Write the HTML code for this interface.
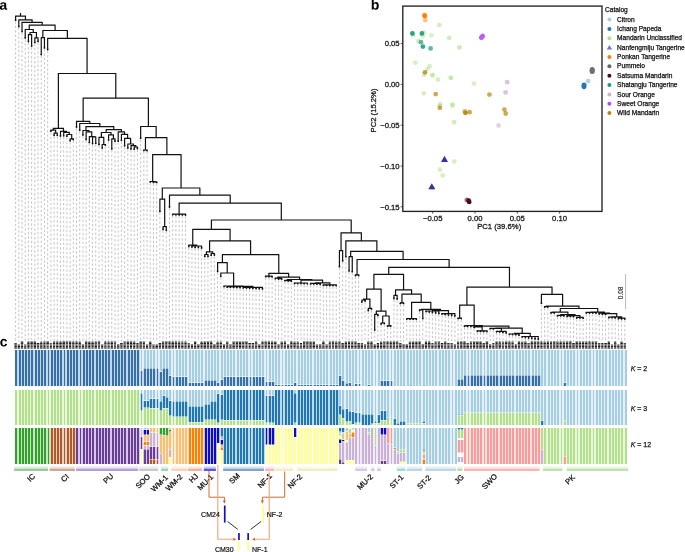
<!DOCTYPE html>
<html><head><meta charset="utf-8"><style>
html,body{margin:0;padding:0;background:#fff;}
body{width:685px;height:552px;overflow:hidden;font-family:"Liberation Sans",sans-serif;}
svg{display:block;font-family:"Liberation Sans",sans-serif;will-change:transform;}
</style></head><body>
<svg width="685" height="552" viewBox="0 0 685 552">
<defs><linearGradient id="g0" x1="0" y1="0" x2="0" y2="1"><stop offset="0" stop-color="#7cb87c" stop-opacity="0.04"/><stop offset="0.5" stop-color="#7cb87c" stop-opacity="0.3"/><stop offset="0.75" stop-color="#7cb87c" stop-opacity="0.75"/><stop offset="1" stop-color="#7cb87c" stop-opacity="1"/></linearGradient><linearGradient id="g1" x1="0" y1="0" x2="0" y2="1"><stop offset="0" stop-color="#c08a6a" stop-opacity="0.04"/><stop offset="0.5" stop-color="#c08a6a" stop-opacity="0.3"/><stop offset="0.75" stop-color="#c08a6a" stop-opacity="0.75"/><stop offset="1" stop-color="#c08a6a" stop-opacity="1"/></linearGradient><linearGradient id="g2" x1="0" y1="0" x2="0" y2="1"><stop offset="0" stop-color="#9b7fc8" stop-opacity="0.04"/><stop offset="0.5" stop-color="#9b7fc8" stop-opacity="0.3"/><stop offset="0.75" stop-color="#9b7fc8" stop-opacity="0.75"/><stop offset="1" stop-color="#9b7fc8" stop-opacity="1"/></linearGradient><linearGradient id="g3" x1="0" y1="0" x2="0" y2="1"><stop offset="0" stop-color="#b8b8b8" stop-opacity="0.04"/><stop offset="0.5" stop-color="#b8b8b8" stop-opacity="0.3"/><stop offset="0.75" stop-color="#b8b8b8" stop-opacity="0.75"/><stop offset="1" stop-color="#b8b8b8" stop-opacity="1"/></linearGradient><linearGradient id="g4" x1="0" y1="0" x2="0" y2="1"><stop offset="0" stop-color="#7cc4a4" stop-opacity="0.04"/><stop offset="0.5" stop-color="#7cc4a4" stop-opacity="0.3"/><stop offset="0.75" stop-color="#7cc4a4" stop-opacity="0.75"/><stop offset="1" stop-color="#7cc4a4" stop-opacity="1"/></linearGradient><linearGradient id="g5" x1="0" y1="0" x2="0" y2="1"><stop offset="0" stop-color="#f2c7a0" stop-opacity="0.04"/><stop offset="0.5" stop-color="#f2c7a0" stop-opacity="0.3"/><stop offset="0.75" stop-color="#f2c7a0" stop-opacity="0.75"/><stop offset="1" stop-color="#f2c7a0" stop-opacity="1"/></linearGradient><linearGradient id="g6" x1="0" y1="0" x2="0" y2="1"><stop offset="0" stop-color="#e69c78" stop-opacity="0.04"/><stop offset="0.5" stop-color="#e69c78" stop-opacity="0.3"/><stop offset="0.75" stop-color="#e69c78" stop-opacity="0.75"/><stop offset="1" stop-color="#e69c78" stop-opacity="1"/></linearGradient><linearGradient id="g7" x1="0" y1="0" x2="0" y2="1"><stop offset="0" stop-color="#2222d8" stop-opacity="0.04"/><stop offset="0.5" stop-color="#2222d8" stop-opacity="0.3"/><stop offset="0.75" stop-color="#2222d8" stop-opacity="0.75"/><stop offset="1" stop-color="#2222d8" stop-opacity="1"/></linearGradient><linearGradient id="g8" x1="0" y1="0" x2="0" y2="1"><stop offset="0" stop-color="#5b86b8" stop-opacity="0.04"/><stop offset="0.5" stop-color="#5b86b8" stop-opacity="0.3"/><stop offset="0.75" stop-color="#5b86b8" stop-opacity="0.75"/><stop offset="1" stop-color="#5b86b8" stop-opacity="1"/></linearGradient><linearGradient id="g9" x1="0" y1="0" x2="0" y2="1"><stop offset="0" stop-color="#f09cb0" stop-opacity="0.04"/><stop offset="0.5" stop-color="#f09cb0" stop-opacity="0.3"/><stop offset="0.75" stop-color="#f09cb0" stop-opacity="0.75"/><stop offset="1" stop-color="#f09cb0" stop-opacity="1"/></linearGradient><linearGradient id="g10" x1="0" y1="0" x2="0" y2="1"><stop offset="0" stop-color="#efe6b0" stop-opacity="0.04"/><stop offset="0.5" stop-color="#efe6b0" stop-opacity="0.3"/><stop offset="0.75" stop-color="#efe6b0" stop-opacity="0.75"/><stop offset="1" stop-color="#efe6b0" stop-opacity="1"/></linearGradient><linearGradient id="g11" x1="0" y1="0" x2="0" y2="1"><stop offset="0" stop-color="#efe6b0" stop-opacity="0.04"/><stop offset="0.5" stop-color="#efe6b0" stop-opacity="0.3"/><stop offset="0.75" stop-color="#efe6b0" stop-opacity="0.75"/><stop offset="1" stop-color="#efe6b0" stop-opacity="1"/></linearGradient><linearGradient id="g12" x1="0" y1="0" x2="0" y2="1"><stop offset="0" stop-color="#c8b4dc" stop-opacity="0.04"/><stop offset="0.5" stop-color="#c8b4dc" stop-opacity="0.3"/><stop offset="0.75" stop-color="#c8b4dc" stop-opacity="0.75"/><stop offset="1" stop-color="#c8b4dc" stop-opacity="1"/></linearGradient><linearGradient id="g13" x1="0" y1="0" x2="0" y2="1"><stop offset="0" stop-color="#c8b4dc" stop-opacity="0.04"/><stop offset="0.5" stop-color="#c8b4dc" stop-opacity="0.3"/><stop offset="0.75" stop-color="#c8b4dc" stop-opacity="0.75"/><stop offset="1" stop-color="#c8b4dc" stop-opacity="1"/></linearGradient><linearGradient id="g14" x1="0" y1="0" x2="0" y2="1"><stop offset="0" stop-color="#c8b4dc" stop-opacity="0.04"/><stop offset="0.5" stop-color="#c8b4dc" stop-opacity="0.3"/><stop offset="0.75" stop-color="#c8b4dc" stop-opacity="0.75"/><stop offset="1" stop-color="#c8b4dc" stop-opacity="1"/></linearGradient><linearGradient id="g15" x1="0" y1="0" x2="0" y2="1"><stop offset="0" stop-color="#78d0d0" stop-opacity="0.04"/><stop offset="0.5" stop-color="#78d0d0" stop-opacity="0.3"/><stop offset="0.75" stop-color="#78d0d0" stop-opacity="0.75"/><stop offset="1" stop-color="#78d0d0" stop-opacity="1"/></linearGradient><linearGradient id="g16" x1="0" y1="0" x2="0" y2="1"><stop offset="0" stop-color="#a8c8dc" stop-opacity="0.04"/><stop offset="0.5" stop-color="#a8c8dc" stop-opacity="0.3"/><stop offset="0.75" stop-color="#a8c8dc" stop-opacity="0.75"/><stop offset="1" stop-color="#a8c8dc" stop-opacity="1"/></linearGradient><linearGradient id="g17" x1="0" y1="0" x2="0" y2="1"><stop offset="0" stop-color="#a8c8dc" stop-opacity="0.04"/><stop offset="0.5" stop-color="#a8c8dc" stop-opacity="0.3"/><stop offset="0.75" stop-color="#a8c8dc" stop-opacity="0.75"/><stop offset="1" stop-color="#a8c8dc" stop-opacity="1"/></linearGradient><linearGradient id="g18" x1="0" y1="0" x2="0" y2="1"><stop offset="0" stop-color="#a0d090" stop-opacity="0.04"/><stop offset="0.5" stop-color="#a0d090" stop-opacity="0.3"/><stop offset="0.75" stop-color="#a0d090" stop-opacity="0.75"/><stop offset="1" stop-color="#a0d090" stop-opacity="1"/></linearGradient><linearGradient id="g19" x1="0" y1="0" x2="0" y2="1"><stop offset="0" stop-color="#f4a0a0" stop-opacity="0.04"/><stop offset="0.5" stop-color="#f4a0a0" stop-opacity="0.3"/><stop offset="0.75" stop-color="#f4a0a0" stop-opacity="0.75"/><stop offset="1" stop-color="#f4a0a0" stop-opacity="1"/></linearGradient><linearGradient id="g20" x1="0" y1="0" x2="0" y2="1"><stop offset="0" stop-color="#a8d890" stop-opacity="0.04"/><stop offset="0.5" stop-color="#a8d890" stop-opacity="0.3"/><stop offset="0.75" stop-color="#a8d890" stop-opacity="0.75"/><stop offset="1" stop-color="#a8d890" stop-opacity="1"/></linearGradient><linearGradient id="g21" x1="0" y1="0" x2="0" y2="1"><stop offset="0" stop-color="#a8d890" stop-opacity="0.04"/><stop offset="0.5" stop-color="#a8d890" stop-opacity="0.3"/><stop offset="0.75" stop-color="#a8d890" stop-opacity="0.75"/><stop offset="1" stop-color="#a8d890" stop-opacity="1"/></linearGradient></defs>
<rect width="685" height="552" fill="#fff"/>
<g><path d="M15.60 21.40V341.6 M18.81 27.80V341.6 M22.01 32.80V341.6 M25.22 39.10V341.6 M28.43 42.70V341.6 M31.63 47.30V341.6 M34.84 43.60V341.6 M38.04 42.60V341.6 M41.25 55.80V341.6 M44.46 49.10V341.6 M47.66 50.70V341.6 M50.87 132.40V341.6 M54.08 136.50V341.6 M57.28 136.50V341.6 M60.49 137.20V341.6 M63.69 137.00V341.6 M66.90 137.40V341.6 M70.11 142.00V341.6 M73.31 140.70V341.6 M76.52 128.20V341.6 M79.73 131.40V341.6 M82.93 136.10V341.6 M86.14 140.70V341.6 M89.34 143.60V341.6 M92.55 144.80V341.6 M95.76 144.50V341.6 M98.96 145.70V341.6 M102.17 149.30V341.6 M105.38 146.20V341.6 M108.58 141.30V341.6 M111.79 150.10V341.6 M115.00 142.40V341.6 M118.20 142.40V341.6 M121.41 141.50V341.6 M124.61 147.00V341.6 M127.82 149.30V341.6 M131.03 150.20V341.6 M134.23 150.40V341.6 M137.44 149.70V341.6 M140.65 139.40V341.6 M143.85 151.80V341.6 M147.06 151.90V341.6 M150.26 183.30V341.6 M153.47 183.60V341.6 M156.68 183.60V341.6 M159.88 212.60V341.6 M163.09 230.60V341.6 M166.30 231.50V341.6 M169.50 208.20V341.6 M172.71 215.90V341.6 M175.91 216.00V341.6 M179.12 216.10V341.6 M182.33 216.10V341.6 M185.53 216.20V341.6 M188.74 247.80V341.6 M191.95 248.20V341.6 M195.15 248.60V341.6 M198.36 248.80V341.6 M201.57 249.20V341.6 M204.77 257.60V341.6 M207.98 257.60V341.6 M211.18 256.40V341.6 M214.39 256.20V341.6 M217.60 272.60V341.6 M220.80 277.50V341.6 M224.01 287.80V341.6 M227.22 288.40V341.6 M230.42 288.52V341.6 M233.63 288.65V341.6 M236.83 288.77V341.6 M240.04 288.90V341.6 M243.25 289.10V341.6 M246.45 289.27V341.6 M249.66 289.43V341.6 M252.87 289.60V341.6 M256.07 289.77V341.6 M259.28 289.93V341.6 M262.49 290.10V341.6 M265.69 277.90V341.6 M268.90 278.00V341.6 M272.10 278.10V341.6 M275.31 279.90V341.6 M278.52 280.20V341.6 M281.72 280.30V341.6 M284.93 282.00V341.6 M288.14 282.20V341.6 M291.34 282.40V341.6 M294.55 284.70V341.6 M297.75 284.80V341.6 M300.96 284.80V341.6 M304.17 284.90V341.6 M307.37 285.00V341.6 M310.58 285.10V341.6 M313.79 285.20V341.6 M316.99 285.40V341.6 M320.20 285.60V341.6 M323.40 286.50V341.6 M326.61 286.60V341.6 M329.82 286.70V341.6 M333.02 286.80V341.6 M336.23 286.90V341.6 M339.44 267.90V341.6 M342.64 262.10V341.6 M345.85 257.90V341.6 M349.06 272.10V341.6 M352.26 272.90V341.6 M355.47 276.70V341.6 M358.67 276.70V341.6 M361.88 303.20V341.6 M365.09 302.20V341.6 M368.29 311.70V341.6 M371.50 310.20V341.6 M374.71 331.30V341.6 M377.91 316.70V341.6 M381.12 325.20V341.6 M384.32 324.70V341.6 M387.53 327.20V341.6 M390.74 327.20V341.6 M393.94 299.70V341.6 M397.15 300.20V341.6 M400.36 304.60V341.6 M403.56 304.60V341.6 M406.77 320.30V341.6 M409.97 320.40V341.6 M413.18 320.40V341.6 M416.39 320.50V341.6 M419.59 311.70V341.6 M422.80 319.80V341.6 M426.01 312.70V341.6 M429.21 313.20V341.6 M432.42 313.70V341.6 M435.63 314.20V341.6 M438.83 314.70V341.6 M442.04 315.20V341.6 M445.24 315.70V341.6 M448.45 316.20V341.6 M451.66 316.70V341.6 M454.86 317.20V341.6 M458.07 319.80V341.6 M461.28 319.80V341.6 M464.48 327.50V341.6 M467.69 327.60V341.6 M470.89 327.70V341.6 M474.10 328.60V341.6 M477.31 332.50V341.6 M480.51 332.60V341.6 M483.72 332.70V341.6 M486.93 332.80V341.6 M490.13 330.00V341.6 M493.34 330.10V341.6 M496.55 333.00V341.6 M499.75 333.20V341.6 M502.96 333.60V341.6 M506.16 334.20V341.6 M509.37 335.60V341.6 M512.58 335.80V341.6 M515.78 336.00V341.6 M518.99 336.40V341.6 M522.20 338.20V341.6 M525.40 338.70V341.6 M528.61 339.20V341.6 M531.81 339.70V341.6 M535.02 340.20V341.6 M538.23 340.50V341.6 M541.43 304.40V341.6 M544.64 308.20V341.6 M547.85 308.20V341.6 M551.05 314.20V341.6 M554.26 314.20V341.6 M557.46 317.10V341.6 M560.67 317.10V341.6 M563.88 317.20V341.6 M567.08 317.70V341.6 M570.29 317.80V341.6 M573.50 317.90V341.6 M576.70 319.20V341.6 M579.91 319.30V341.6 M583.12 319.40V341.6 M586.32 314.20V341.6 M589.53 314.20V341.6 M592.73 314.30V341.6 M595.94 314.40V341.6 M599.15 315.20V341.6 M602.35 315.50V341.6 M605.56 315.60V341.6 M608.77 318.90V341.6 M611.97 319.00V341.6 M615.18 319.10V341.6 M618.38 320.00V341.6 M621.59 320.10V341.6 M624.80 320.20V341.6" stroke="#bababa" stroke-width="0.85" stroke-dasharray="2.4 2.0" fill="none"/><path d="M27.93 34.70H32.13 M34.34 37.90H38.54 M29.53 32.50H36.94 M24.72 29.50H33.73 M40.75 37.70H44.96 M53.58 133.20H57.78 M50.37 130.10H56.18 M69.61 138.90H73.81 M66.40 134.50H72.21 M63.19 132.30H69.81 M59.99 131.40H67.00 M52.77 128.40H63.99 M92.05 136.90H96.26 M88.84 136.60H94.65 M85.64 131.90H92.25 M82.43 130.50H89.44 M101.67 144.50H105.88 M98.46 137.40H104.27 M111.29 138.90H115.50 M108.08 134.80H113.89 M100.87 132.50H111.49 M133.73 147.00H137.94 M130.53 145.60H136.34 M127.32 144.00H133.93 M124.11 138.40H131.13 M120.91 134.40H128.12 M117.70 131.80H125.01 M105.68 129.70H121.86 M85.44 126.60H114.27 M79.23 123.50H100.35 M76.02 121.30H90.29 M143.35 150.00H147.56 M152.97 181.90H157.18 M149.76 181.50H155.57 M162.59 226.70H166.80 M159.38 199.20H165.19 M172.21 214.20H186.03 M191.45 246.00H202.07 M188.24 245.10H197.26 M204.27 254.50H208.48 M210.68 253.50H214.89 M205.87 251.90H213.29 M226.72 286.70H240.54 M242.75 287.40H262.99 M233.13 286.30H253.37 M223.51 286.00H243.75 M220.30 273.00H234.13 M217.10 262.70H227.72 M265.19 276.10H272.60 M278.02 278.60H282.22 M274.81 278.20H280.62 M287.64 280.60H291.84 M284.43 280.30H290.24 M294.05 283.00H307.87 M310.08 283.40H320.70 M322.90 284.90H336.73 M314.89 282.80H330.32 M300.46 280.20H323.10 M286.83 279.50H312.28 M277.22 277.10H300.06 M268.40 273.40H289.14 M221.91 254.60H279.27 M209.08 240.90H251.09 M192.25 229.40H230.58 M338.94 250.70H343.14 M348.56 256.70H352.76 M354.97 274.90H359.17 M361.38 300.00H365.59 M367.79 308.40H372.00 M362.98 299.10H370.40 M374.21 314.30H378.41 M380.62 323.00H384.82 M387.03 325.80H391.24 M382.22 316.00H389.63 M375.81 311.10H386.43 M366.19 289.10H381.62 M393.44 295.30H397.65 M399.86 302.90H404.06 M406.27 318.60H416.89 M419.09 309.80H423.30 M425.51 311.00H439.33 M441.54 313.60H455.36 M431.92 310.70H448.95 M420.70 309.30H440.93 M411.08 302.30H431.32 M401.46 294.20H421.70 M395.05 289.90H412.08 M373.40 274.40H404.06 M457.57 318.10H461.78 M463.98 325.80H468.19 M476.81 330.80H487.43 M473.60 327.00H482.62 M496.05 331.40H506.66 M489.63 328.40H501.85 M508.87 334.00H519.49 M521.70 336.50H538.73 M513.68 333.40H530.71 M495.24 328.10H522.70 M477.61 326.20H509.47 M470.39 326.00H494.04 M465.59 325.50H482.72 M459.17 305.20H474.65 M544.14 306.60H548.35 M550.55 312.40H554.76 M556.96 315.30H564.38 M566.58 315.90H574.00 M576.20 317.40H583.62 M569.79 315.60H580.41 M560.17 314.70H575.60 M552.16 312.10H568.39 M585.82 312.40H596.44 M608.27 317.20H615.68 M617.88 318.20H625.30 M611.47 316.80H622.09 M601.85 313.60H617.28 M598.65 313.20H610.07 M590.63 312.10H604.86 M559.77 308.50H598.24 M545.74 306.20H579.51 M540.93 294.30H563.12 M466.41 287.20H552.53 M388.23 267.40H509.97 M356.57 259.50H449.60 M350.16 251.40H403.59 M345.35 240.80H377.37 M340.54 232.80H361.86 M210.92 220.00H351.70 M178.62 203.10H281.81 M169.00 195.20H230.71 M161.79 188.00H200.36 M152.17 154.60H181.57 M144.96 137.60H167.37 M140.15 126.50H156.66 M82.65 98.20H148.90 M57.88 73.50H116.28 M47.16 38.30H87.58 M42.35 30.50H67.87 M28.73 25.20H55.61 M21.51 22.30H42.67 M18.31 19.80H32.59 M15.10 16.20H25.95 M15.60 16.20V20.20 M18.81 19.80V26.60 M22.01 22.30V31.60 M25.22 29.50V37.90 M28.43 34.70V41.50 M31.63 34.70V46.10 M30.03 32.50V34.70 M34.84 37.90V42.40 M38.04 37.90V41.40 M36.44 32.50V37.90 M33.23 29.50V32.50 M29.23 25.20V29.50 M41.25 37.70V54.60 M44.46 37.70V47.90 M42.85 30.50V37.70 M47.66 38.30V49.50 M50.87 130.10V131.20 M54.08 133.20V135.30 M57.28 133.20V135.30 M55.68 130.10V133.20 M53.27 128.40V130.10 M60.49 131.40V136.00 M63.69 132.30V135.80 M66.90 134.50V136.20 M70.11 138.90V140.80 M73.31 138.90V139.50 M71.71 134.50V138.90 M69.31 132.30V134.50 M66.50 131.40V132.30 M63.49 128.40V131.40 M58.38 73.50V128.40 M76.52 121.30V127.00 M79.73 123.50V130.20 M82.93 130.50V134.90 M86.14 131.90V139.50 M89.34 136.60V142.40 M92.55 136.90V143.60 M95.76 136.90V143.30 M94.15 136.60V136.90 M91.75 131.90V136.60 M88.94 130.50V131.90 M85.94 126.60V130.50 M98.96 137.40V144.50 M102.17 144.50V148.10 M105.38 144.50V145.00 M103.77 137.40V144.50 M101.37 132.50V137.40 M108.58 134.80V140.10 M111.79 138.90V148.90 M115.00 138.90V141.20 M113.39 134.80V138.90 M110.99 132.50V134.80 M106.18 129.70V132.50 M118.20 131.80V141.20 M121.41 134.40V140.30 M124.61 138.40V145.80 M127.82 144.00V148.10 M131.03 145.60V149.00 M134.23 147.00V149.20 M137.44 147.00V148.50 M135.84 145.60V147.00 M133.43 144.00V145.60 M130.63 138.40V144.00 M127.62 134.40V138.40 M124.51 131.80V134.40 M121.36 129.70V131.80 M113.77 126.60V129.70 M99.85 123.50V126.60 M89.79 121.30V123.50 M83.15 98.20V121.30 M140.65 126.50V138.20 M143.85 150.00V150.60 M147.06 150.00V150.70 M145.46 137.60V150.00 M150.26 181.50V182.10 M153.47 181.90V182.40 M156.68 181.90V182.40 M155.07 181.50V181.90 M152.67 154.60V181.50 M159.88 199.20V211.40 M163.09 226.70V229.40 M166.30 226.70V230.30 M164.69 199.20V226.70 M162.29 188.00V199.20 M169.50 195.20V207.00 M172.71 214.20V214.70 M175.91 214.20V214.80 M179.12 214.20V214.90 M182.33 214.20V214.90 M185.53 214.20V215.00 M179.12 203.10V214.20 M188.74 245.10V246.60 M191.95 246.00V247.00 M195.15 246.00V247.40 M198.36 246.00V247.60 M201.57 246.00V248.00 M196.76 245.10V246.00 M192.75 229.40V245.10 M204.77 254.50V256.40 M207.98 254.50V256.40 M206.37 251.90V254.50 M211.18 253.50V255.20 M214.39 253.50V255.00 M212.79 251.90V253.50 M209.58 240.90V251.90 M217.60 262.70V271.40 M220.80 273.00V276.30 M224.01 286.00V286.60 M227.22 286.70V287.20 M230.42 286.70V287.32 M233.63 286.70V287.45 M236.83 286.70V287.57 M240.04 286.70V287.70 M233.63 286.30V286.70 M243.25 287.40V287.90 M246.45 287.40V288.07 M249.66 287.40V288.23 M252.87 287.40V288.40 M256.07 287.40V288.57 M259.28 287.40V288.73 M262.49 287.40V288.90 M252.87 286.30V287.40 M243.25 286.00V286.30 M233.63 273.00V286.00 M227.22 262.70V273.00 M222.41 254.60V262.70 M265.69 276.10V276.70 M268.90 276.10V276.80 M272.10 276.10V276.90 M268.90 273.40V276.10 M275.31 278.20V278.70 M278.52 278.60V279.00 M281.72 278.60V279.10 M280.12 278.20V278.60 M277.72 277.10V278.20 M284.93 280.30V280.80 M288.14 280.60V281.00 M291.34 280.60V281.20 M289.74 280.30V280.60 M287.33 279.50V280.30 M294.55 283.00V283.50 M297.75 283.00V283.60 M300.96 283.00V283.60 M304.17 283.00V283.70 M307.37 283.00V283.80 M300.96 280.20V283.00 M310.58 283.40V283.90 M313.79 283.40V284.00 M316.99 283.40V284.20 M320.20 283.40V284.40 M315.39 282.80V283.40 M323.40 284.90V285.30 M326.61 284.90V285.40 M329.82 284.90V285.50 M333.02 284.90V285.60 M336.23 284.90V285.70 M329.82 282.80V284.90 M322.60 280.20V282.80 M311.78 279.50V280.20 M299.56 277.10V279.50 M288.64 273.40V277.10 M278.77 254.60V273.40 M250.59 240.90V254.60 M230.08 229.40V240.90 M211.42 220.00V229.40 M339.44 250.70V266.70 M342.64 250.70V260.90 M341.04 232.80V250.70 M345.85 240.80V256.70 M349.06 256.70V270.90 M352.26 256.70V271.70 M350.66 251.40V256.70 M355.47 274.90V275.50 M358.67 274.90V275.50 M357.07 259.50V274.90 M361.88 300.00V302.00 M365.09 300.00V301.00 M363.48 299.10V300.00 M368.29 308.40V310.50 M371.50 308.40V309.00 M369.90 299.10V308.40 M366.69 289.10V299.10 M374.71 314.30V330.10 M377.91 314.30V315.50 M376.31 311.10V314.30 M381.12 323.00V324.00 M384.32 323.00V323.50 M382.72 316.00V323.00 M387.53 325.80V326.00 M390.74 325.80V326.00 M389.13 316.00V325.80 M385.93 311.10V316.00 M381.12 289.10V311.10 M373.90 274.40V289.10 M393.94 295.30V298.50 M397.15 295.30V299.00 M395.55 289.90V295.30 M400.36 302.90V303.40 M403.56 302.90V303.40 M401.96 294.20V302.90 M406.77 318.60V319.10 M409.97 318.60V319.20 M413.18 318.60V319.20 M416.39 318.60V319.30 M411.58 302.30V318.60 M419.59 309.80V310.50 M422.80 309.80V318.60 M421.20 309.30V309.80 M426.01 311.00V311.50 M429.21 311.00V312.00 M432.42 311.00V312.50 M435.63 311.00V313.00 M438.83 311.00V313.50 M432.42 310.70V311.00 M442.04 313.60V314.00 M445.24 313.60V314.50 M448.45 313.60V315.00 M451.66 313.60V315.50 M454.86 313.60V316.00 M448.45 310.70V313.60 M440.43 309.30V310.70 M430.82 302.30V309.30 M421.20 294.20V302.30 M411.58 289.90V294.20 M403.56 274.40V289.90 M388.73 267.40V274.40 M458.07 318.10V318.60 M461.28 318.10V318.60 M459.67 305.20V318.10 M464.48 325.80V326.30 M467.69 325.80V326.40 M466.09 325.50V325.80 M470.89 326.00V326.50 M474.10 327.00V327.40 M477.31 330.80V331.30 M480.51 330.80V331.40 M483.72 330.80V331.50 M486.93 330.80V331.60 M482.12 327.00V330.80 M478.11 326.20V327.00 M490.13 328.40V328.80 M493.34 328.40V328.90 M496.55 331.40V331.80 M499.75 331.40V332.00 M502.96 331.40V332.40 M506.16 331.40V333.00 M501.35 328.40V331.40 M495.74 328.10V328.40 M509.37 334.00V334.40 M512.58 334.00V334.60 M515.78 334.00V334.80 M518.99 334.00V335.20 M514.18 333.40V334.00 M522.20 336.50V337.00 M525.40 336.50V337.50 M528.61 336.50V338.00 M531.81 336.50V338.50 M535.02 336.50V339.00 M538.23 336.50V339.30 M530.21 333.40V336.50 M522.20 328.10V333.40 M508.97 326.20V328.10 M493.54 326.00V326.20 M482.22 325.50V326.00 M474.15 305.20V325.50 M466.91 287.20V305.20 M541.43 294.30V303.20 M544.64 306.60V307.00 M547.85 306.60V307.00 M546.24 306.20V306.60 M551.05 312.40V313.00 M554.26 312.40V313.00 M552.66 312.10V312.40 M557.46 315.30V315.90 M560.67 315.30V315.90 M563.88 315.30V316.00 M560.67 314.70V315.30 M567.08 315.90V316.50 M570.29 315.90V316.60 M573.50 315.90V316.70 M570.29 315.60V315.90 M576.70 317.40V318.00 M579.91 317.40V318.10 M583.12 317.40V318.20 M579.91 315.60V317.40 M575.10 314.70V315.60 M567.89 312.10V314.70 M560.27 308.50V312.10 M586.32 312.40V313.00 M589.53 312.40V313.00 M592.73 312.40V313.10 M595.94 312.40V313.20 M591.13 312.10V312.40 M599.15 313.20V314.00 M602.35 313.60V314.30 M605.56 313.60V314.40 M608.77 317.20V317.70 M611.97 317.20V317.80 M615.18 317.20V317.90 M611.97 316.80V317.20 M618.38 318.20V318.80 M621.59 318.20V318.90 M624.80 318.20V319.00 M621.59 316.80V318.20 M616.78 313.60V316.80 M609.57 313.20V313.60 M604.36 312.10V313.20 M597.74 308.50V312.10 M579.01 306.20V308.50 M562.62 294.30V306.20 M552.03 287.20V294.30 M509.47 267.40V287.20 M449.10 259.50V267.40 M403.09 251.40V259.50 M376.87 240.80V251.40 M361.36 232.80V240.80 M351.20 220.00V232.80 M281.31 203.10V220.00 M230.21 195.20V203.10 M199.86 188.00V195.20 M181.07 154.60V188.00 M166.87 137.60V154.60 M156.16 126.50V137.60 M148.40 98.20V126.50 M115.78 73.50V98.20 M87.08 38.30V73.50 M67.37 30.50V38.30 M55.11 25.20V30.50 M42.17 22.30V25.20 M32.09 19.80V22.30 M25.45 16.20V19.80 M20.52 13.00V16.20" stroke="#111" stroke-width="1.2" fill="none" stroke-linecap="butt"/><g fill="#151515"><circle cx="15.60" cy="20.20" r="0.9"/><circle cx="18.81" cy="26.60" r="0.9"/><circle cx="22.01" cy="31.60" r="0.9"/><circle cx="25.22" cy="37.90" r="0.9"/><circle cx="28.43" cy="41.50" r="0.9"/><circle cx="31.63" cy="46.10" r="0.9"/><circle cx="34.84" cy="42.40" r="0.9"/><circle cx="38.04" cy="41.40" r="0.9"/><circle cx="41.25" cy="54.60" r="0.9"/><circle cx="44.46" cy="47.90" r="0.9"/><circle cx="47.66" cy="49.50" r="0.9"/><circle cx="50.87" cy="131.20" r="0.9"/><circle cx="54.08" cy="135.30" r="0.9"/><circle cx="57.28" cy="135.30" r="0.9"/><circle cx="60.49" cy="136.00" r="0.9"/><circle cx="63.69" cy="135.80" r="0.9"/><circle cx="66.90" cy="136.20" r="0.9"/><circle cx="70.11" cy="140.80" r="0.9"/><circle cx="73.31" cy="139.50" r="0.9"/><circle cx="76.52" cy="127.00" r="0.9"/><circle cx="79.73" cy="130.20" r="0.9"/><circle cx="82.93" cy="134.90" r="0.9"/><circle cx="86.14" cy="139.50" r="0.9"/><circle cx="89.34" cy="142.40" r="0.9"/><circle cx="92.55" cy="143.60" r="0.9"/><circle cx="95.76" cy="143.30" r="0.9"/><circle cx="98.96" cy="144.50" r="0.9"/><circle cx="102.17" cy="148.10" r="0.9"/><circle cx="105.38" cy="145.00" r="0.9"/><circle cx="108.58" cy="140.10" r="0.9"/><circle cx="111.79" cy="148.90" r="0.9"/><circle cx="115.00" cy="141.20" r="0.9"/><circle cx="118.20" cy="141.20" r="0.9"/><circle cx="121.41" cy="140.30" r="0.9"/><circle cx="124.61" cy="145.80" r="0.9"/><circle cx="127.82" cy="148.10" r="0.9"/><circle cx="131.03" cy="149.00" r="0.9"/><circle cx="134.23" cy="149.20" r="0.9"/><circle cx="137.44" cy="148.50" r="0.9"/><circle cx="140.65" cy="138.20" r="0.9"/><circle cx="143.85" cy="150.60" r="0.9"/><circle cx="147.06" cy="150.70" r="0.9"/><circle cx="150.26" cy="182.10" r="0.9"/><circle cx="153.47" cy="182.40" r="0.9"/><circle cx="156.68" cy="182.40" r="0.9"/><circle cx="159.88" cy="211.40" r="0.9"/><circle cx="163.09" cy="229.40" r="0.9"/><circle cx="166.30" cy="230.30" r="0.9"/><circle cx="169.50" cy="207.00" r="0.9"/><circle cx="172.71" cy="214.70" r="0.9"/><circle cx="175.91" cy="214.80" r="0.9"/><circle cx="179.12" cy="214.90" r="0.9"/><circle cx="182.33" cy="214.90" r="0.9"/><circle cx="185.53" cy="215.00" r="0.9"/><circle cx="188.74" cy="246.60" r="0.9"/><circle cx="191.95" cy="247.00" r="0.9"/><circle cx="195.15" cy="247.40" r="0.9"/><circle cx="198.36" cy="247.60" r="0.9"/><circle cx="201.57" cy="248.00" r="0.9"/><circle cx="204.77" cy="256.40" r="0.9"/><circle cx="207.98" cy="256.40" r="0.9"/><circle cx="211.18" cy="255.20" r="0.9"/><circle cx="214.39" cy="255.00" r="0.9"/><circle cx="217.60" cy="271.40" r="0.9"/><circle cx="220.80" cy="276.30" r="0.9"/><circle cx="224.01" cy="286.60" r="0.9"/><circle cx="227.22" cy="287.20" r="0.9"/><circle cx="230.42" cy="287.32" r="0.9"/><circle cx="233.63" cy="287.45" r="0.9"/><circle cx="236.83" cy="287.57" r="0.9"/><circle cx="240.04" cy="287.70" r="0.9"/><circle cx="243.25" cy="287.90" r="0.9"/><circle cx="246.45" cy="288.07" r="0.9"/><circle cx="249.66" cy="288.23" r="0.9"/><circle cx="252.87" cy="288.40" r="0.9"/><circle cx="256.07" cy="288.57" r="0.9"/><circle cx="259.28" cy="288.73" r="0.9"/><circle cx="262.49" cy="288.90" r="0.9"/><circle cx="265.69" cy="276.70" r="0.9"/><circle cx="268.90" cy="276.80" r="0.9"/><circle cx="272.10" cy="276.90" r="0.9"/><circle cx="275.31" cy="278.70" r="0.9"/><circle cx="278.52" cy="279.00" r="0.9"/><circle cx="281.72" cy="279.10" r="0.9"/><circle cx="284.93" cy="280.80" r="0.9"/><circle cx="288.14" cy="281.00" r="0.9"/><circle cx="291.34" cy="281.20" r="0.9"/><circle cx="294.55" cy="283.50" r="0.9"/><circle cx="297.75" cy="283.60" r="0.9"/><circle cx="300.96" cy="283.60" r="0.9"/><circle cx="304.17" cy="283.70" r="0.9"/><circle cx="307.37" cy="283.80" r="0.9"/><circle cx="310.58" cy="283.90" r="0.9"/><circle cx="313.79" cy="284.00" r="0.9"/><circle cx="316.99" cy="284.20" r="0.9"/><circle cx="320.20" cy="284.40" r="0.9"/><circle cx="323.40" cy="285.30" r="0.9"/><circle cx="326.61" cy="285.40" r="0.9"/><circle cx="329.82" cy="285.50" r="0.9"/><circle cx="333.02" cy="285.60" r="0.9"/><circle cx="336.23" cy="285.70" r="0.9"/><circle cx="339.44" cy="266.70" r="0.9"/><circle cx="342.64" cy="260.90" r="0.9"/><circle cx="345.85" cy="256.70" r="0.9"/><circle cx="349.06" cy="270.90" r="0.9"/><circle cx="352.26" cy="271.70" r="0.9"/><circle cx="355.47" cy="275.50" r="0.9"/><circle cx="358.67" cy="275.50" r="0.9"/><circle cx="361.88" cy="302.00" r="0.9"/><circle cx="365.09" cy="301.00" r="0.9"/><circle cx="368.29" cy="310.50" r="0.9"/><circle cx="371.50" cy="309.00" r="0.9"/><circle cx="374.71" cy="330.10" r="0.9"/><circle cx="377.91" cy="315.50" r="0.9"/><circle cx="381.12" cy="324.00" r="0.9"/><circle cx="384.32" cy="323.50" r="0.9"/><circle cx="387.53" cy="326.00" r="0.9"/><circle cx="390.74" cy="326.00" r="0.9"/><circle cx="393.94" cy="298.50" r="0.9"/><circle cx="397.15" cy="299.00" r="0.9"/><circle cx="400.36" cy="303.40" r="0.9"/><circle cx="403.56" cy="303.40" r="0.9"/><circle cx="406.77" cy="319.10" r="0.9"/><circle cx="409.97" cy="319.20" r="0.9"/><circle cx="413.18" cy="319.20" r="0.9"/><circle cx="416.39" cy="319.30" r="0.9"/><circle cx="419.59" cy="310.50" r="0.9"/><circle cx="422.80" cy="318.60" r="0.9"/><circle cx="426.01" cy="311.50" r="0.9"/><circle cx="429.21" cy="312.00" r="0.9"/><circle cx="432.42" cy="312.50" r="0.9"/><circle cx="435.63" cy="313.00" r="0.9"/><circle cx="438.83" cy="313.50" r="0.9"/><circle cx="442.04" cy="314.00" r="0.9"/><circle cx="445.24" cy="314.50" r="0.9"/><circle cx="448.45" cy="315.00" r="0.9"/><circle cx="451.66" cy="315.50" r="0.9"/><circle cx="454.86" cy="316.00" r="0.9"/><circle cx="458.07" cy="318.60" r="0.9"/><circle cx="461.28" cy="318.60" r="0.9"/><circle cx="464.48" cy="326.30" r="0.9"/><circle cx="467.69" cy="326.40" r="0.9"/><circle cx="470.89" cy="326.50" r="0.9"/><circle cx="474.10" cy="327.40" r="0.9"/><circle cx="477.31" cy="331.30" r="0.9"/><circle cx="480.51" cy="331.40" r="0.9"/><circle cx="483.72" cy="331.50" r="0.9"/><circle cx="486.93" cy="331.60" r="0.9"/><circle cx="490.13" cy="328.80" r="0.9"/><circle cx="493.34" cy="328.90" r="0.9"/><circle cx="496.55" cy="331.80" r="0.9"/><circle cx="499.75" cy="332.00" r="0.9"/><circle cx="502.96" cy="332.40" r="0.9"/><circle cx="506.16" cy="333.00" r="0.9"/><circle cx="509.37" cy="334.40" r="0.9"/><circle cx="512.58" cy="334.60" r="0.9"/><circle cx="515.78" cy="334.80" r="0.9"/><circle cx="518.99" cy="335.20" r="0.9"/><circle cx="522.20" cy="337.00" r="0.9"/><circle cx="525.40" cy="337.50" r="0.9"/><circle cx="528.61" cy="338.00" r="0.9"/><circle cx="531.81" cy="338.50" r="0.9"/><circle cx="535.02" cy="339.00" r="0.9"/><circle cx="538.23" cy="339.30" r="0.9"/><circle cx="541.43" cy="303.20" r="0.9"/><circle cx="544.64" cy="307.00" r="0.9"/><circle cx="547.85" cy="307.00" r="0.9"/><circle cx="551.05" cy="313.00" r="0.9"/><circle cx="554.26" cy="313.00" r="0.9"/><circle cx="557.46" cy="315.90" r="0.9"/><circle cx="560.67" cy="315.90" r="0.9"/><circle cx="563.88" cy="316.00" r="0.9"/><circle cx="567.08" cy="316.50" r="0.9"/><circle cx="570.29" cy="316.60" r="0.9"/><circle cx="573.50" cy="316.70" r="0.9"/><circle cx="576.70" cy="318.00" r="0.9"/><circle cx="579.91" cy="318.10" r="0.9"/><circle cx="583.12" cy="318.20" r="0.9"/><circle cx="586.32" cy="313.00" r="0.9"/><circle cx="589.53" cy="313.00" r="0.9"/><circle cx="592.73" cy="313.10" r="0.9"/><circle cx="595.94" cy="313.20" r="0.9"/><circle cx="599.15" cy="314.00" r="0.9"/><circle cx="602.35" cy="314.30" r="0.9"/><circle cx="605.56" cy="314.40" r="0.9"/><circle cx="608.77" cy="317.70" r="0.9"/><circle cx="611.97" cy="317.80" r="0.9"/><circle cx="615.18" cy="317.90" r="0.9"/><circle cx="618.38" cy="318.80" r="0.9"/><circle cx="621.59" cy="318.90" r="0.9"/><circle cx="624.80" cy="319.00" r="0.9"/></g><g><rect x="14.35" y="347.39" width="2.5" height="1.21" fill="#1a1a1a" fill-opacity="1.0"/><rect x="14.45" y="345.93" width="2.3" height="1.21" fill="#1a1a1a" fill-opacity="0.9"/><rect x="14.35" y="344.47" width="2.5" height="1.21" fill="#1a1a1a" fill-opacity="1.0"/><rect x="14.35" y="343.01" width="2.5" height="1.21" fill="#1a1a1a" fill-opacity="0.8"/><rect x="17.66" y="347.39" width="2.3" height="1.21" fill="#1a1a1a" fill-opacity="1.0"/><rect x="17.56" y="345.93" width="2.5" height="1.21" fill="#1a1a1a" fill-opacity="1.0"/><rect x="17.76" y="344.47" width="2.1" height="1.21" fill="#1a1a1a" fill-opacity="0.9"/><rect x="20.86" y="347.39" width="2.3" height="1.21" fill="#1a1a1a" fill-opacity="1.0"/><rect x="20.86" y="345.93" width="2.3" height="1.21" fill="#1a1a1a" fill-opacity="1.0"/><rect x="20.96" y="344.47" width="2.1" height="1.21" fill="#1a1a1a" fill-opacity="0.9"/><rect x="20.76" y="343.01" width="2.5" height="1.21" fill="#1a1a1a" fill-opacity="0.9"/><rect x="20.76" y="341.55" width="2.5" height="1.21" fill="#1a1a1a" fill-opacity="1.0"/><rect x="23.97" y="347.39" width="2.5" height="1.21" fill="#1a1a1a" fill-opacity="1.0"/><rect x="24.17" y="345.93" width="2.1" height="1.21" fill="#1a1a1a" fill-opacity="0.8"/><rect x="24.07" y="344.47" width="2.3" height="1.21" fill="#1a1a1a" fill-opacity="0.8"/><rect x="27.38" y="347.39" width="2.1" height="1.21" fill="#1a1a1a" fill-opacity="1.0"/><rect x="27.28" y="345.93" width="2.3" height="1.21" fill="#1a1a1a" fill-opacity="1.0"/><rect x="27.18" y="344.47" width="2.5" height="1.21" fill="#1a1a1a" fill-opacity="1.0"/><rect x="27.28" y="343.01" width="2.3" height="1.21" fill="#1a1a1a" fill-opacity="1.0"/><rect x="27.38" y="341.55" width="2.1" height="1.21" fill="#1a1a1a" fill-opacity="1.0"/><rect x="30.58" y="347.39" width="2.1" height="1.21" fill="#1a1a1a" fill-opacity="1.0"/><rect x="30.58" y="345.93" width="2.1" height="1.21" fill="#1a1a1a" fill-opacity="0.8"/><rect x="30.58" y="344.47" width="2.1" height="1.21" fill="#1a1a1a" fill-opacity="1.0"/><rect x="30.38" y="343.01" width="2.5" height="1.21" fill="#1a1a1a" fill-opacity="1.0"/><rect x="30.38" y="341.55" width="2.5" height="1.21" fill="#1a1a1a" fill-opacity="1.0"/><rect x="33.69" y="347.39" width="2.3" height="1.21" fill="#1a1a1a" fill-opacity="1.0"/><rect x="33.59" y="345.93" width="2.5" height="1.21" fill="#1a1a1a" fill-opacity="1.0"/><rect x="33.59" y="344.47" width="2.5" height="1.21" fill="#1a1a1a" fill-opacity="1.0"/><rect x="33.59" y="343.01" width="2.5" height="1.21" fill="#1a1a1a" fill-opacity="1.0"/><rect x="33.59" y="341.55" width="2.5" height="1.21" fill="#1a1a1a" fill-opacity="1.0"/><rect x="36.89" y="347.39" width="2.3" height="1.21" fill="#1a1a1a" fill-opacity="1.0"/><rect x="36.89" y="345.93" width="2.3" height="1.21" fill="#1a1a1a" fill-opacity="0.8"/><rect x="36.79" y="344.47" width="2.5" height="1.21" fill="#1a1a1a" fill-opacity="0.9"/><rect x="36.79" y="343.01" width="2.5" height="1.21" fill="#1a1a1a" fill-opacity="1.0"/><rect x="40.00" y="347.39" width="2.5" height="1.21" fill="#1a1a1a" fill-opacity="1.0"/><rect x="40.00" y="345.93" width="2.5" height="1.21" fill="#1a1a1a" fill-opacity="0.8"/><rect x="40.00" y="344.47" width="2.5" height="1.21" fill="#1a1a1a" fill-opacity="0.9"/><rect x="40.10" y="343.01" width="2.3" height="1.21" fill="#1a1a1a" fill-opacity="1.0"/><rect x="40.20" y="341.55" width="2.1" height="1.21" fill="#1a1a1a" fill-opacity="0.8"/><rect x="43.21" y="347.39" width="2.5" height="1.21" fill="#1a1a1a" fill-opacity="1.0"/><rect x="43.41" y="345.93" width="2.1" height="1.21" fill="#1a1a1a" fill-opacity="1.0"/><rect x="43.41" y="344.47" width="2.1" height="1.21" fill="#1a1a1a" fill-opacity="1.0"/><rect x="43.41" y="343.01" width="2.1" height="1.21" fill="#1a1a1a" fill-opacity="1.0"/><rect x="43.31" y="341.55" width="2.3" height="1.21" fill="#1a1a1a" fill-opacity="0.8"/><rect x="46.51" y="347.39" width="2.3" height="1.21" fill="#1a1a1a" fill-opacity="1.0"/><rect x="46.61" y="345.93" width="2.1" height="1.21" fill="#1a1a1a" fill-opacity="0.8"/><rect x="46.51" y="344.47" width="2.3" height="1.21" fill="#1a1a1a" fill-opacity="0.8"/><rect x="46.41" y="343.01" width="2.5" height="1.21" fill="#1a1a1a" fill-opacity="1.0"/><rect x="46.41" y="341.55" width="2.5" height="1.21" fill="#1a1a1a" fill-opacity="1.0"/><rect x="49.82" y="347.39" width="2.1" height="1.21" fill="#1a1a1a" fill-opacity="1.0"/><rect x="49.82" y="345.93" width="2.1" height="1.21" fill="#1a1a1a" fill-opacity="1.0"/><rect x="49.82" y="344.47" width="2.1" height="1.21" fill="#1a1a1a" fill-opacity="0.8"/><rect x="49.82" y="343.01" width="2.1" height="1.21" fill="#1a1a1a" fill-opacity="0.8"/><rect x="52.93" y="347.39" width="2.3" height="1.21" fill="#1a1a1a" fill-opacity="1.0"/><rect x="53.03" y="345.93" width="2.1" height="1.21" fill="#1a1a1a" fill-opacity="1.0"/><rect x="52.93" y="344.47" width="2.3" height="1.21" fill="#1a1a1a" fill-opacity="0.8"/><rect x="52.93" y="343.01" width="2.3" height="1.21" fill="#1a1a1a" fill-opacity="1.0"/><rect x="52.93" y="341.55" width="2.3" height="1.21" fill="#1a1a1a" fill-opacity="0.9"/><rect x="56.13" y="347.39" width="2.3" height="1.21" fill="#1a1a1a" fill-opacity="1.0"/><rect x="56.03" y="345.93" width="2.5" height="1.21" fill="#1a1a1a" fill-opacity="1.0"/><rect x="56.03" y="344.47" width="2.5" height="1.21" fill="#1a1a1a" fill-opacity="0.8"/><rect x="56.13" y="343.01" width="2.3" height="1.21" fill="#1a1a1a" fill-opacity="1.0"/><rect x="56.13" y="341.55" width="2.3" height="1.21" fill="#1a1a1a" fill-opacity="0.9"/><rect x="59.34" y="347.39" width="2.3" height="1.21" fill="#1a1a1a" fill-opacity="1.0"/><rect x="59.24" y="345.93" width="2.5" height="1.21" fill="#1a1a1a" fill-opacity="1.0"/><rect x="59.44" y="344.47" width="2.1" height="1.21" fill="#1a1a1a" fill-opacity="1.0"/><rect x="59.24" y="343.01" width="2.5" height="1.21" fill="#1a1a1a" fill-opacity="1.0"/><rect x="59.44" y="341.55" width="2.1" height="1.21" fill="#1a1a1a" fill-opacity="1.0"/><rect x="62.44" y="347.39" width="2.5" height="1.21" fill="#1a1a1a" fill-opacity="1.0"/><rect x="62.64" y="345.93" width="2.1" height="1.21" fill="#1a1a1a" fill-opacity="0.9"/><rect x="62.54" y="344.47" width="2.3" height="1.21" fill="#1a1a1a" fill-opacity="1.0"/><rect x="62.44" y="343.01" width="2.5" height="1.21" fill="#1a1a1a" fill-opacity="1.0"/><rect x="62.44" y="341.55" width="2.5" height="1.21" fill="#1a1a1a" fill-opacity="1.0"/><rect x="65.75" y="347.39" width="2.3" height="1.21" fill="#1a1a1a" fill-opacity="1.0"/><rect x="65.85" y="345.93" width="2.1" height="1.21" fill="#1a1a1a" fill-opacity="1.0"/><rect x="65.65" y="344.47" width="2.5" height="1.21" fill="#1a1a1a" fill-opacity="0.8"/><rect x="65.75" y="343.01" width="2.3" height="1.21" fill="#1a1a1a" fill-opacity="0.8"/><rect x="65.65" y="341.55" width="2.5" height="1.21" fill="#1a1a1a" fill-opacity="1.0"/><rect x="68.96" y="347.39" width="2.3" height="1.21" fill="#1a1a1a" fill-opacity="1.0"/><rect x="69.06" y="345.93" width="2.1" height="1.21" fill="#1a1a1a" fill-opacity="1.0"/><rect x="69.06" y="344.47" width="2.1" height="1.21" fill="#1a1a1a" fill-opacity="1.0"/><rect x="68.96" y="343.01" width="2.3" height="1.21" fill="#1a1a1a" fill-opacity="1.0"/><rect x="68.96" y="341.55" width="2.3" height="1.21" fill="#1a1a1a" fill-opacity="1.0"/><rect x="72.16" y="347.39" width="2.3" height="1.21" fill="#1a1a1a" fill-opacity="1.0"/><rect x="72.26" y="345.93" width="2.1" height="1.21" fill="#1a1a1a" fill-opacity="0.8"/><rect x="72.16" y="344.47" width="2.3" height="1.21" fill="#1a1a1a" fill-opacity="0.9"/><rect x="72.06" y="343.01" width="2.5" height="1.21" fill="#1a1a1a" fill-opacity="0.9"/><rect x="72.26" y="341.55" width="2.1" height="1.21" fill="#1a1a1a" fill-opacity="1.0"/><rect x="75.47" y="347.39" width="2.1" height="1.21" fill="#1a1a1a" fill-opacity="1.0"/><rect x="75.27" y="345.93" width="2.5" height="1.21" fill="#1a1a1a" fill-opacity="1.0"/><rect x="75.47" y="344.47" width="2.1" height="1.21" fill="#1a1a1a" fill-opacity="0.8"/><rect x="75.37" y="343.01" width="2.3" height="1.21" fill="#1a1a1a" fill-opacity="1.0"/><rect x="75.37" y="341.55" width="2.3" height="1.21" fill="#1a1a1a" fill-opacity="0.9"/><rect x="78.68" y="347.39" width="2.1" height="1.21" fill="#1a1a1a" fill-opacity="1.0"/><rect x="78.58" y="345.93" width="2.3" height="1.21" fill="#1a1a1a" fill-opacity="0.8"/><rect x="78.48" y="344.47" width="2.5" height="1.21" fill="#1a1a1a" fill-opacity="0.9"/><rect x="78.58" y="343.01" width="2.3" height="1.21" fill="#1a1a1a" fill-opacity="1.0"/><rect x="78.68" y="341.55" width="2.1" height="1.21" fill="#1a1a1a" fill-opacity="0.9"/><rect x="81.68" y="347.39" width="2.5" height="1.21" fill="#1a1a1a" fill-opacity="1.0"/><rect x="81.78" y="345.93" width="2.3" height="1.21" fill="#1a1a1a" fill-opacity="0.9"/><rect x="81.78" y="344.47" width="2.3" height="1.21" fill="#1a1a1a" fill-opacity="0.9"/><rect x="84.89" y="347.39" width="2.5" height="1.21" fill="#1a1a1a" fill-opacity="1.0"/><rect x="84.89" y="345.93" width="2.5" height="1.21" fill="#1a1a1a" fill-opacity="0.8"/><rect x="84.89" y="344.47" width="2.5" height="1.21" fill="#1a1a1a" fill-opacity="1.0"/><rect x="84.99" y="343.01" width="2.3" height="1.21" fill="#1a1a1a" fill-opacity="0.9"/><rect x="84.89" y="341.55" width="2.5" height="1.21" fill="#1a1a1a" fill-opacity="1.0"/><rect x="88.19" y="347.39" width="2.3" height="1.21" fill="#1a1a1a" fill-opacity="1.0"/><rect x="88.19" y="345.93" width="2.3" height="1.21" fill="#1a1a1a" fill-opacity="1.0"/><rect x="88.19" y="344.47" width="2.3" height="1.21" fill="#1a1a1a" fill-opacity="1.0"/><rect x="88.09" y="343.01" width="2.5" height="1.21" fill="#1a1a1a" fill-opacity="1.0"/><rect x="88.29" y="341.55" width="2.1" height="1.21" fill="#1a1a1a" fill-opacity="1.0"/><rect x="91.50" y="347.39" width="2.1" height="1.21" fill="#1a1a1a" fill-opacity="1.0"/><rect x="91.50" y="345.93" width="2.1" height="1.21" fill="#1a1a1a" fill-opacity="0.9"/><rect x="91.30" y="344.47" width="2.5" height="1.21" fill="#1a1a1a" fill-opacity="1.0"/><rect x="91.30" y="343.01" width="2.5" height="1.21" fill="#1a1a1a" fill-opacity="1.0"/><rect x="91.50" y="341.55" width="2.1" height="1.21" fill="#1a1a1a" fill-opacity="0.9"/><rect x="94.61" y="347.39" width="2.3" height="1.21" fill="#1a1a1a" fill-opacity="1.0"/><rect x="94.51" y="345.93" width="2.5" height="1.21" fill="#1a1a1a" fill-opacity="1.0"/><rect x="94.71" y="344.47" width="2.1" height="1.21" fill="#1a1a1a" fill-opacity="1.0"/><rect x="94.51" y="343.01" width="2.5" height="1.21" fill="#1a1a1a" fill-opacity="0.8"/><rect x="94.71" y="341.55" width="2.1" height="1.21" fill="#1a1a1a" fill-opacity="1.0"/><rect x="97.91" y="347.39" width="2.1" height="1.21" fill="#1a1a1a" fill-opacity="1.0"/><rect x="97.91" y="345.93" width="2.1" height="1.21" fill="#1a1a1a" fill-opacity="0.8"/><rect x="97.81" y="344.47" width="2.3" height="1.21" fill="#1a1a1a" fill-opacity="0.9"/><rect x="97.91" y="343.01" width="2.1" height="1.21" fill="#1a1a1a" fill-opacity="0.8"/><rect x="97.71" y="341.55" width="2.5" height="1.21" fill="#1a1a1a" fill-opacity="1.0"/><rect x="101.12" y="347.39" width="2.1" height="1.21" fill="#1a1a1a" fill-opacity="1.0"/><rect x="101.12" y="345.93" width="2.1" height="1.21" fill="#1a1a1a" fill-opacity="1.0"/><rect x="100.92" y="344.47" width="2.5" height="1.21" fill="#1a1a1a" fill-opacity="0.8"/><rect x="104.23" y="347.39" width="2.3" height="1.21" fill="#1a1a1a" fill-opacity="1.0"/><rect x="104.13" y="345.93" width="2.5" height="1.21" fill="#1a1a1a" fill-opacity="0.8"/><rect x="104.23" y="344.47" width="2.3" height="1.21" fill="#1a1a1a" fill-opacity="0.8"/><rect x="104.23" y="343.01" width="2.3" height="1.21" fill="#1a1a1a" fill-opacity="0.9"/><rect x="104.33" y="341.55" width="2.1" height="1.21" fill="#1a1a1a" fill-opacity="1.0"/><rect x="107.53" y="347.39" width="2.1" height="1.21" fill="#1a1a1a" fill-opacity="1.0"/><rect x="107.53" y="345.93" width="2.1" height="1.21" fill="#1a1a1a" fill-opacity="0.9"/><rect x="107.53" y="344.47" width="2.1" height="1.21" fill="#1a1a1a" fill-opacity="0.8"/><rect x="107.43" y="343.01" width="2.3" height="1.21" fill="#1a1a1a" fill-opacity="0.9"/><rect x="107.53" y="341.55" width="2.1" height="1.21" fill="#1a1a1a" fill-opacity="0.9"/><rect x="110.54" y="347.39" width="2.5" height="1.21" fill="#1a1a1a" fill-opacity="1.0"/><rect x="110.74" y="345.93" width="2.1" height="1.21" fill="#1a1a1a" fill-opacity="1.0"/><rect x="110.74" y="344.47" width="2.1" height="1.21" fill="#1a1a1a" fill-opacity="1.0"/><rect x="110.54" y="343.01" width="2.5" height="1.21" fill="#1a1a1a" fill-opacity="1.0"/><rect x="110.74" y="341.55" width="2.1" height="1.21" fill="#1a1a1a" fill-opacity="1.0"/><rect x="113.85" y="347.39" width="2.3" height="1.21" fill="#1a1a1a" fill-opacity="1.0"/><rect x="113.95" y="345.93" width="2.1" height="1.21" fill="#1a1a1a" fill-opacity="0.8"/><rect x="113.95" y="344.47" width="2.1" height="1.21" fill="#1a1a1a" fill-opacity="0.9"/><rect x="113.95" y="343.01" width="2.1" height="1.21" fill="#1a1a1a" fill-opacity="0.8"/><rect x="113.85" y="341.55" width="2.3" height="1.21" fill="#1a1a1a" fill-opacity="0.8"/><rect x="116.95" y="347.39" width="2.5" height="1.21" fill="#1a1a1a" fill-opacity="1.0"/><rect x="116.95" y="345.93" width="2.5" height="1.21" fill="#1a1a1a" fill-opacity="0.8"/><rect x="117.05" y="344.47" width="2.3" height="1.21" fill="#1a1a1a" fill-opacity="1.0"/><rect x="120.26" y="347.39" width="2.3" height="1.21" fill="#1a1a1a" fill-opacity="1.0"/><rect x="120.26" y="345.93" width="2.3" height="1.21" fill="#1a1a1a" fill-opacity="0.8"/><rect x="120.16" y="344.47" width="2.5" height="1.21" fill="#1a1a1a" fill-opacity="1.0"/><rect x="120.16" y="343.01" width="2.5" height="1.21" fill="#1a1a1a" fill-opacity="1.0"/><rect x="123.46" y="347.39" width="2.3" height="1.21" fill="#1a1a1a" fill-opacity="1.0"/><rect x="123.56" y="345.93" width="2.1" height="1.21" fill="#1a1a1a" fill-opacity="1.0"/><rect x="123.46" y="344.47" width="2.3" height="1.21" fill="#1a1a1a" fill-opacity="1.0"/><rect x="123.56" y="343.01" width="2.1" height="1.21" fill="#1a1a1a" fill-opacity="0.8"/><rect x="123.36" y="341.55" width="2.5" height="1.21" fill="#1a1a1a" fill-opacity="0.8"/><rect x="126.67" y="347.39" width="2.3" height="1.21" fill="#1a1a1a" fill-opacity="1.0"/><rect x="126.57" y="345.93" width="2.5" height="1.21" fill="#1a1a1a" fill-opacity="0.8"/><rect x="126.77" y="344.47" width="2.1" height="1.21" fill="#1a1a1a" fill-opacity="0.9"/><rect x="126.67" y="343.01" width="2.3" height="1.21" fill="#1a1a1a" fill-opacity="1.0"/><rect x="126.57" y="341.55" width="2.5" height="1.21" fill="#1a1a1a" fill-opacity="1.0"/><rect x="129.98" y="347.39" width="2.1" height="1.21" fill="#1a1a1a" fill-opacity="1.0"/><rect x="129.98" y="345.93" width="2.1" height="1.21" fill="#1a1a1a" fill-opacity="1.0"/><rect x="129.78" y="344.47" width="2.5" height="1.21" fill="#1a1a1a" fill-opacity="1.0"/><rect x="129.78" y="343.01" width="2.5" height="1.21" fill="#1a1a1a" fill-opacity="1.0"/><rect x="129.88" y="341.55" width="2.3" height="1.21" fill="#1a1a1a" fill-opacity="1.0"/><rect x="133.08" y="347.39" width="2.3" height="1.21" fill="#1a1a1a" fill-opacity="1.0"/><rect x="133.18" y="345.93" width="2.1" height="1.21" fill="#1a1a1a" fill-opacity="1.0"/><rect x="133.18" y="344.47" width="2.1" height="1.21" fill="#1a1a1a" fill-opacity="0.9"/><rect x="132.98" y="343.01" width="2.5" height="1.21" fill="#1a1a1a" fill-opacity="1.0"/><rect x="133.08" y="341.55" width="2.3" height="1.21" fill="#1a1a1a" fill-opacity="0.8"/><rect x="136.29" y="347.39" width="2.3" height="1.21" fill="#1a1a1a" fill-opacity="1.0"/><rect x="136.39" y="345.93" width="2.1" height="1.21" fill="#1a1a1a" fill-opacity="0.9"/><rect x="136.29" y="344.47" width="2.3" height="1.21" fill="#1a1a1a" fill-opacity="1.0"/><rect x="136.39" y="343.01" width="2.1" height="1.21" fill="#1a1a1a" fill-opacity="1.0"/><rect x="139.40" y="347.39" width="2.5" height="1.21" fill="#1a1a1a" fill-opacity="1.0"/><rect x="139.40" y="345.93" width="2.5" height="1.21" fill="#1a1a1a" fill-opacity="0.8"/><rect x="139.40" y="344.47" width="2.5" height="1.21" fill="#1a1a1a" fill-opacity="1.0"/><rect x="139.40" y="343.01" width="2.5" height="1.21" fill="#1a1a1a" fill-opacity="0.8"/><rect x="139.40" y="341.55" width="2.5" height="1.21" fill="#1a1a1a" fill-opacity="1.0"/><rect x="142.80" y="347.39" width="2.1" height="1.21" fill="#1a1a1a" fill-opacity="1.0"/><rect x="142.70" y="345.93" width="2.3" height="1.21" fill="#1a1a1a" fill-opacity="0.8"/><rect x="142.80" y="344.47" width="2.1" height="1.21" fill="#1a1a1a" fill-opacity="0.9"/><rect x="142.80" y="343.01" width="2.1" height="1.21" fill="#1a1a1a" fill-opacity="1.0"/><rect x="142.60" y="341.55" width="2.5" height="1.21" fill="#1a1a1a" fill-opacity="0.8"/><rect x="145.81" y="347.39" width="2.5" height="1.21" fill="#1a1a1a" fill-opacity="1.0"/><rect x="146.01" y="345.93" width="2.1" height="1.21" fill="#1a1a1a" fill-opacity="1.0"/><rect x="145.91" y="344.47" width="2.3" height="1.21" fill="#1a1a1a" fill-opacity="0.8"/><rect x="149.21" y="347.39" width="2.1" height="1.21" fill="#1a1a1a" fill-opacity="1.0"/><rect x="149.21" y="345.93" width="2.1" height="1.21" fill="#1a1a1a" fill-opacity="0.8"/><rect x="149.01" y="344.47" width="2.5" height="1.21" fill="#1a1a1a" fill-opacity="1.0"/><rect x="149.01" y="343.01" width="2.5" height="1.21" fill="#1a1a1a" fill-opacity="1.0"/><rect x="149.21" y="341.55" width="2.1" height="1.21" fill="#1a1a1a" fill-opacity="1.0"/><rect x="152.22" y="347.39" width="2.5" height="1.21" fill="#1a1a1a" fill-opacity="1.0"/><rect x="152.42" y="345.93" width="2.1" height="1.21" fill="#1a1a1a" fill-opacity="0.9"/><rect x="152.22" y="344.47" width="2.5" height="1.21" fill="#1a1a1a" fill-opacity="0.8"/><rect x="155.43" y="347.39" width="2.5" height="1.21" fill="#1a1a1a" fill-opacity="1.0"/><rect x="155.43" y="345.93" width="2.5" height="1.21" fill="#1a1a1a" fill-opacity="1.0"/><rect x="155.63" y="344.47" width="2.1" height="1.21" fill="#1a1a1a" fill-opacity="0.9"/><rect x="158.83" y="347.39" width="2.1" height="1.21" fill="#1a1a1a" fill-opacity="1.0"/><rect x="158.73" y="345.93" width="2.3" height="1.21" fill="#1a1a1a" fill-opacity="0.9"/><rect x="158.73" y="344.47" width="2.3" height="1.21" fill="#1a1a1a" fill-opacity="1.0"/><rect x="158.63" y="343.01" width="2.5" height="1.21" fill="#1a1a1a" fill-opacity="1.0"/><rect x="161.94" y="347.39" width="2.3" height="1.21" fill="#1a1a1a" fill-opacity="1.0"/><rect x="162.04" y="345.93" width="2.1" height="1.21" fill="#1a1a1a" fill-opacity="1.0"/><rect x="161.84" y="344.47" width="2.5" height="1.21" fill="#1a1a1a" fill-opacity="1.0"/><rect x="161.94" y="343.01" width="2.3" height="1.21" fill="#1a1a1a" fill-opacity="0.9"/><rect x="161.94" y="341.55" width="2.3" height="1.21" fill="#1a1a1a" fill-opacity="0.9"/><rect x="165.05" y="347.39" width="2.5" height="1.21" fill="#1a1a1a" fill-opacity="1.0"/><rect x="165.25" y="345.93" width="2.1" height="1.21" fill="#1a1a1a" fill-opacity="1.0"/><rect x="165.25" y="344.47" width="2.1" height="1.21" fill="#1a1a1a" fill-opacity="1.0"/><rect x="165.25" y="343.01" width="2.1" height="1.21" fill="#1a1a1a" fill-opacity="0.9"/><rect x="165.05" y="341.55" width="2.5" height="1.21" fill="#1a1a1a" fill-opacity="1.0"/><rect x="168.25" y="347.39" width="2.5" height="1.21" fill="#1a1a1a" fill-opacity="1.0"/><rect x="168.25" y="345.93" width="2.5" height="1.21" fill="#1a1a1a" fill-opacity="1.0"/><rect x="168.45" y="344.47" width="2.1" height="1.21" fill="#1a1a1a" fill-opacity="0.9"/><rect x="168.45" y="343.01" width="2.1" height="1.21" fill="#1a1a1a" fill-opacity="1.0"/><rect x="168.25" y="341.55" width="2.5" height="1.21" fill="#1a1a1a" fill-opacity="0.9"/><rect x="171.56" y="347.39" width="2.3" height="1.21" fill="#1a1a1a" fill-opacity="1.0"/><rect x="171.46" y="345.93" width="2.5" height="1.21" fill="#1a1a1a" fill-opacity="0.9"/><rect x="171.46" y="344.47" width="2.5" height="1.21" fill="#1a1a1a" fill-opacity="1.0"/><rect x="171.46" y="343.01" width="2.5" height="1.21" fill="#1a1a1a" fill-opacity="1.0"/><rect x="171.66" y="341.55" width="2.1" height="1.21" fill="#1a1a1a" fill-opacity="1.0"/><rect x="174.86" y="347.39" width="2.1" height="1.21" fill="#1a1a1a" fill-opacity="1.0"/><rect x="174.76" y="345.93" width="2.3" height="1.21" fill="#1a1a1a" fill-opacity="1.0"/><rect x="174.86" y="344.47" width="2.1" height="1.21" fill="#1a1a1a" fill-opacity="1.0"/><rect x="174.66" y="343.01" width="2.5" height="1.21" fill="#1a1a1a" fill-opacity="0.9"/><rect x="174.86" y="341.55" width="2.1" height="1.21" fill="#1a1a1a" fill-opacity="1.0"/><rect x="177.97" y="347.39" width="2.3" height="1.21" fill="#1a1a1a" fill-opacity="1.0"/><rect x="177.97" y="345.93" width="2.3" height="1.21" fill="#1a1a1a" fill-opacity="0.9"/><rect x="177.87" y="344.47" width="2.5" height="1.21" fill="#1a1a1a" fill-opacity="1.0"/><rect x="177.97" y="343.01" width="2.3" height="1.21" fill="#1a1a1a" fill-opacity="0.9"/><rect x="177.97" y="341.55" width="2.3" height="1.21" fill="#1a1a1a" fill-opacity="0.8"/><rect x="181.28" y="347.39" width="2.1" height="1.21" fill="#1a1a1a" fill-opacity="1.0"/><rect x="181.08" y="345.93" width="2.5" height="1.21" fill="#1a1a1a" fill-opacity="1.0"/><rect x="181.18" y="344.47" width="2.3" height="1.21" fill="#1a1a1a" fill-opacity="0.8"/><rect x="181.28" y="343.01" width="2.1" height="1.21" fill="#1a1a1a" fill-opacity="0.9"/><rect x="181.28" y="341.55" width="2.1" height="1.21" fill="#1a1a1a" fill-opacity="0.8"/><rect x="184.38" y="347.39" width="2.3" height="1.21" fill="#1a1a1a" fill-opacity="1.0"/><rect x="184.48" y="345.93" width="2.1" height="1.21" fill="#1a1a1a" fill-opacity="0.9"/><rect x="184.48" y="344.47" width="2.1" height="1.21" fill="#1a1a1a" fill-opacity="1.0"/><rect x="184.28" y="343.01" width="2.5" height="1.21" fill="#1a1a1a" fill-opacity="0.9"/><rect x="184.38" y="341.55" width="2.3" height="1.21" fill="#1a1a1a" fill-opacity="0.8"/><rect x="187.69" y="347.39" width="2.1" height="1.21" fill="#1a1a1a" fill-opacity="1.0"/><rect x="187.69" y="345.93" width="2.1" height="1.21" fill="#1a1a1a" fill-opacity="1.0"/><rect x="187.69" y="344.47" width="2.1" height="1.21" fill="#1a1a1a" fill-opacity="1.0"/><rect x="187.69" y="343.01" width="2.1" height="1.21" fill="#1a1a1a" fill-opacity="0.8"/><rect x="190.80" y="347.39" width="2.3" height="1.21" fill="#1a1a1a" fill-opacity="1.0"/><rect x="190.90" y="345.93" width="2.1" height="1.21" fill="#1a1a1a" fill-opacity="1.0"/><rect x="190.80" y="344.47" width="2.3" height="1.21" fill="#1a1a1a" fill-opacity="1.0"/><rect x="193.90" y="347.39" width="2.5" height="1.21" fill="#1a1a1a" fill-opacity="1.0"/><rect x="194.10" y="345.93" width="2.1" height="1.21" fill="#1a1a1a" fill-opacity="1.0"/><rect x="194.00" y="344.47" width="2.3" height="1.21" fill="#1a1a1a" fill-opacity="0.8"/><rect x="194.00" y="343.01" width="2.3" height="1.21" fill="#1a1a1a" fill-opacity="1.0"/><rect x="194.00" y="341.55" width="2.3" height="1.21" fill="#1a1a1a" fill-opacity="1.0"/><rect x="197.31" y="347.39" width="2.1" height="1.21" fill="#1a1a1a" fill-opacity="1.0"/><rect x="197.21" y="345.93" width="2.3" height="1.21" fill="#1a1a1a" fill-opacity="1.0"/><rect x="197.11" y="344.47" width="2.5" height="1.21" fill="#1a1a1a" fill-opacity="0.9"/><rect x="200.52" y="347.39" width="2.1" height="1.21" fill="#1a1a1a" fill-opacity="1.0"/><rect x="200.52" y="345.93" width="2.1" height="1.21" fill="#1a1a1a" fill-opacity="1.0"/><rect x="200.52" y="344.47" width="2.1" height="1.21" fill="#1a1a1a" fill-opacity="1.0"/><rect x="200.32" y="343.01" width="2.5" height="1.21" fill="#1a1a1a" fill-opacity="1.0"/><rect x="200.52" y="341.55" width="2.1" height="1.21" fill="#1a1a1a" fill-opacity="1.0"/><rect x="203.52" y="347.39" width="2.5" height="1.21" fill="#1a1a1a" fill-opacity="1.0"/><rect x="203.52" y="345.93" width="2.5" height="1.21" fill="#1a1a1a" fill-opacity="1.0"/><rect x="203.62" y="344.47" width="2.3" height="1.21" fill="#1a1a1a" fill-opacity="1.0"/><rect x="203.52" y="343.01" width="2.5" height="1.21" fill="#1a1a1a" fill-opacity="1.0"/><rect x="203.72" y="341.55" width="2.1" height="1.21" fill="#1a1a1a" fill-opacity="1.0"/><rect x="206.83" y="347.39" width="2.3" height="1.21" fill="#1a1a1a" fill-opacity="1.0"/><rect x="206.73" y="345.93" width="2.5" height="1.21" fill="#1a1a1a" fill-opacity="0.8"/><rect x="206.73" y="344.47" width="2.5" height="1.21" fill="#1a1a1a" fill-opacity="1.0"/><rect x="206.93" y="343.01" width="2.1" height="1.21" fill="#1a1a1a" fill-opacity="1.0"/><rect x="206.73" y="341.55" width="2.5" height="1.21" fill="#1a1a1a" fill-opacity="1.0"/><rect x="209.93" y="347.39" width="2.5" height="1.21" fill="#1a1a1a" fill-opacity="1.0"/><rect x="209.93" y="345.93" width="2.5" height="1.21" fill="#1a1a1a" fill-opacity="0.9"/><rect x="210.13" y="344.47" width="2.1" height="1.21" fill="#1a1a1a" fill-opacity="0.9"/><rect x="209.93" y="343.01" width="2.5" height="1.21" fill="#1a1a1a" fill-opacity="1.0"/><rect x="210.13" y="341.55" width="2.1" height="1.21" fill="#1a1a1a" fill-opacity="1.0"/><rect x="213.14" y="347.39" width="2.5" height="1.21" fill="#1a1a1a" fill-opacity="1.0"/><rect x="213.24" y="345.93" width="2.3" height="1.21" fill="#1a1a1a" fill-opacity="0.9"/><rect x="213.14" y="344.47" width="2.5" height="1.21" fill="#1a1a1a" fill-opacity="1.0"/><rect x="216.35" y="347.39" width="2.5" height="1.21" fill="#1a1a1a" fill-opacity="1.0"/><rect x="216.45" y="345.93" width="2.3" height="1.21" fill="#1a1a1a" fill-opacity="0.9"/><rect x="216.45" y="344.47" width="2.3" height="1.21" fill="#1a1a1a" fill-opacity="1.0"/><rect x="216.35" y="343.01" width="2.5" height="1.21" fill="#1a1a1a" fill-opacity="0.9"/><rect x="216.55" y="341.55" width="2.1" height="1.21" fill="#1a1a1a" fill-opacity="0.8"/><rect x="219.75" y="347.39" width="2.1" height="1.21" fill="#1a1a1a" fill-opacity="1.0"/><rect x="219.65" y="345.93" width="2.3" height="1.21" fill="#1a1a1a" fill-opacity="1.0"/><rect x="219.65" y="344.47" width="2.3" height="1.21" fill="#1a1a1a" fill-opacity="0.8"/><rect x="219.65" y="343.01" width="2.3" height="1.21" fill="#1a1a1a" fill-opacity="1.0"/><rect x="219.75" y="341.55" width="2.1" height="1.21" fill="#1a1a1a" fill-opacity="0.8"/><rect x="222.86" y="347.39" width="2.3" height="1.21" fill="#1a1a1a" fill-opacity="1.0"/><rect x="222.96" y="345.93" width="2.1" height="1.21" fill="#1a1a1a" fill-opacity="1.0"/><rect x="222.86" y="344.47" width="2.3" height="1.21" fill="#1a1a1a" fill-opacity="1.0"/><rect x="226.07" y="347.39" width="2.3" height="1.21" fill="#1a1a1a" fill-opacity="1.0"/><rect x="226.07" y="345.93" width="2.3" height="1.21" fill="#1a1a1a" fill-opacity="0.8"/><rect x="226.17" y="344.47" width="2.1" height="1.21" fill="#1a1a1a" fill-opacity="1.0"/><rect x="226.07" y="343.01" width="2.3" height="1.21" fill="#1a1a1a" fill-opacity="0.9"/><rect x="225.97" y="341.55" width="2.5" height="1.21" fill="#1a1a1a" fill-opacity="0.8"/><rect x="229.17" y="347.39" width="2.5" height="1.21" fill="#1a1a1a" fill-opacity="1.0"/><rect x="229.37" y="345.93" width="2.1" height="1.21" fill="#1a1a1a" fill-opacity="0.8"/><rect x="229.17" y="344.47" width="2.5" height="1.21" fill="#1a1a1a" fill-opacity="0.9"/><rect x="232.38" y="347.39" width="2.5" height="1.21" fill="#1a1a1a" fill-opacity="1.0"/><rect x="232.38" y="345.93" width="2.5" height="1.21" fill="#1a1a1a" fill-opacity="1.0"/><rect x="232.38" y="344.47" width="2.5" height="1.21" fill="#1a1a1a" fill-opacity="0.9"/><rect x="232.48" y="343.01" width="2.3" height="1.21" fill="#1a1a1a" fill-opacity="0.9"/><rect x="232.38" y="341.55" width="2.5" height="1.21" fill="#1a1a1a" fill-opacity="0.9"/><rect x="235.78" y="347.39" width="2.1" height="1.21" fill="#1a1a1a" fill-opacity="1.0"/><rect x="235.78" y="345.93" width="2.1" height="1.21" fill="#1a1a1a" fill-opacity="0.9"/><rect x="235.68" y="344.47" width="2.3" height="1.21" fill="#1a1a1a" fill-opacity="1.0"/><rect x="235.78" y="343.01" width="2.1" height="1.21" fill="#1a1a1a" fill-opacity="1.0"/><rect x="235.68" y="341.55" width="2.3" height="1.21" fill="#1a1a1a" fill-opacity="1.0"/><rect x="238.89" y="347.39" width="2.3" height="1.21" fill="#1a1a1a" fill-opacity="1.0"/><rect x="238.79" y="345.93" width="2.5" height="1.21" fill="#1a1a1a" fill-opacity="1.0"/><rect x="238.79" y="344.47" width="2.5" height="1.21" fill="#1a1a1a" fill-opacity="1.0"/><rect x="238.79" y="343.01" width="2.5" height="1.21" fill="#1a1a1a" fill-opacity="1.0"/><rect x="238.79" y="341.55" width="2.5" height="1.21" fill="#1a1a1a" fill-opacity="1.0"/><rect x="242.20" y="347.39" width="2.1" height="1.21" fill="#1a1a1a" fill-opacity="1.0"/><rect x="242.00" y="345.93" width="2.5" height="1.21" fill="#1a1a1a" fill-opacity="0.9"/><rect x="242.20" y="344.47" width="2.1" height="1.21" fill="#1a1a1a" fill-opacity="0.8"/><rect x="242.10" y="343.01" width="2.3" height="1.21" fill="#1a1a1a" fill-opacity="0.9"/><rect x="242.00" y="341.55" width="2.5" height="1.21" fill="#1a1a1a" fill-opacity="0.9"/><rect x="245.30" y="347.39" width="2.3" height="1.21" fill="#1a1a1a" fill-opacity="1.0"/><rect x="245.40" y="345.93" width="2.1" height="1.21" fill="#1a1a1a" fill-opacity="0.9"/><rect x="245.40" y="344.47" width="2.1" height="1.21" fill="#1a1a1a" fill-opacity="0.9"/><rect x="245.40" y="343.01" width="2.1" height="1.21" fill="#1a1a1a" fill-opacity="1.0"/><rect x="245.20" y="341.55" width="2.5" height="1.21" fill="#1a1a1a" fill-opacity="1.0"/><rect x="248.61" y="347.39" width="2.1" height="1.21" fill="#1a1a1a" fill-opacity="1.0"/><rect x="248.61" y="345.93" width="2.1" height="1.21" fill="#1a1a1a" fill-opacity="1.0"/><rect x="248.61" y="344.47" width="2.1" height="1.21" fill="#1a1a1a" fill-opacity="0.8"/><rect x="248.41" y="343.01" width="2.5" height="1.21" fill="#1a1a1a" fill-opacity="1.0"/><rect x="251.62" y="347.39" width="2.5" height="1.21" fill="#1a1a1a" fill-opacity="1.0"/><rect x="251.72" y="345.93" width="2.3" height="1.21" fill="#1a1a1a" fill-opacity="0.8"/><rect x="251.72" y="344.47" width="2.3" height="1.21" fill="#1a1a1a" fill-opacity="0.8"/><rect x="251.72" y="343.01" width="2.3" height="1.21" fill="#1a1a1a" fill-opacity="1.0"/><rect x="254.92" y="347.39" width="2.3" height="1.21" fill="#1a1a1a" fill-opacity="1.0"/><rect x="255.02" y="345.93" width="2.1" height="1.21" fill="#1a1a1a" fill-opacity="0.9"/><rect x="254.82" y="344.47" width="2.5" height="1.21" fill="#1a1a1a" fill-opacity="0.8"/><rect x="254.82" y="343.01" width="2.5" height="1.21" fill="#1a1a1a" fill-opacity="0.8"/><rect x="255.02" y="341.55" width="2.1" height="1.21" fill="#1a1a1a" fill-opacity="1.0"/><rect x="258.23" y="347.39" width="2.1" height="1.21" fill="#1a1a1a" fill-opacity="1.0"/><rect x="258.03" y="345.93" width="2.5" height="1.21" fill="#1a1a1a" fill-opacity="1.0"/><rect x="258.13" y="344.47" width="2.3" height="1.21" fill="#1a1a1a" fill-opacity="0.9"/><rect x="261.44" y="347.39" width="2.1" height="1.21" fill="#1a1a1a" fill-opacity="1.0"/><rect x="261.34" y="345.93" width="2.3" height="1.21" fill="#1a1a1a" fill-opacity="0.8"/><rect x="261.44" y="344.47" width="2.1" height="1.21" fill="#1a1a1a" fill-opacity="0.8"/><rect x="261.34" y="343.01" width="2.3" height="1.21" fill="#1a1a1a" fill-opacity="0.9"/><rect x="261.34" y="341.55" width="2.3" height="1.21" fill="#1a1a1a" fill-opacity="1.0"/><rect x="264.64" y="347.39" width="2.1" height="1.21" fill="#1a1a1a" fill-opacity="1.0"/><rect x="264.64" y="345.93" width="2.1" height="1.21" fill="#1a1a1a" fill-opacity="1.0"/><rect x="264.54" y="344.47" width="2.3" height="1.21" fill="#1a1a1a" fill-opacity="1.0"/><rect x="264.54" y="343.01" width="2.3" height="1.21" fill="#1a1a1a" fill-opacity="0.8"/><rect x="264.44" y="341.55" width="2.5" height="1.21" fill="#1a1a1a" fill-opacity="1.0"/><rect x="267.75" y="347.39" width="2.3" height="1.21" fill="#1a1a1a" fill-opacity="1.0"/><rect x="267.75" y="345.93" width="2.3" height="1.21" fill="#1a1a1a" fill-opacity="0.9"/><rect x="267.65" y="344.47" width="2.5" height="1.21" fill="#1a1a1a" fill-opacity="0.8"/><rect x="267.75" y="343.01" width="2.3" height="1.21" fill="#1a1a1a" fill-opacity="1.0"/><rect x="267.75" y="341.55" width="2.3" height="1.21" fill="#1a1a1a" fill-opacity="1.0"/><rect x="270.95" y="347.39" width="2.3" height="1.21" fill="#1a1a1a" fill-opacity="1.0"/><rect x="271.05" y="345.93" width="2.1" height="1.21" fill="#1a1a1a" fill-opacity="1.0"/><rect x="271.05" y="344.47" width="2.1" height="1.21" fill="#1a1a1a" fill-opacity="0.8"/><rect x="270.95" y="343.01" width="2.3" height="1.21" fill="#1a1a1a" fill-opacity="1.0"/><rect x="270.95" y="341.55" width="2.3" height="1.21" fill="#1a1a1a" fill-opacity="0.9"/><rect x="274.26" y="347.39" width="2.1" height="1.21" fill="#1a1a1a" fill-opacity="1.0"/><rect x="274.26" y="345.93" width="2.1" height="1.21" fill="#1a1a1a" fill-opacity="0.9"/><rect x="274.26" y="344.47" width="2.1" height="1.21" fill="#1a1a1a" fill-opacity="0.8"/><rect x="274.06" y="343.01" width="2.5" height="1.21" fill="#1a1a1a" fill-opacity="1.0"/><rect x="274.06" y="341.55" width="2.5" height="1.21" fill="#1a1a1a" fill-opacity="0.9"/><rect x="277.47" y="347.39" width="2.1" height="1.21" fill="#1a1a1a" fill-opacity="1.0"/><rect x="277.27" y="345.93" width="2.5" height="1.21" fill="#1a1a1a" fill-opacity="0.8"/><rect x="277.37" y="344.47" width="2.3" height="1.21" fill="#1a1a1a" fill-opacity="0.9"/><rect x="280.67" y="347.39" width="2.1" height="1.21" fill="#1a1a1a" fill-opacity="1.0"/><rect x="280.67" y="345.93" width="2.1" height="1.21" fill="#1a1a1a" fill-opacity="0.8"/><rect x="280.57" y="344.47" width="2.3" height="1.21" fill="#1a1a1a" fill-opacity="1.0"/><rect x="280.57" y="343.01" width="2.3" height="1.21" fill="#1a1a1a" fill-opacity="1.0"/><rect x="280.47" y="341.55" width="2.5" height="1.21" fill="#1a1a1a" fill-opacity="0.8"/><rect x="283.88" y="347.39" width="2.1" height="1.21" fill="#1a1a1a" fill-opacity="1.0"/><rect x="283.78" y="345.93" width="2.3" height="1.21" fill="#1a1a1a" fill-opacity="0.9"/><rect x="283.78" y="344.47" width="2.3" height="1.21" fill="#1a1a1a" fill-opacity="0.8"/><rect x="283.88" y="343.01" width="2.1" height="1.21" fill="#1a1a1a" fill-opacity="1.0"/><rect x="283.88" y="341.55" width="2.1" height="1.21" fill="#1a1a1a" fill-opacity="0.9"/><rect x="286.99" y="347.39" width="2.3" height="1.21" fill="#1a1a1a" fill-opacity="1.0"/><rect x="287.09" y="345.93" width="2.1" height="1.21" fill="#1a1a1a" fill-opacity="1.0"/><rect x="286.99" y="344.47" width="2.3" height="1.21" fill="#1a1a1a" fill-opacity="0.9"/><rect x="290.29" y="347.39" width="2.1" height="1.21" fill="#1a1a1a" fill-opacity="1.0"/><rect x="290.29" y="345.93" width="2.1" height="1.21" fill="#1a1a1a" fill-opacity="1.0"/><rect x="290.09" y="344.47" width="2.5" height="1.21" fill="#1a1a1a" fill-opacity="0.8"/><rect x="290.19" y="343.01" width="2.3" height="1.21" fill="#1a1a1a" fill-opacity="1.0"/><rect x="290.19" y="341.55" width="2.3" height="1.21" fill="#1a1a1a" fill-opacity="1.0"/><rect x="293.50" y="347.39" width="2.1" height="1.21" fill="#1a1a1a" fill-opacity="1.0"/><rect x="293.50" y="345.93" width="2.1" height="1.21" fill="#1a1a1a" fill-opacity="1.0"/><rect x="293.30" y="344.47" width="2.5" height="1.21" fill="#1a1a1a" fill-opacity="1.0"/><rect x="293.40" y="343.01" width="2.3" height="1.21" fill="#1a1a1a" fill-opacity="1.0"/><rect x="293.50" y="341.55" width="2.1" height="1.21" fill="#1a1a1a" fill-opacity="0.8"/><rect x="296.60" y="347.39" width="2.3" height="1.21" fill="#1a1a1a" fill-opacity="1.0"/><rect x="296.50" y="345.93" width="2.5" height="1.21" fill="#1a1a1a" fill-opacity="0.8"/><rect x="296.70" y="344.47" width="2.1" height="1.21" fill="#1a1a1a" fill-opacity="0.8"/><rect x="296.50" y="343.01" width="2.5" height="1.21" fill="#1a1a1a" fill-opacity="0.8"/><rect x="296.70" y="341.55" width="2.1" height="1.21" fill="#1a1a1a" fill-opacity="0.8"/><rect x="299.71" y="347.39" width="2.5" height="1.21" fill="#1a1a1a" fill-opacity="1.0"/><rect x="299.81" y="345.93" width="2.3" height="1.21" fill="#1a1a1a" fill-opacity="0.8"/><rect x="299.91" y="344.47" width="2.1" height="1.21" fill="#1a1a1a" fill-opacity="0.8"/><rect x="299.91" y="343.01" width="2.1" height="1.21" fill="#1a1a1a" fill-opacity="1.0"/><rect x="303.02" y="347.39" width="2.3" height="1.21" fill="#1a1a1a" fill-opacity="1.0"/><rect x="303.02" y="345.93" width="2.3" height="1.21" fill="#1a1a1a" fill-opacity="1.0"/><rect x="302.92" y="344.47" width="2.5" height="1.21" fill="#1a1a1a" fill-opacity="1.0"/><rect x="303.02" y="343.01" width="2.3" height="1.21" fill="#1a1a1a" fill-opacity="0.8"/><rect x="302.92" y="341.55" width="2.5" height="1.21" fill="#1a1a1a" fill-opacity="1.0"/><rect x="306.22" y="347.39" width="2.3" height="1.21" fill="#1a1a1a" fill-opacity="1.0"/><rect x="306.22" y="345.93" width="2.3" height="1.21" fill="#1a1a1a" fill-opacity="0.8"/><rect x="306.22" y="344.47" width="2.3" height="1.21" fill="#1a1a1a" fill-opacity="0.9"/><rect x="306.12" y="343.01" width="2.5" height="1.21" fill="#1a1a1a" fill-opacity="0.8"/><rect x="306.12" y="341.55" width="2.5" height="1.21" fill="#1a1a1a" fill-opacity="1.0"/><rect x="309.33" y="347.39" width="2.5" height="1.21" fill="#1a1a1a" fill-opacity="1.0"/><rect x="309.53" y="345.93" width="2.1" height="1.21" fill="#1a1a1a" fill-opacity="1.0"/><rect x="309.33" y="344.47" width="2.5" height="1.21" fill="#1a1a1a" fill-opacity="1.0"/><rect x="309.53" y="343.01" width="2.1" height="1.21" fill="#1a1a1a" fill-opacity="1.0"/><rect x="309.43" y="341.55" width="2.3" height="1.21" fill="#1a1a1a" fill-opacity="1.0"/><rect x="312.74" y="347.39" width="2.1" height="1.21" fill="#1a1a1a" fill-opacity="1.0"/><rect x="312.54" y="345.93" width="2.5" height="1.21" fill="#1a1a1a" fill-opacity="1.0"/><rect x="312.64" y="344.47" width="2.3" height="1.21" fill="#1a1a1a" fill-opacity="1.0"/><rect x="312.74" y="343.01" width="2.1" height="1.21" fill="#1a1a1a" fill-opacity="1.0"/><rect x="312.64" y="341.55" width="2.3" height="1.21" fill="#1a1a1a" fill-opacity="1.0"/><rect x="315.94" y="347.39" width="2.1" height="1.21" fill="#1a1a1a" fill-opacity="1.0"/><rect x="315.74" y="345.93" width="2.5" height="1.21" fill="#1a1a1a" fill-opacity="0.9"/><rect x="315.84" y="344.47" width="2.3" height="1.21" fill="#1a1a1a" fill-opacity="0.8"/><rect x="318.95" y="347.39" width="2.5" height="1.21" fill="#1a1a1a" fill-opacity="1.0"/><rect x="319.05" y="345.93" width="2.3" height="1.21" fill="#1a1a1a" fill-opacity="0.8"/><rect x="318.95" y="344.47" width="2.5" height="1.21" fill="#1a1a1a" fill-opacity="0.9"/><rect x="322.15" y="347.39" width="2.5" height="1.21" fill="#1a1a1a" fill-opacity="1.0"/><rect x="322.15" y="345.93" width="2.5" height="1.21" fill="#1a1a1a" fill-opacity="0.8"/><rect x="322.25" y="344.47" width="2.3" height="1.21" fill="#1a1a1a" fill-opacity="0.8"/><rect x="322.15" y="343.01" width="2.5" height="1.21" fill="#1a1a1a" fill-opacity="1.0"/><rect x="322.25" y="341.55" width="2.3" height="1.21" fill="#1a1a1a" fill-opacity="1.0"/><rect x="325.56" y="347.39" width="2.1" height="1.21" fill="#1a1a1a" fill-opacity="1.0"/><rect x="325.46" y="345.93" width="2.3" height="1.21" fill="#1a1a1a" fill-opacity="0.9"/><rect x="325.46" y="344.47" width="2.3" height="1.21" fill="#1a1a1a" fill-opacity="0.8"/><rect x="328.67" y="347.39" width="2.3" height="1.21" fill="#1a1a1a" fill-opacity="1.0"/><rect x="328.67" y="345.93" width="2.3" height="1.21" fill="#1a1a1a" fill-opacity="0.8"/><rect x="328.57" y="344.47" width="2.5" height="1.21" fill="#1a1a1a" fill-opacity="0.8"/><rect x="328.77" y="343.01" width="2.1" height="1.21" fill="#1a1a1a" fill-opacity="0.9"/><rect x="328.77" y="341.55" width="2.1" height="1.21" fill="#1a1a1a" fill-opacity="0.8"/><rect x="331.97" y="347.39" width="2.1" height="1.21" fill="#1a1a1a" fill-opacity="1.0"/><rect x="331.97" y="345.93" width="2.1" height="1.21" fill="#1a1a1a" fill-opacity="0.8"/><rect x="331.87" y="344.47" width="2.3" height="1.21" fill="#1a1a1a" fill-opacity="0.9"/><rect x="331.97" y="343.01" width="2.1" height="1.21" fill="#1a1a1a" fill-opacity="0.9"/><rect x="331.77" y="341.55" width="2.5" height="1.21" fill="#1a1a1a" fill-opacity="1.0"/><rect x="334.98" y="347.39" width="2.5" height="1.21" fill="#1a1a1a" fill-opacity="1.0"/><rect x="334.98" y="345.93" width="2.5" height="1.21" fill="#1a1a1a" fill-opacity="1.0"/><rect x="335.08" y="344.47" width="2.3" height="1.21" fill="#1a1a1a" fill-opacity="0.9"/><rect x="334.98" y="343.01" width="2.5" height="1.21" fill="#1a1a1a" fill-opacity="0.9"/><rect x="335.18" y="341.55" width="2.1" height="1.21" fill="#1a1a1a" fill-opacity="0.8"/><rect x="338.39" y="347.39" width="2.1" height="1.21" fill="#1a1a1a" fill-opacity="1.0"/><rect x="338.39" y="345.93" width="2.1" height="1.21" fill="#1a1a1a" fill-opacity="0.8"/><rect x="338.29" y="344.47" width="2.3" height="1.21" fill="#1a1a1a" fill-opacity="0.9"/><rect x="338.39" y="343.01" width="2.1" height="1.21" fill="#1a1a1a" fill-opacity="0.8"/><rect x="338.29" y="341.55" width="2.3" height="1.21" fill="#1a1a1a" fill-opacity="1.0"/><rect x="341.39" y="347.39" width="2.5" height="1.21" fill="#1a1a1a" fill-opacity="1.0"/><rect x="341.39" y="345.93" width="2.5" height="1.21" fill="#1a1a1a" fill-opacity="0.8"/><rect x="341.39" y="344.47" width="2.5" height="1.21" fill="#1a1a1a" fill-opacity="1.0"/><rect x="341.49" y="343.01" width="2.3" height="1.21" fill="#1a1a1a" fill-opacity="1.0"/><rect x="344.60" y="347.39" width="2.5" height="1.21" fill="#1a1a1a" fill-opacity="1.0"/><rect x="344.80" y="345.93" width="2.1" height="1.21" fill="#1a1a1a" fill-opacity="1.0"/><rect x="344.60" y="344.47" width="2.5" height="1.21" fill="#1a1a1a" fill-opacity="1.0"/><rect x="344.70" y="343.01" width="2.3" height="1.21" fill="#1a1a1a" fill-opacity="1.0"/><rect x="344.80" y="341.55" width="2.1" height="1.21" fill="#1a1a1a" fill-opacity="0.9"/><rect x="348.01" y="347.39" width="2.1" height="1.21" fill="#1a1a1a" fill-opacity="1.0"/><rect x="347.91" y="345.93" width="2.3" height="1.21" fill="#1a1a1a" fill-opacity="1.0"/><rect x="347.91" y="344.47" width="2.3" height="1.21" fill="#1a1a1a" fill-opacity="0.8"/><rect x="348.01" y="343.01" width="2.1" height="1.21" fill="#1a1a1a" fill-opacity="1.0"/><rect x="348.01" y="341.55" width="2.1" height="1.21" fill="#1a1a1a" fill-opacity="1.0"/><rect x="351.01" y="347.39" width="2.5" height="1.21" fill="#1a1a1a" fill-opacity="1.0"/><rect x="351.11" y="345.93" width="2.3" height="1.21" fill="#1a1a1a" fill-opacity="1.0"/><rect x="351.01" y="344.47" width="2.5" height="1.21" fill="#1a1a1a" fill-opacity="0.8"/><rect x="351.21" y="343.01" width="2.1" height="1.21" fill="#1a1a1a" fill-opacity="0.9"/><rect x="351.21" y="341.55" width="2.1" height="1.21" fill="#1a1a1a" fill-opacity="1.0"/><rect x="354.42" y="347.39" width="2.1" height="1.21" fill="#1a1a1a" fill-opacity="1.0"/><rect x="354.32" y="345.93" width="2.3" height="1.21" fill="#1a1a1a" fill-opacity="1.0"/><rect x="354.32" y="344.47" width="2.3" height="1.21" fill="#1a1a1a" fill-opacity="0.8"/><rect x="354.32" y="343.01" width="2.3" height="1.21" fill="#1a1a1a" fill-opacity="0.9"/><rect x="354.22" y="341.55" width="2.5" height="1.21" fill="#1a1a1a" fill-opacity="0.9"/><rect x="357.42" y="347.39" width="2.5" height="1.21" fill="#1a1a1a" fill-opacity="1.0"/><rect x="357.42" y="345.93" width="2.5" height="1.21" fill="#1a1a1a" fill-opacity="0.9"/><rect x="357.42" y="344.47" width="2.5" height="1.21" fill="#1a1a1a" fill-opacity="1.0"/><rect x="357.52" y="343.01" width="2.3" height="1.21" fill="#1a1a1a" fill-opacity="1.0"/><rect x="360.63" y="347.39" width="2.5" height="1.21" fill="#1a1a1a" fill-opacity="1.0"/><rect x="360.73" y="345.93" width="2.3" height="1.21" fill="#1a1a1a" fill-opacity="1.0"/><rect x="360.73" y="344.47" width="2.3" height="1.21" fill="#1a1a1a" fill-opacity="1.0"/><rect x="360.73" y="343.01" width="2.3" height="1.21" fill="#1a1a1a" fill-opacity="0.8"/><rect x="364.04" y="347.39" width="2.1" height="1.21" fill="#1a1a1a" fill-opacity="1.0"/><rect x="364.04" y="345.93" width="2.1" height="1.21" fill="#1a1a1a" fill-opacity="0.8"/><rect x="363.94" y="344.47" width="2.3" height="1.21" fill="#1a1a1a" fill-opacity="0.9"/><rect x="367.04" y="347.39" width="2.5" height="1.21" fill="#1a1a1a" fill-opacity="1.0"/><rect x="367.04" y="345.93" width="2.5" height="1.21" fill="#1a1a1a" fill-opacity="0.8"/><rect x="367.24" y="344.47" width="2.1" height="1.21" fill="#1a1a1a" fill-opacity="1.0"/><rect x="367.04" y="343.01" width="2.5" height="1.21" fill="#1a1a1a" fill-opacity="0.9"/><rect x="367.14" y="341.55" width="2.3" height="1.21" fill="#1a1a1a" fill-opacity="0.9"/><rect x="370.35" y="347.39" width="2.3" height="1.21" fill="#1a1a1a" fill-opacity="1.0"/><rect x="370.35" y="345.93" width="2.3" height="1.21" fill="#1a1a1a" fill-opacity="0.8"/><rect x="370.25" y="344.47" width="2.5" height="1.21" fill="#1a1a1a" fill-opacity="1.0"/><rect x="370.25" y="343.01" width="2.5" height="1.21" fill="#1a1a1a" fill-opacity="0.9"/><rect x="370.45" y="341.55" width="2.1" height="1.21" fill="#1a1a1a" fill-opacity="1.0"/><rect x="373.56" y="347.39" width="2.3" height="1.21" fill="#1a1a1a" fill-opacity="1.0"/><rect x="373.56" y="345.93" width="2.3" height="1.21" fill="#1a1a1a" fill-opacity="1.0"/><rect x="373.66" y="344.47" width="2.1" height="1.21" fill="#1a1a1a" fill-opacity="1.0"/><rect x="376.86" y="347.39" width="2.1" height="1.21" fill="#1a1a1a" fill-opacity="1.0"/><rect x="376.66" y="345.93" width="2.5" height="1.21" fill="#1a1a1a" fill-opacity="1.0"/><rect x="376.76" y="344.47" width="2.3" height="1.21" fill="#1a1a1a" fill-opacity="1.0"/><rect x="376.86" y="343.01" width="2.1" height="1.21" fill="#1a1a1a" fill-opacity="1.0"/><rect x="379.97" y="347.39" width="2.3" height="1.21" fill="#1a1a1a" fill-opacity="1.0"/><rect x="379.97" y="345.93" width="2.3" height="1.21" fill="#1a1a1a" fill-opacity="1.0"/><rect x="379.97" y="344.47" width="2.3" height="1.21" fill="#1a1a1a" fill-opacity="0.9"/><rect x="379.97" y="343.01" width="2.3" height="1.21" fill="#1a1a1a" fill-opacity="1.0"/><rect x="379.97" y="341.55" width="2.3" height="1.21" fill="#1a1a1a" fill-opacity="0.8"/><rect x="383.17" y="347.39" width="2.3" height="1.21" fill="#1a1a1a" fill-opacity="1.0"/><rect x="383.07" y="345.93" width="2.5" height="1.21" fill="#1a1a1a" fill-opacity="1.0"/><rect x="383.07" y="344.47" width="2.5" height="1.21" fill="#1a1a1a" fill-opacity="0.9"/><rect x="383.27" y="343.01" width="2.1" height="1.21" fill="#1a1a1a" fill-opacity="0.8"/><rect x="383.07" y="341.55" width="2.5" height="1.21" fill="#1a1a1a" fill-opacity="0.9"/><rect x="386.48" y="347.39" width="2.1" height="1.21" fill="#1a1a1a" fill-opacity="1.0"/><rect x="386.48" y="345.93" width="2.1" height="1.21" fill="#1a1a1a" fill-opacity="0.8"/><rect x="386.48" y="344.47" width="2.1" height="1.21" fill="#1a1a1a" fill-opacity="0.8"/><rect x="386.38" y="343.01" width="2.3" height="1.21" fill="#1a1a1a" fill-opacity="0.9"/><rect x="386.38" y="341.55" width="2.3" height="1.21" fill="#1a1a1a" fill-opacity="1.0"/><rect x="389.69" y="347.39" width="2.1" height="1.21" fill="#1a1a1a" fill-opacity="1.0"/><rect x="389.69" y="345.93" width="2.1" height="1.21" fill="#1a1a1a" fill-opacity="1.0"/><rect x="389.69" y="344.47" width="2.1" height="1.21" fill="#1a1a1a" fill-opacity="0.9"/><rect x="389.59" y="343.01" width="2.3" height="1.21" fill="#1a1a1a" fill-opacity="1.0"/><rect x="389.69" y="341.55" width="2.1" height="1.21" fill="#1a1a1a" fill-opacity="1.0"/><rect x="392.69" y="347.39" width="2.5" height="1.21" fill="#1a1a1a" fill-opacity="1.0"/><rect x="392.79" y="345.93" width="2.3" height="1.21" fill="#1a1a1a" fill-opacity="0.8"/><rect x="392.79" y="344.47" width="2.3" height="1.21" fill="#1a1a1a" fill-opacity="1.0"/><rect x="392.69" y="343.01" width="2.5" height="1.21" fill="#1a1a1a" fill-opacity="0.9"/><rect x="392.79" y="341.55" width="2.3" height="1.21" fill="#1a1a1a" fill-opacity="1.0"/><rect x="396.00" y="347.39" width="2.3" height="1.21" fill="#1a1a1a" fill-opacity="1.0"/><rect x="396.10" y="345.93" width="2.1" height="1.21" fill="#1a1a1a" fill-opacity="1.0"/><rect x="396.00" y="344.47" width="2.3" height="1.21" fill="#1a1a1a" fill-opacity="0.8"/><rect x="395.90" y="343.01" width="2.5" height="1.21" fill="#1a1a1a" fill-opacity="0.8"/><rect x="395.90" y="341.55" width="2.5" height="1.21" fill="#1a1a1a" fill-opacity="0.9"/><rect x="399.31" y="347.39" width="2.1" height="1.21" fill="#1a1a1a" fill-opacity="1.0"/><rect x="399.11" y="345.93" width="2.5" height="1.21" fill="#1a1a1a" fill-opacity="1.0"/><rect x="399.11" y="344.47" width="2.5" height="1.21" fill="#1a1a1a" fill-opacity="1.0"/><rect x="399.21" y="343.01" width="2.3" height="1.21" fill="#1a1a1a" fill-opacity="0.9"/><rect x="402.51" y="347.39" width="2.1" height="1.21" fill="#1a1a1a" fill-opacity="1.0"/><rect x="402.51" y="345.93" width="2.1" height="1.21" fill="#1a1a1a" fill-opacity="0.8"/><rect x="402.31" y="344.47" width="2.5" height="1.21" fill="#1a1a1a" fill-opacity="1.0"/><rect x="405.62" y="347.39" width="2.3" height="1.21" fill="#1a1a1a" fill-opacity="1.0"/><rect x="405.52" y="345.93" width="2.5" height="1.21" fill="#1a1a1a" fill-opacity="1.0"/><rect x="405.62" y="344.47" width="2.3" height="1.21" fill="#1a1a1a" fill-opacity="1.0"/><rect x="408.72" y="347.39" width="2.5" height="1.21" fill="#1a1a1a" fill-opacity="1.0"/><rect x="408.82" y="345.93" width="2.3" height="1.21" fill="#1a1a1a" fill-opacity="0.9"/><rect x="408.92" y="344.47" width="2.1" height="1.21" fill="#1a1a1a" fill-opacity="0.9"/><rect x="408.72" y="343.01" width="2.5" height="1.21" fill="#1a1a1a" fill-opacity="0.9"/><rect x="408.82" y="341.55" width="2.3" height="1.21" fill="#1a1a1a" fill-opacity="0.8"/><rect x="412.03" y="347.39" width="2.3" height="1.21" fill="#1a1a1a" fill-opacity="1.0"/><rect x="412.03" y="345.93" width="2.3" height="1.21" fill="#1a1a1a" fill-opacity="1.0"/><rect x="412.03" y="344.47" width="2.3" height="1.21" fill="#1a1a1a" fill-opacity="1.0"/><rect x="412.03" y="343.01" width="2.3" height="1.21" fill="#1a1a1a" fill-opacity="1.0"/><rect x="411.93" y="341.55" width="2.5" height="1.21" fill="#1a1a1a" fill-opacity="0.9"/><rect x="415.34" y="347.39" width="2.1" height="1.21" fill="#1a1a1a" fill-opacity="1.0"/><rect x="415.24" y="345.93" width="2.3" height="1.21" fill="#1a1a1a" fill-opacity="0.8"/><rect x="415.34" y="344.47" width="2.1" height="1.21" fill="#1a1a1a" fill-opacity="1.0"/><rect x="415.14" y="343.01" width="2.5" height="1.21" fill="#1a1a1a" fill-opacity="1.0"/><rect x="415.34" y="341.55" width="2.1" height="1.21" fill="#1a1a1a" fill-opacity="1.0"/><rect x="418.34" y="347.39" width="2.5" height="1.21" fill="#1a1a1a" fill-opacity="1.0"/><rect x="418.44" y="345.93" width="2.3" height="1.21" fill="#1a1a1a" fill-opacity="0.8"/><rect x="418.44" y="344.47" width="2.3" height="1.21" fill="#1a1a1a" fill-opacity="0.9"/><rect x="418.54" y="343.01" width="2.1" height="1.21" fill="#1a1a1a" fill-opacity="1.0"/><rect x="418.34" y="341.55" width="2.5" height="1.21" fill="#1a1a1a" fill-opacity="1.0"/><rect x="421.65" y="347.39" width="2.3" height="1.21" fill="#1a1a1a" fill-opacity="1.0"/><rect x="421.55" y="345.93" width="2.5" height="1.21" fill="#1a1a1a" fill-opacity="0.8"/><rect x="421.55" y="344.47" width="2.5" height="1.21" fill="#1a1a1a" fill-opacity="1.0"/><rect x="424.96" y="347.39" width="2.1" height="1.21" fill="#1a1a1a" fill-opacity="1.0"/><rect x="424.86" y="345.93" width="2.3" height="1.21" fill="#1a1a1a" fill-opacity="1.0"/><rect x="424.76" y="344.47" width="2.5" height="1.21" fill="#1a1a1a" fill-opacity="0.9"/><rect x="424.86" y="343.01" width="2.3" height="1.21" fill="#1a1a1a" fill-opacity="1.0"/><rect x="424.96" y="341.55" width="2.1" height="1.21" fill="#1a1a1a" fill-opacity="1.0"/><rect x="428.16" y="347.39" width="2.1" height="1.21" fill="#1a1a1a" fill-opacity="1.0"/><rect x="428.06" y="345.93" width="2.3" height="1.21" fill="#1a1a1a" fill-opacity="0.8"/><rect x="427.96" y="344.47" width="2.5" height="1.21" fill="#1a1a1a" fill-opacity="1.0"/><rect x="427.96" y="343.01" width="2.5" height="1.21" fill="#1a1a1a" fill-opacity="1.0"/><rect x="428.16" y="341.55" width="2.1" height="1.21" fill="#1a1a1a" fill-opacity="1.0"/><rect x="431.27" y="347.39" width="2.3" height="1.21" fill="#1a1a1a" fill-opacity="1.0"/><rect x="431.27" y="345.93" width="2.3" height="1.21" fill="#1a1a1a" fill-opacity="1.0"/><rect x="431.27" y="344.47" width="2.3" height="1.21" fill="#1a1a1a" fill-opacity="0.8"/><rect x="431.37" y="343.01" width="2.1" height="1.21" fill="#1a1a1a" fill-opacity="0.9"/><rect x="434.58" y="347.39" width="2.1" height="1.21" fill="#1a1a1a" fill-opacity="1.0"/><rect x="434.38" y="345.93" width="2.5" height="1.21" fill="#1a1a1a" fill-opacity="0.8"/><rect x="434.38" y="344.47" width="2.5" height="1.21" fill="#1a1a1a" fill-opacity="0.8"/><rect x="434.48" y="343.01" width="2.3" height="1.21" fill="#1a1a1a" fill-opacity="0.8"/><rect x="434.48" y="341.55" width="2.3" height="1.21" fill="#1a1a1a" fill-opacity="0.8"/><rect x="437.68" y="347.39" width="2.3" height="1.21" fill="#1a1a1a" fill-opacity="1.0"/><rect x="437.68" y="345.93" width="2.3" height="1.21" fill="#1a1a1a" fill-opacity="1.0"/><rect x="437.58" y="344.47" width="2.5" height="1.21" fill="#1a1a1a" fill-opacity="1.0"/><rect x="437.78" y="343.01" width="2.1" height="1.21" fill="#1a1a1a" fill-opacity="0.8"/><rect x="437.68" y="341.55" width="2.3" height="1.21" fill="#1a1a1a" fill-opacity="0.9"/><rect x="440.99" y="347.39" width="2.1" height="1.21" fill="#1a1a1a" fill-opacity="1.0"/><rect x="440.79" y="345.93" width="2.5" height="1.21" fill="#1a1a1a" fill-opacity="0.9"/><rect x="440.79" y="344.47" width="2.5" height="1.21" fill="#1a1a1a" fill-opacity="0.9"/><rect x="440.79" y="343.01" width="2.5" height="1.21" fill="#1a1a1a" fill-opacity="1.0"/><rect x="443.99" y="347.39" width="2.5" height="1.21" fill="#1a1a1a" fill-opacity="1.0"/><rect x="444.19" y="345.93" width="2.1" height="1.21" fill="#1a1a1a" fill-opacity="0.8"/><rect x="444.19" y="344.47" width="2.1" height="1.21" fill="#1a1a1a" fill-opacity="1.0"/><rect x="443.99" y="343.01" width="2.5" height="1.21" fill="#1a1a1a" fill-opacity="0.9"/><rect x="444.09" y="341.55" width="2.3" height="1.21" fill="#1a1a1a" fill-opacity="0.9"/><rect x="447.20" y="347.39" width="2.5" height="1.21" fill="#1a1a1a" fill-opacity="1.0"/><rect x="447.40" y="345.93" width="2.1" height="1.21" fill="#1a1a1a" fill-opacity="0.9"/><rect x="447.20" y="344.47" width="2.5" height="1.21" fill="#1a1a1a" fill-opacity="0.8"/><rect x="447.20" y="343.01" width="2.5" height="1.21" fill="#1a1a1a" fill-opacity="0.9"/><rect x="450.51" y="347.39" width="2.3" height="1.21" fill="#1a1a1a" fill-opacity="1.0"/><rect x="450.51" y="345.93" width="2.3" height="1.21" fill="#1a1a1a" fill-opacity="0.8"/><rect x="450.61" y="344.47" width="2.1" height="1.21" fill="#1a1a1a" fill-opacity="1.0"/><rect x="450.51" y="343.01" width="2.3" height="1.21" fill="#1a1a1a" fill-opacity="0.8"/><rect x="453.81" y="347.39" width="2.1" height="1.21" fill="#1a1a1a" fill-opacity="1.0"/><rect x="453.81" y="345.93" width="2.1" height="1.21" fill="#1a1a1a" fill-opacity="0.8"/><rect x="453.81" y="344.47" width="2.1" height="1.21" fill="#1a1a1a" fill-opacity="1.0"/><rect x="456.92" y="347.39" width="2.3" height="1.21" fill="#1a1a1a" fill-opacity="1.0"/><rect x="457.02" y="345.93" width="2.1" height="1.21" fill="#1a1a1a" fill-opacity="0.8"/><rect x="456.92" y="344.47" width="2.3" height="1.21" fill="#1a1a1a" fill-opacity="0.8"/><rect x="456.92" y="343.01" width="2.3" height="1.21" fill="#1a1a1a" fill-opacity="0.9"/><rect x="457.02" y="341.55" width="2.1" height="1.21" fill="#1a1a1a" fill-opacity="0.9"/><rect x="460.03" y="347.39" width="2.5" height="1.21" fill="#1a1a1a" fill-opacity="1.0"/><rect x="460.23" y="345.93" width="2.1" height="1.21" fill="#1a1a1a" fill-opacity="1.0"/><rect x="460.13" y="344.47" width="2.3" height="1.21" fill="#1a1a1a" fill-opacity="1.0"/><rect x="460.03" y="343.01" width="2.5" height="1.21" fill="#1a1a1a" fill-opacity="0.8"/><rect x="460.03" y="341.55" width="2.5" height="1.21" fill="#1a1a1a" fill-opacity="1.0"/><rect x="463.33" y="347.39" width="2.3" height="1.21" fill="#1a1a1a" fill-opacity="1.0"/><rect x="463.33" y="345.93" width="2.3" height="1.21" fill="#1a1a1a" fill-opacity="1.0"/><rect x="463.33" y="344.47" width="2.3" height="1.21" fill="#1a1a1a" fill-opacity="1.0"/><rect x="463.23" y="343.01" width="2.5" height="1.21" fill="#1a1a1a" fill-opacity="0.9"/><rect x="463.33" y="341.55" width="2.3" height="1.21" fill="#1a1a1a" fill-opacity="1.0"/><rect x="466.44" y="347.39" width="2.5" height="1.21" fill="#1a1a1a" fill-opacity="1.0"/><rect x="466.44" y="345.93" width="2.5" height="1.21" fill="#1a1a1a" fill-opacity="1.0"/><rect x="466.54" y="344.47" width="2.3" height="1.21" fill="#1a1a1a" fill-opacity="0.9"/><rect x="466.54" y="343.01" width="2.3" height="1.21" fill="#1a1a1a" fill-opacity="0.9"/><rect x="469.84" y="347.39" width="2.1" height="1.21" fill="#1a1a1a" fill-opacity="1.0"/><rect x="469.84" y="345.93" width="2.1" height="1.21" fill="#1a1a1a" fill-opacity="0.9"/><rect x="469.74" y="344.47" width="2.3" height="1.21" fill="#1a1a1a" fill-opacity="0.8"/><rect x="469.84" y="343.01" width="2.1" height="1.21" fill="#1a1a1a" fill-opacity="0.9"/><rect x="469.84" y="341.55" width="2.1" height="1.21" fill="#1a1a1a" fill-opacity="0.8"/><rect x="473.05" y="347.39" width="2.1" height="1.21" fill="#1a1a1a" fill-opacity="1.0"/><rect x="472.85" y="345.93" width="2.5" height="1.21" fill="#1a1a1a" fill-opacity="1.0"/><rect x="472.85" y="344.47" width="2.5" height="1.21" fill="#1a1a1a" fill-opacity="1.0"/><rect x="473.05" y="343.01" width="2.1" height="1.21" fill="#1a1a1a" fill-opacity="1.0"/><rect x="472.85" y="341.55" width="2.5" height="1.21" fill="#1a1a1a" fill-opacity="1.0"/><rect x="476.16" y="347.39" width="2.3" height="1.21" fill="#1a1a1a" fill-opacity="1.0"/><rect x="476.26" y="345.93" width="2.1" height="1.21" fill="#1a1a1a" fill-opacity="1.0"/><rect x="476.16" y="344.47" width="2.3" height="1.21" fill="#1a1a1a" fill-opacity="0.9"/><rect x="476.06" y="343.01" width="2.5" height="1.21" fill="#1a1a1a" fill-opacity="1.0"/><rect x="476.06" y="341.55" width="2.5" height="1.21" fill="#1a1a1a" fill-opacity="1.0"/><rect x="479.26" y="347.39" width="2.5" height="1.21" fill="#1a1a1a" fill-opacity="1.0"/><rect x="479.26" y="345.93" width="2.5" height="1.21" fill="#1a1a1a" fill-opacity="1.0"/><rect x="479.26" y="344.47" width="2.5" height="1.21" fill="#1a1a1a" fill-opacity="1.0"/><rect x="479.36" y="343.01" width="2.3" height="1.21" fill="#1a1a1a" fill-opacity="1.0"/><rect x="479.36" y="341.55" width="2.3" height="1.21" fill="#1a1a1a" fill-opacity="1.0"/><rect x="482.67" y="347.39" width="2.1" height="1.21" fill="#1a1a1a" fill-opacity="1.0"/><rect x="482.47" y="345.93" width="2.5" height="1.21" fill="#1a1a1a" fill-opacity="0.9"/><rect x="482.47" y="344.47" width="2.5" height="1.21" fill="#1a1a1a" fill-opacity="1.0"/><rect x="482.57" y="343.01" width="2.3" height="1.21" fill="#1a1a1a" fill-opacity="0.9"/><rect x="485.78" y="347.39" width="2.3" height="1.21" fill="#1a1a1a" fill-opacity="1.0"/><rect x="485.88" y="345.93" width="2.1" height="1.21" fill="#1a1a1a" fill-opacity="1.0"/><rect x="485.78" y="344.47" width="2.3" height="1.21" fill="#1a1a1a" fill-opacity="1.0"/><rect x="485.68" y="343.01" width="2.5" height="1.21" fill="#1a1a1a" fill-opacity="0.9"/><rect x="485.68" y="341.55" width="2.5" height="1.21" fill="#1a1a1a" fill-opacity="1.0"/><rect x="489.08" y="347.39" width="2.1" height="1.21" fill="#1a1a1a" fill-opacity="1.0"/><rect x="488.98" y="345.93" width="2.3" height="1.21" fill="#1a1a1a" fill-opacity="1.0"/><rect x="489.08" y="344.47" width="2.1" height="1.21" fill="#1a1a1a" fill-opacity="1.0"/><rect x="492.19" y="347.39" width="2.3" height="1.21" fill="#1a1a1a" fill-opacity="1.0"/><rect x="492.29" y="345.93" width="2.1" height="1.21" fill="#1a1a1a" fill-opacity="1.0"/><rect x="492.19" y="344.47" width="2.3" height="1.21" fill="#1a1a1a" fill-opacity="0.8"/><rect x="492.29" y="343.01" width="2.1" height="1.21" fill="#1a1a1a" fill-opacity="0.9"/><rect x="495.40" y="347.39" width="2.3" height="1.21" fill="#1a1a1a" fill-opacity="1.0"/><rect x="495.40" y="345.93" width="2.3" height="1.21" fill="#1a1a1a" fill-opacity="0.8"/><rect x="495.30" y="344.47" width="2.5" height="1.21" fill="#1a1a1a" fill-opacity="1.0"/><rect x="495.50" y="343.01" width="2.1" height="1.21" fill="#1a1a1a" fill-opacity="1.0"/><rect x="495.40" y="341.55" width="2.3" height="1.21" fill="#1a1a1a" fill-opacity="1.0"/><rect x="498.60" y="347.39" width="2.3" height="1.21" fill="#1a1a1a" fill-opacity="1.0"/><rect x="498.60" y="345.93" width="2.3" height="1.21" fill="#1a1a1a" fill-opacity="1.0"/><rect x="498.50" y="344.47" width="2.5" height="1.21" fill="#1a1a1a" fill-opacity="1.0"/><rect x="498.50" y="343.01" width="2.5" height="1.21" fill="#1a1a1a" fill-opacity="0.8"/><rect x="498.70" y="341.55" width="2.1" height="1.21" fill="#1a1a1a" fill-opacity="1.0"/><rect x="501.91" y="347.39" width="2.1" height="1.21" fill="#1a1a1a" fill-opacity="1.0"/><rect x="501.81" y="345.93" width="2.3" height="1.21" fill="#1a1a1a" fill-opacity="0.8"/><rect x="501.71" y="344.47" width="2.5" height="1.21" fill="#1a1a1a" fill-opacity="0.8"/><rect x="501.91" y="343.01" width="2.1" height="1.21" fill="#1a1a1a" fill-opacity="0.8"/><rect x="501.91" y="341.55" width="2.1" height="1.21" fill="#1a1a1a" fill-opacity="0.8"/><rect x="505.01" y="347.39" width="2.3" height="1.21" fill="#1a1a1a" fill-opacity="1.0"/><rect x="505.11" y="345.93" width="2.1" height="1.21" fill="#1a1a1a" fill-opacity="1.0"/><rect x="505.11" y="344.47" width="2.1" height="1.21" fill="#1a1a1a" fill-opacity="0.8"/><rect x="504.91" y="343.01" width="2.5" height="1.21" fill="#1a1a1a" fill-opacity="1.0"/><rect x="504.91" y="341.55" width="2.5" height="1.21" fill="#1a1a1a" fill-opacity="1.0"/><rect x="508.12" y="347.39" width="2.5" height="1.21" fill="#1a1a1a" fill-opacity="1.0"/><rect x="508.22" y="345.93" width="2.3" height="1.21" fill="#1a1a1a" fill-opacity="0.9"/><rect x="508.12" y="344.47" width="2.5" height="1.21" fill="#1a1a1a" fill-opacity="1.0"/><rect x="508.12" y="343.01" width="2.5" height="1.21" fill="#1a1a1a" fill-opacity="0.8"/><rect x="508.32" y="341.55" width="2.1" height="1.21" fill="#1a1a1a" fill-opacity="1.0"/><rect x="511.53" y="347.39" width="2.1" height="1.21" fill="#1a1a1a" fill-opacity="1.0"/><rect x="511.43" y="345.93" width="2.3" height="1.21" fill="#1a1a1a" fill-opacity="1.0"/><rect x="511.53" y="344.47" width="2.1" height="1.21" fill="#1a1a1a" fill-opacity="0.9"/><rect x="511.33" y="343.01" width="2.5" height="1.21" fill="#1a1a1a" fill-opacity="0.9"/><rect x="511.43" y="341.55" width="2.3" height="1.21" fill="#1a1a1a" fill-opacity="0.8"/><rect x="514.63" y="347.39" width="2.3" height="1.21" fill="#1a1a1a" fill-opacity="1.0"/><rect x="514.73" y="345.93" width="2.1" height="1.21" fill="#1a1a1a" fill-opacity="1.0"/><rect x="514.73" y="344.47" width="2.1" height="1.21" fill="#1a1a1a" fill-opacity="1.0"/><rect x="517.84" y="347.39" width="2.3" height="1.21" fill="#1a1a1a" fill-opacity="1.0"/><rect x="517.84" y="345.93" width="2.3" height="1.21" fill="#1a1a1a" fill-opacity="0.9"/><rect x="517.74" y="344.47" width="2.5" height="1.21" fill="#1a1a1a" fill-opacity="0.9"/><rect x="517.74" y="343.01" width="2.5" height="1.21" fill="#1a1a1a" fill-opacity="1.0"/><rect x="517.84" y="341.55" width="2.3" height="1.21" fill="#1a1a1a" fill-opacity="1.0"/><rect x="521.15" y="347.39" width="2.1" height="1.21" fill="#1a1a1a" fill-opacity="1.0"/><rect x="521.15" y="345.93" width="2.1" height="1.21" fill="#1a1a1a" fill-opacity="0.8"/><rect x="520.95" y="344.47" width="2.5" height="1.21" fill="#1a1a1a" fill-opacity="1.0"/><rect x="521.15" y="343.01" width="2.1" height="1.21" fill="#1a1a1a" fill-opacity="1.0"/><rect x="521.05" y="341.55" width="2.3" height="1.21" fill="#1a1a1a" fill-opacity="0.8"/><rect x="524.25" y="347.39" width="2.3" height="1.21" fill="#1a1a1a" fill-opacity="1.0"/><rect x="524.15" y="345.93" width="2.5" height="1.21" fill="#1a1a1a" fill-opacity="0.8"/><rect x="524.15" y="344.47" width="2.5" height="1.21" fill="#1a1a1a" fill-opacity="1.0"/><rect x="524.15" y="343.01" width="2.5" height="1.21" fill="#1a1a1a" fill-opacity="1.0"/><rect x="524.25" y="341.55" width="2.3" height="1.21" fill="#1a1a1a" fill-opacity="0.9"/><rect x="527.36" y="347.39" width="2.5" height="1.21" fill="#1a1a1a" fill-opacity="1.0"/><rect x="527.56" y="345.93" width="2.1" height="1.21" fill="#1a1a1a" fill-opacity="1.0"/><rect x="527.36" y="344.47" width="2.5" height="1.21" fill="#1a1a1a" fill-opacity="0.8"/><rect x="527.36" y="343.01" width="2.5" height="1.21" fill="#1a1a1a" fill-opacity="0.8"/><rect x="530.76" y="347.39" width="2.1" height="1.21" fill="#1a1a1a" fill-opacity="1.0"/><rect x="530.76" y="345.93" width="2.1" height="1.21" fill="#1a1a1a" fill-opacity="0.8"/><rect x="530.66" y="344.47" width="2.3" height="1.21" fill="#1a1a1a" fill-opacity="0.9"/><rect x="530.66" y="343.01" width="2.3" height="1.21" fill="#1a1a1a" fill-opacity="1.0"/><rect x="530.66" y="341.55" width="2.3" height="1.21" fill="#1a1a1a" fill-opacity="1.0"/><rect x="533.77" y="347.39" width="2.5" height="1.21" fill="#1a1a1a" fill-opacity="1.0"/><rect x="533.97" y="345.93" width="2.1" height="1.21" fill="#1a1a1a" fill-opacity="0.9"/><rect x="533.87" y="344.47" width="2.3" height="1.21" fill="#1a1a1a" fill-opacity="1.0"/><rect x="533.77" y="343.01" width="2.5" height="1.21" fill="#1a1a1a" fill-opacity="0.9"/><rect x="533.77" y="341.55" width="2.5" height="1.21" fill="#1a1a1a" fill-opacity="1.0"/><rect x="537.08" y="347.39" width="2.3" height="1.21" fill="#1a1a1a" fill-opacity="1.0"/><rect x="536.98" y="345.93" width="2.5" height="1.21" fill="#1a1a1a" fill-opacity="1.0"/><rect x="537.08" y="344.47" width="2.3" height="1.21" fill="#1a1a1a" fill-opacity="0.9"/><rect x="536.98" y="343.01" width="2.5" height="1.21" fill="#1a1a1a" fill-opacity="0.8"/><rect x="537.08" y="341.55" width="2.3" height="1.21" fill="#1a1a1a" fill-opacity="1.0"/><rect x="540.38" y="347.39" width="2.1" height="1.21" fill="#1a1a1a" fill-opacity="1.0"/><rect x="540.38" y="345.93" width="2.1" height="1.21" fill="#1a1a1a" fill-opacity="1.0"/><rect x="540.38" y="344.47" width="2.1" height="1.21" fill="#1a1a1a" fill-opacity="0.9"/><rect x="540.38" y="343.01" width="2.1" height="1.21" fill="#1a1a1a" fill-opacity="1.0"/><rect x="540.38" y="341.55" width="2.1" height="1.21" fill="#1a1a1a" fill-opacity="1.0"/><rect x="543.59" y="347.39" width="2.1" height="1.21" fill="#1a1a1a" fill-opacity="1.0"/><rect x="543.49" y="345.93" width="2.3" height="1.21" fill="#1a1a1a" fill-opacity="0.8"/><rect x="543.59" y="344.47" width="2.1" height="1.21" fill="#1a1a1a" fill-opacity="1.0"/><rect x="543.39" y="343.01" width="2.5" height="1.21" fill="#1a1a1a" fill-opacity="1.0"/><rect x="543.59" y="341.55" width="2.1" height="1.21" fill="#1a1a1a" fill-opacity="0.8"/><rect x="546.70" y="347.39" width="2.3" height="1.21" fill="#1a1a1a" fill-opacity="1.0"/><rect x="546.80" y="345.93" width="2.1" height="1.21" fill="#1a1a1a" fill-opacity="1.0"/><rect x="546.70" y="344.47" width="2.3" height="1.21" fill="#1a1a1a" fill-opacity="0.9"/><rect x="546.70" y="343.01" width="2.3" height="1.21" fill="#1a1a1a" fill-opacity="1.0"/><rect x="546.80" y="341.55" width="2.1" height="1.21" fill="#1a1a1a" fill-opacity="1.0"/><rect x="549.90" y="347.39" width="2.3" height="1.21" fill="#1a1a1a" fill-opacity="1.0"/><rect x="550.00" y="345.93" width="2.1" height="1.21" fill="#1a1a1a" fill-opacity="0.8"/><rect x="549.90" y="344.47" width="2.3" height="1.21" fill="#1a1a1a" fill-opacity="0.9"/><rect x="550.00" y="343.01" width="2.1" height="1.21" fill="#1a1a1a" fill-opacity="1.0"/><rect x="550.00" y="341.55" width="2.1" height="1.21" fill="#1a1a1a" fill-opacity="0.9"/><rect x="553.01" y="347.39" width="2.5" height="1.21" fill="#1a1a1a" fill-opacity="1.0"/><rect x="553.21" y="345.93" width="2.1" height="1.21" fill="#1a1a1a" fill-opacity="0.9"/><rect x="553.01" y="344.47" width="2.5" height="1.21" fill="#1a1a1a" fill-opacity="1.0"/><rect x="553.21" y="343.01" width="2.1" height="1.21" fill="#1a1a1a" fill-opacity="0.9"/><rect x="553.01" y="341.55" width="2.5" height="1.21" fill="#1a1a1a" fill-opacity="1.0"/><rect x="556.31" y="347.39" width="2.3" height="1.21" fill="#1a1a1a" fill-opacity="1.0"/><rect x="556.21" y="345.93" width="2.5" height="1.21" fill="#1a1a1a" fill-opacity="0.9"/><rect x="556.31" y="344.47" width="2.3" height="1.21" fill="#1a1a1a" fill-opacity="1.0"/><rect x="556.41" y="343.01" width="2.1" height="1.21" fill="#1a1a1a" fill-opacity="1.0"/><rect x="556.21" y="341.55" width="2.5" height="1.21" fill="#1a1a1a" fill-opacity="0.8"/><rect x="559.52" y="347.39" width="2.3" height="1.21" fill="#1a1a1a" fill-opacity="1.0"/><rect x="559.62" y="345.93" width="2.1" height="1.21" fill="#1a1a1a" fill-opacity="1.0"/><rect x="559.52" y="344.47" width="2.3" height="1.21" fill="#1a1a1a" fill-opacity="0.9"/><rect x="559.42" y="343.01" width="2.5" height="1.21" fill="#1a1a1a" fill-opacity="1.0"/><rect x="559.62" y="341.55" width="2.1" height="1.21" fill="#1a1a1a" fill-opacity="1.0"/><rect x="562.63" y="347.39" width="2.5" height="1.21" fill="#1a1a1a" fill-opacity="1.0"/><rect x="562.73" y="345.93" width="2.3" height="1.21" fill="#1a1a1a" fill-opacity="1.0"/><rect x="562.63" y="344.47" width="2.5" height="1.21" fill="#1a1a1a" fill-opacity="1.0"/><rect x="562.83" y="343.01" width="2.1" height="1.21" fill="#1a1a1a" fill-opacity="1.0"/><rect x="562.63" y="341.55" width="2.5" height="1.21" fill="#1a1a1a" fill-opacity="0.8"/><rect x="565.93" y="347.39" width="2.3" height="1.21" fill="#1a1a1a" fill-opacity="1.0"/><rect x="565.83" y="345.93" width="2.5" height="1.21" fill="#1a1a1a" fill-opacity="0.9"/><rect x="566.03" y="344.47" width="2.1" height="1.21" fill="#1a1a1a" fill-opacity="1.0"/><rect x="565.83" y="343.01" width="2.5" height="1.21" fill="#1a1a1a" fill-opacity="1.0"/><rect x="565.93" y="341.55" width="2.3" height="1.21" fill="#1a1a1a" fill-opacity="0.9"/><rect x="569.04" y="347.39" width="2.5" height="1.21" fill="#1a1a1a" fill-opacity="1.0"/><rect x="569.14" y="345.93" width="2.3" height="1.21" fill="#1a1a1a" fill-opacity="0.9"/><rect x="569.14" y="344.47" width="2.3" height="1.21" fill="#1a1a1a" fill-opacity="1.0"/><rect x="569.04" y="343.01" width="2.5" height="1.21" fill="#1a1a1a" fill-opacity="0.8"/><rect x="569.04" y="341.55" width="2.5" height="1.21" fill="#1a1a1a" fill-opacity="1.0"/><rect x="572.25" y="347.39" width="2.5" height="1.21" fill="#1a1a1a" fill-opacity="1.0"/><rect x="572.25" y="345.93" width="2.5" height="1.21" fill="#1a1a1a" fill-opacity="0.8"/><rect x="572.25" y="344.47" width="2.5" height="1.21" fill="#1a1a1a" fill-opacity="1.0"/><rect x="572.25" y="343.01" width="2.5" height="1.21" fill="#1a1a1a" fill-opacity="1.0"/><rect x="575.55" y="347.39" width="2.3" height="1.21" fill="#1a1a1a" fill-opacity="1.0"/><rect x="575.65" y="345.93" width="2.1" height="1.21" fill="#1a1a1a" fill-opacity="1.0"/><rect x="575.45" y="344.47" width="2.5" height="1.21" fill="#1a1a1a" fill-opacity="1.0"/><rect x="575.55" y="343.01" width="2.3" height="1.21" fill="#1a1a1a" fill-opacity="1.0"/><rect x="575.55" y="341.55" width="2.3" height="1.21" fill="#1a1a1a" fill-opacity="1.0"/><rect x="578.86" y="347.39" width="2.1" height="1.21" fill="#1a1a1a" fill-opacity="1.0"/><rect x="578.76" y="345.93" width="2.3" height="1.21" fill="#1a1a1a" fill-opacity="0.9"/><rect x="578.66" y="344.47" width="2.5" height="1.21" fill="#1a1a1a" fill-opacity="0.9"/><rect x="578.66" y="343.01" width="2.5" height="1.21" fill="#1a1a1a" fill-opacity="1.0"/><rect x="578.76" y="341.55" width="2.3" height="1.21" fill="#1a1a1a" fill-opacity="0.8"/><rect x="582.07" y="347.39" width="2.1" height="1.21" fill="#1a1a1a" fill-opacity="1.0"/><rect x="581.87" y="345.93" width="2.5" height="1.21" fill="#1a1a1a" fill-opacity="1.0"/><rect x="582.07" y="344.47" width="2.1" height="1.21" fill="#1a1a1a" fill-opacity="1.0"/><rect x="581.97" y="343.01" width="2.3" height="1.21" fill="#1a1a1a" fill-opacity="1.0"/><rect x="581.97" y="341.55" width="2.3" height="1.21" fill="#1a1a1a" fill-opacity="0.9"/><rect x="585.07" y="347.39" width="2.5" height="1.21" fill="#1a1a1a" fill-opacity="1.0"/><rect x="585.27" y="345.93" width="2.1" height="1.21" fill="#1a1a1a" fill-opacity="1.0"/><rect x="585.07" y="344.47" width="2.5" height="1.21" fill="#1a1a1a" fill-opacity="0.8"/><rect x="585.07" y="343.01" width="2.5" height="1.21" fill="#1a1a1a" fill-opacity="1.0"/><rect x="585.27" y="341.55" width="2.1" height="1.21" fill="#1a1a1a" fill-opacity="0.9"/><rect x="588.28" y="347.39" width="2.5" height="1.21" fill="#1a1a1a" fill-opacity="1.0"/><rect x="588.48" y="345.93" width="2.1" height="1.21" fill="#1a1a1a" fill-opacity="0.9"/><rect x="588.28" y="344.47" width="2.5" height="1.21" fill="#1a1a1a" fill-opacity="0.8"/><rect x="588.38" y="343.01" width="2.3" height="1.21" fill="#1a1a1a" fill-opacity="0.8"/><rect x="588.38" y="341.55" width="2.3" height="1.21" fill="#1a1a1a" fill-opacity="1.0"/><rect x="591.68" y="347.39" width="2.1" height="1.21" fill="#1a1a1a" fill-opacity="1.0"/><rect x="591.58" y="345.93" width="2.3" height="1.21" fill="#1a1a1a" fill-opacity="1.0"/><rect x="591.68" y="344.47" width="2.1" height="1.21" fill="#1a1a1a" fill-opacity="1.0"/><rect x="591.68" y="343.01" width="2.1" height="1.21" fill="#1a1a1a" fill-opacity="1.0"/><rect x="591.68" y="341.55" width="2.1" height="1.21" fill="#1a1a1a" fill-opacity="0.9"/><rect x="594.79" y="347.39" width="2.3" height="1.21" fill="#1a1a1a" fill-opacity="1.0"/><rect x="594.89" y="345.93" width="2.1" height="1.21" fill="#1a1a1a" fill-opacity="1.0"/><rect x="594.79" y="344.47" width="2.3" height="1.21" fill="#1a1a1a" fill-opacity="1.0"/><rect x="594.79" y="343.01" width="2.3" height="1.21" fill="#1a1a1a" fill-opacity="0.9"/><rect x="594.69" y="341.55" width="2.5" height="1.21" fill="#1a1a1a" fill-opacity="0.9"/><rect x="598.10" y="347.39" width="2.1" height="1.21" fill="#1a1a1a" fill-opacity="1.0"/><rect x="598.00" y="345.93" width="2.3" height="1.21" fill="#1a1a1a" fill-opacity="1.0"/><rect x="598.10" y="344.47" width="2.1" height="1.21" fill="#1a1a1a" fill-opacity="1.0"/><rect x="597.90" y="343.01" width="2.5" height="1.21" fill="#1a1a1a" fill-opacity="0.8"/><rect x="601.30" y="347.39" width="2.1" height="1.21" fill="#1a1a1a" fill-opacity="1.0"/><rect x="601.20" y="345.93" width="2.3" height="1.21" fill="#1a1a1a" fill-opacity="0.9"/><rect x="601.30" y="344.47" width="2.1" height="1.21" fill="#1a1a1a" fill-opacity="1.0"/><rect x="601.30" y="343.01" width="2.1" height="1.21" fill="#1a1a1a" fill-opacity="1.0"/><rect x="604.51" y="347.39" width="2.1" height="1.21" fill="#1a1a1a" fill-opacity="1.0"/><rect x="604.41" y="345.93" width="2.3" height="1.21" fill="#1a1a1a" fill-opacity="1.0"/><rect x="604.41" y="344.47" width="2.3" height="1.21" fill="#1a1a1a" fill-opacity="0.9"/><rect x="604.31" y="343.01" width="2.5" height="1.21" fill="#1a1a1a" fill-opacity="1.0"/><rect x="607.52" y="347.39" width="2.5" height="1.21" fill="#1a1a1a" fill-opacity="1.0"/><rect x="607.62" y="345.93" width="2.3" height="1.21" fill="#1a1a1a" fill-opacity="1.0"/><rect x="607.62" y="344.47" width="2.3" height="1.21" fill="#1a1a1a" fill-opacity="1.0"/><rect x="607.52" y="343.01" width="2.5" height="1.21" fill="#1a1a1a" fill-opacity="1.0"/><rect x="607.72" y="341.55" width="2.1" height="1.21" fill="#1a1a1a" fill-opacity="1.0"/><rect x="610.92" y="347.39" width="2.1" height="1.21" fill="#1a1a1a" fill-opacity="1.0"/><rect x="610.82" y="345.93" width="2.3" height="1.21" fill="#1a1a1a" fill-opacity="0.9"/><rect x="610.92" y="344.47" width="2.1" height="1.21" fill="#1a1a1a" fill-opacity="0.8"/><rect x="614.13" y="347.39" width="2.1" height="1.21" fill="#1a1a1a" fill-opacity="1.0"/><rect x="613.93" y="345.93" width="2.5" height="1.21" fill="#1a1a1a" fill-opacity="0.9"/><rect x="614.03" y="344.47" width="2.3" height="1.21" fill="#1a1a1a" fill-opacity="1.0"/><rect x="613.93" y="343.01" width="2.5" height="1.21" fill="#1a1a1a" fill-opacity="0.8"/><rect x="614.13" y="341.55" width="2.1" height="1.21" fill="#1a1a1a" fill-opacity="1.0"/><rect x="617.33" y="347.39" width="2.1" height="1.21" fill="#1a1a1a" fill-opacity="1.0"/><rect x="617.13" y="345.93" width="2.5" height="1.21" fill="#1a1a1a" fill-opacity="0.9"/><rect x="617.23" y="344.47" width="2.3" height="1.21" fill="#1a1a1a" fill-opacity="0.8"/><rect x="620.34" y="347.39" width="2.5" height="1.21" fill="#1a1a1a" fill-opacity="1.0"/><rect x="620.54" y="345.93" width="2.1" height="1.21" fill="#1a1a1a" fill-opacity="1.0"/><rect x="620.34" y="344.47" width="2.5" height="1.21" fill="#1a1a1a" fill-opacity="0.8"/><rect x="620.34" y="343.01" width="2.5" height="1.21" fill="#1a1a1a" fill-opacity="1.0"/><rect x="620.44" y="341.55" width="2.3" height="1.21" fill="#1a1a1a" fill-opacity="0.9"/><rect x="623.75" y="347.39" width="2.1" height="1.21" fill="#1a1a1a" fill-opacity="1.0"/><rect x="623.55" y="345.93" width="2.5" height="1.21" fill="#1a1a1a" fill-opacity="0.8"/><rect x="623.75" y="344.47" width="2.1" height="1.21" fill="#1a1a1a" fill-opacity="0.9"/><rect x="623.55" y="343.01" width="2.5" height="1.21" fill="#1a1a1a" fill-opacity="0.8"/></g><line x1="625.6" y1="274.1" x2="625.6" y2="309.3" stroke="#888" stroke-width="0.6"/><text transform="translate(622.8,292.9) rotate(-90)" font-size="6.5" text-anchor="middle" fill="#222" stroke="#222" stroke-width="0.15">0.08</text></g>
<g shape-rendering="crispEdges"><rect x="14.80" y="350.30" width="3.21" height="0.00" fill="#a6cee3"/><rect x="14.80" y="350.30" width="3.21" height="35.90" fill="#3570a8"/><rect x="14.80" y="389.60" width="3.21" height="35.40" fill="#a6cee3"/><rect x="14.80" y="389.60" width="3.21" height="35.40" fill="#b2df8a"/><rect x="14.80" y="428.20" width="3.21" height="35.40" fill="#33a02c"/><rect x="18.01" y="350.30" width="3.21" height="0.00" fill="#a6cee3"/><rect x="18.01" y="350.30" width="3.21" height="35.90" fill="#3570a8"/><rect x="18.01" y="389.60" width="3.21" height="35.40" fill="#a6cee3"/><rect x="18.01" y="389.60" width="3.21" height="35.40" fill="#b2df8a"/><rect x="18.01" y="428.20" width="3.21" height="35.40" fill="#33a02c"/><rect x="21.21" y="350.30" width="3.21" height="0.00" fill="#a6cee3"/><rect x="21.21" y="350.30" width="3.21" height="35.90" fill="#3570a8"/><rect x="21.21" y="389.60" width="3.21" height="35.40" fill="#a6cee3"/><rect x="21.21" y="389.60" width="3.21" height="35.40" fill="#b2df8a"/><rect x="21.21" y="428.20" width="3.21" height="35.40" fill="#33a02c"/><rect x="24.42" y="350.30" width="3.21" height="0.00" fill="#a6cee3"/><rect x="24.42" y="350.30" width="3.21" height="35.90" fill="#3570a8"/><rect x="24.42" y="389.60" width="3.21" height="35.40" fill="#a6cee3"/><rect x="24.42" y="389.60" width="3.21" height="35.40" fill="#b2df8a"/><rect x="24.42" y="428.20" width="3.21" height="35.40" fill="#33a02c"/><rect x="27.63" y="350.30" width="3.21" height="0.00" fill="#a6cee3"/><rect x="27.63" y="350.30" width="3.21" height="35.90" fill="#3570a8"/><rect x="27.63" y="389.60" width="3.21" height="35.40" fill="#a6cee3"/><rect x="27.63" y="389.60" width="3.21" height="35.40" fill="#b2df8a"/><rect x="27.63" y="428.20" width="3.21" height="35.40" fill="#33a02c"/><rect x="30.83" y="350.30" width="3.21" height="0.00" fill="#a6cee3"/><rect x="30.83" y="350.30" width="3.21" height="35.90" fill="#3570a8"/><rect x="30.83" y="389.60" width="3.21" height="35.40" fill="#a6cee3"/><rect x="30.83" y="389.60" width="3.21" height="35.40" fill="#b2df8a"/><rect x="30.83" y="428.20" width="3.21" height="35.40" fill="#33a02c"/><rect x="34.04" y="350.30" width="3.21" height="0.00" fill="#a6cee3"/><rect x="34.04" y="350.30" width="3.21" height="35.90" fill="#3570a8"/><rect x="34.04" y="389.60" width="3.21" height="35.40" fill="#a6cee3"/><rect x="34.04" y="389.60" width="3.21" height="35.40" fill="#b2df8a"/><rect x="34.04" y="428.20" width="3.21" height="35.40" fill="#33a02c"/><rect x="37.24" y="350.30" width="3.21" height="0.00" fill="#a6cee3"/><rect x="37.24" y="350.30" width="3.21" height="35.90" fill="#3570a8"/><rect x="37.24" y="389.60" width="3.21" height="35.40" fill="#a6cee3"/><rect x="37.24" y="389.60" width="3.21" height="35.40" fill="#b2df8a"/><rect x="37.24" y="428.20" width="3.21" height="35.40" fill="#33a02c"/><rect x="40.45" y="350.30" width="3.21" height="0.00" fill="#a6cee3"/><rect x="40.45" y="350.30" width="3.21" height="35.90" fill="#3570a8"/><rect x="40.45" y="389.60" width="3.21" height="35.40" fill="#a6cee3"/><rect x="40.45" y="389.60" width="3.21" height="35.40" fill="#b2df8a"/><rect x="40.45" y="428.20" width="3.21" height="35.40" fill="#33a02c"/><rect x="43.66" y="350.30" width="3.21" height="0.00" fill="#a6cee3"/><rect x="43.66" y="350.30" width="3.21" height="35.90" fill="#3570a8"/><rect x="43.66" y="389.60" width="3.21" height="35.40" fill="#a6cee3"/><rect x="43.66" y="389.60" width="3.21" height="35.40" fill="#b2df8a"/><rect x="43.66" y="428.20" width="3.21" height="35.40" fill="#33a02c"/><rect x="46.86" y="350.30" width="3.21" height="0.00" fill="#a6cee3"/><rect x="46.86" y="350.30" width="3.21" height="35.90" fill="#3570a8"/><rect x="46.86" y="389.60" width="3.21" height="35.40" fill="#a6cee3"/><rect x="46.86" y="389.60" width="3.21" height="35.40" fill="#b2df8a"/><rect x="46.86" y="428.20" width="3.21" height="35.40" fill="#33a02c"/><rect x="50.07" y="350.30" width="3.21" height="0.00" fill="#a6cee3"/><rect x="50.07" y="350.30" width="3.21" height="35.90" fill="#3570a8"/><rect x="50.07" y="389.60" width="3.21" height="35.40" fill="#a6cee3"/><rect x="50.07" y="389.60" width="3.21" height="35.40" fill="#b2df8a"/><rect x="50.07" y="428.20" width="3.21" height="35.40" fill="#b15928"/><rect x="53.28" y="350.30" width="3.21" height="0.00" fill="#a6cee3"/><rect x="53.28" y="350.30" width="3.21" height="35.90" fill="#3570a8"/><rect x="53.28" y="389.60" width="3.21" height="35.40" fill="#a6cee3"/><rect x="53.28" y="389.60" width="3.21" height="35.40" fill="#b2df8a"/><rect x="53.28" y="428.20" width="3.21" height="35.40" fill="#b15928"/><rect x="56.48" y="350.30" width="3.21" height="0.00" fill="#a6cee3"/><rect x="56.48" y="350.30" width="3.21" height="35.90" fill="#3570a8"/><rect x="56.48" y="389.60" width="3.21" height="35.40" fill="#a6cee3"/><rect x="56.48" y="389.60" width="3.21" height="35.40" fill="#b2df8a"/><rect x="56.48" y="428.20" width="3.21" height="35.40" fill="#b15928"/><rect x="59.69" y="350.30" width="3.21" height="0.00" fill="#a6cee3"/><rect x="59.69" y="350.30" width="3.21" height="35.90" fill="#3570a8"/><rect x="59.69" y="389.60" width="3.21" height="35.40" fill="#a6cee3"/><rect x="59.69" y="389.60" width="3.21" height="35.40" fill="#b2df8a"/><rect x="59.69" y="428.20" width="3.21" height="35.40" fill="#b15928"/><rect x="62.89" y="350.30" width="3.21" height="0.00" fill="#a6cee3"/><rect x="62.89" y="350.30" width="3.21" height="35.90" fill="#3570a8"/><rect x="62.89" y="389.60" width="3.21" height="35.40" fill="#a6cee3"/><rect x="62.89" y="389.60" width="3.21" height="35.40" fill="#b2df8a"/><rect x="62.89" y="428.20" width="3.21" height="35.40" fill="#b15928"/><rect x="66.10" y="350.30" width="3.21" height="0.00" fill="#a6cee3"/><rect x="66.10" y="350.30" width="3.21" height="35.90" fill="#3570a8"/><rect x="66.10" y="389.60" width="3.21" height="35.40" fill="#a6cee3"/><rect x="66.10" y="389.60" width="3.21" height="35.40" fill="#b2df8a"/><rect x="66.10" y="428.20" width="3.21" height="35.40" fill="#b15928"/><rect x="69.31" y="350.30" width="3.21" height="0.00" fill="#a6cee3"/><rect x="69.31" y="350.30" width="3.21" height="35.90" fill="#3570a8"/><rect x="69.31" y="389.60" width="3.21" height="35.40" fill="#a6cee3"/><rect x="69.31" y="389.60" width="3.21" height="35.40" fill="#b2df8a"/><rect x="69.31" y="428.20" width="3.21" height="35.40" fill="#b15928"/><rect x="72.51" y="350.30" width="3.21" height="0.00" fill="#a6cee3"/><rect x="72.51" y="350.30" width="3.21" height="35.90" fill="#3570a8"/><rect x="72.51" y="389.60" width="3.21" height="35.40" fill="#a6cee3"/><rect x="72.51" y="389.60" width="3.21" height="35.40" fill="#b2df8a"/><rect x="72.51" y="428.20" width="3.21" height="35.40" fill="#b15928"/><rect x="75.72" y="350.30" width="3.21" height="0.00" fill="#a6cee3"/><rect x="75.72" y="350.30" width="3.21" height="35.90" fill="#3570a8"/><rect x="75.72" y="389.60" width="3.21" height="35.40" fill="#a6cee3"/><rect x="75.72" y="389.60" width="3.21" height="35.40" fill="#b2df8a"/><rect x="75.72" y="428.20" width="3.21" height="35.40" fill="#6a3d9a"/><rect x="78.93" y="350.30" width="3.21" height="0.00" fill="#a6cee3"/><rect x="78.93" y="350.30" width="3.21" height="35.90" fill="#3570a8"/><rect x="78.93" y="389.60" width="3.21" height="35.40" fill="#a6cee3"/><rect x="78.93" y="389.60" width="3.21" height="35.40" fill="#b2df8a"/><rect x="78.93" y="428.20" width="3.21" height="35.40" fill="#6a3d9a"/><rect x="82.13" y="350.30" width="3.21" height="0.00" fill="#a6cee3"/><rect x="82.13" y="350.30" width="3.21" height="35.90" fill="#3570a8"/><rect x="82.13" y="389.60" width="3.21" height="35.40" fill="#a6cee3"/><rect x="82.13" y="389.60" width="3.21" height="35.40" fill="#b2df8a"/><rect x="82.13" y="428.20" width="3.21" height="35.40" fill="#6a3d9a"/><rect x="85.34" y="350.30" width="3.21" height="0.00" fill="#a6cee3"/><rect x="85.34" y="350.30" width="3.21" height="35.90" fill="#3570a8"/><rect x="85.34" y="389.60" width="3.21" height="35.40" fill="#a6cee3"/><rect x="85.34" y="389.60" width="3.21" height="35.40" fill="#b2df8a"/><rect x="85.34" y="428.20" width="3.21" height="35.40" fill="#6a3d9a"/><rect x="88.54" y="350.30" width="3.21" height="0.00" fill="#a6cee3"/><rect x="88.54" y="350.30" width="3.21" height="35.90" fill="#3570a8"/><rect x="88.54" y="389.60" width="3.21" height="35.40" fill="#a6cee3"/><rect x="88.54" y="389.60" width="3.21" height="35.40" fill="#b2df8a"/><rect x="88.54" y="428.20" width="3.21" height="35.40" fill="#6a3d9a"/><rect x="91.75" y="350.30" width="3.21" height="0.00" fill="#a6cee3"/><rect x="91.75" y="350.30" width="3.21" height="35.90" fill="#3570a8"/><rect x="91.75" y="389.60" width="3.21" height="35.40" fill="#a6cee3"/><rect x="91.75" y="389.60" width="3.21" height="35.40" fill="#b2df8a"/><rect x="91.75" y="428.20" width="3.21" height="35.40" fill="#6a3d9a"/><rect x="94.96" y="350.30" width="3.21" height="0.00" fill="#a6cee3"/><rect x="94.96" y="350.30" width="3.21" height="35.90" fill="#3570a8"/><rect x="94.96" y="389.60" width="3.21" height="35.40" fill="#a6cee3"/><rect x="94.96" y="389.60" width="3.21" height="35.40" fill="#b2df8a"/><rect x="94.96" y="428.20" width="3.21" height="35.40" fill="#6a3d9a"/><rect x="98.16" y="350.30" width="3.21" height="0.00" fill="#a6cee3"/><rect x="98.16" y="350.30" width="3.21" height="35.90" fill="#3570a8"/><rect x="98.16" y="389.60" width="3.21" height="35.40" fill="#a6cee3"/><rect x="98.16" y="389.60" width="3.21" height="35.40" fill="#b2df8a"/><rect x="98.16" y="428.20" width="3.21" height="35.40" fill="#6a3d9a"/><rect x="101.37" y="350.30" width="3.21" height="0.00" fill="#a6cee3"/><rect x="101.37" y="350.30" width="3.21" height="35.90" fill="#3570a8"/><rect x="101.37" y="389.60" width="3.21" height="35.40" fill="#a6cee3"/><rect x="101.37" y="389.60" width="3.21" height="35.40" fill="#b2df8a"/><rect x="101.37" y="428.20" width="3.21" height="35.40" fill="#6a3d9a"/><rect x="104.58" y="350.30" width="3.21" height="0.00" fill="#a6cee3"/><rect x="104.58" y="350.30" width="3.21" height="35.90" fill="#3570a8"/><rect x="104.58" y="389.60" width="3.21" height="35.40" fill="#a6cee3"/><rect x="104.58" y="389.60" width="3.21" height="35.40" fill="#b2df8a"/><rect x="104.58" y="428.20" width="3.21" height="35.40" fill="#6a3d9a"/><rect x="107.78" y="350.30" width="3.21" height="0.00" fill="#a6cee3"/><rect x="107.78" y="350.30" width="3.21" height="35.90" fill="#3570a8"/><rect x="107.78" y="389.60" width="3.21" height="35.40" fill="#a6cee3"/><rect x="107.78" y="389.60" width="3.21" height="35.40" fill="#b2df8a"/><rect x="107.78" y="428.20" width="3.21" height="35.40" fill="#6a3d9a"/><rect x="110.99" y="350.30" width="3.21" height="0.00" fill="#a6cee3"/><rect x="110.99" y="350.30" width="3.21" height="35.90" fill="#3570a8"/><rect x="110.99" y="389.60" width="3.21" height="35.40" fill="#a6cee3"/><rect x="110.99" y="389.60" width="3.21" height="35.40" fill="#b2df8a"/><rect x="110.99" y="428.20" width="3.21" height="35.40" fill="#6a3d9a"/><rect x="114.20" y="350.30" width="3.21" height="0.00" fill="#a6cee3"/><rect x="114.20" y="350.30" width="3.21" height="35.90" fill="#3570a8"/><rect x="114.20" y="389.60" width="3.21" height="35.40" fill="#a6cee3"/><rect x="114.20" y="389.60" width="3.21" height="35.40" fill="#b2df8a"/><rect x="114.20" y="428.20" width="3.21" height="35.40" fill="#6a3d9a"/><rect x="117.40" y="350.30" width="3.21" height="0.00" fill="#a6cee3"/><rect x="117.40" y="350.30" width="3.21" height="35.90" fill="#3570a8"/><rect x="117.40" y="389.60" width="3.21" height="35.40" fill="#a6cee3"/><rect x="117.40" y="389.60" width="3.21" height="35.40" fill="#b2df8a"/><rect x="117.40" y="428.20" width="3.21" height="35.40" fill="#6a3d9a"/><rect x="120.61" y="350.30" width="3.21" height="0.00" fill="#a6cee3"/><rect x="120.61" y="350.30" width="3.21" height="35.90" fill="#3570a8"/><rect x="120.61" y="389.60" width="3.21" height="35.40" fill="#a6cee3"/><rect x="120.61" y="389.60" width="3.21" height="35.40" fill="#b2df8a"/><rect x="120.61" y="428.20" width="3.21" height="35.40" fill="#6a3d9a"/><rect x="123.81" y="350.30" width="3.21" height="0.00" fill="#a6cee3"/><rect x="123.81" y="350.30" width="3.21" height="35.90" fill="#3570a8"/><rect x="123.81" y="389.60" width="3.21" height="35.40" fill="#a6cee3"/><rect x="123.81" y="389.60" width="3.21" height="35.40" fill="#b2df8a"/><rect x="123.81" y="428.20" width="3.21" height="35.40" fill="#6a3d9a"/><rect x="127.02" y="350.30" width="3.21" height="0.00" fill="#a6cee3"/><rect x="127.02" y="350.30" width="3.21" height="35.90" fill="#3570a8"/><rect x="127.02" y="389.60" width="3.21" height="35.40" fill="#a6cee3"/><rect x="127.02" y="389.60" width="3.21" height="35.40" fill="#b2df8a"/><rect x="127.02" y="428.20" width="3.21" height="35.40" fill="#6a3d9a"/><rect x="130.23" y="350.30" width="3.21" height="0.00" fill="#a6cee3"/><rect x="130.23" y="350.30" width="3.21" height="35.90" fill="#3570a8"/><rect x="130.23" y="389.60" width="3.21" height="35.40" fill="#a6cee3"/><rect x="130.23" y="389.60" width="3.21" height="35.40" fill="#b2df8a"/><rect x="130.23" y="428.20" width="3.21" height="35.40" fill="#6a3d9a"/><rect x="133.43" y="350.30" width="3.21" height="0.00" fill="#a6cee3"/><rect x="133.43" y="350.30" width="3.21" height="35.90" fill="#3570a8"/><rect x="133.43" y="389.60" width="3.21" height="35.40" fill="#a6cee3"/><rect x="133.43" y="389.60" width="3.21" height="35.40" fill="#b2df8a"/><rect x="133.43" y="428.20" width="3.21" height="35.40" fill="#6a3d9a"/><rect x="136.64" y="350.30" width="3.21" height="0.00" fill="#a6cee3"/><rect x="136.64" y="350.30" width="3.21" height="35.90" fill="#3570a8"/><rect x="136.64" y="389.60" width="3.21" height="35.40" fill="#a6cee3"/><rect x="136.64" y="389.60" width="3.21" height="35.40" fill="#b2df8a"/><rect x="136.64" y="428.20" width="3.21" height="35.40" fill="#6a3d9a"/><rect x="139.85" y="350.30" width="3.21" height="20.46" fill="#a6cee3"/><rect x="139.85" y="370.76" width="3.21" height="15.44" fill="#3570a8"/><rect x="139.85" y="389.60" width="3.21" height="35.40" fill="#a6cee3"/><rect x="139.85" y="393.14" width="3.21" height="17.70" fill="#1f78b4"/><rect x="139.85" y="410.84" width="3.21" height="14.16" fill="#b2df8a"/><rect x="139.85" y="428.20" width="3.21" height="1.42" fill="#a6cee3"/><rect x="139.85" y="429.62" width="3.21" height="7.08" fill="#cab2d6"/><rect x="139.85" y="436.70" width="3.21" height="12.39" fill="#6a3d9a"/><rect x="139.85" y="449.09" width="3.21" height="14.51" fill="#ffff99"/><rect x="143.05" y="350.30" width="3.21" height="17.95" fill="#a6cee3"/><rect x="143.05" y="368.25" width="3.21" height="17.95" fill="#3570a8"/><rect x="143.05" y="389.60" width="3.21" height="35.40" fill="#a6cee3"/><rect x="143.05" y="400.57" width="3.21" height="7.08" fill="#1f78b4"/><rect x="143.05" y="407.65" width="3.21" height="17.35" fill="#b2df8a"/><rect x="143.05" y="428.20" width="3.21" height="1.42" fill="#a6cee3"/><rect x="143.05" y="429.62" width="3.21" height="5.31" fill="#0a0acc"/><rect x="143.05" y="434.93" width="3.21" height="6.73" fill="#fdbf6f"/><rect x="143.05" y="441.65" width="3.21" height="3.54" fill="#ff7f00"/><rect x="143.05" y="445.19" width="3.21" height="4.25" fill="#cab2d6"/><rect x="143.05" y="449.44" width="3.21" height="14.16" fill="#6a3d9a"/><rect x="146.26" y="350.30" width="3.21" height="17.95" fill="#a6cee3"/><rect x="146.26" y="368.25" width="3.21" height="17.95" fill="#3570a8"/><rect x="146.26" y="389.60" width="3.21" height="35.40" fill="#a6cee3"/><rect x="146.26" y="400.57" width="3.21" height="7.08" fill="#1f78b4"/><rect x="146.26" y="407.65" width="3.21" height="17.35" fill="#b2df8a"/><rect x="146.26" y="428.20" width="3.21" height="1.42" fill="#a6cee3"/><rect x="146.26" y="429.62" width="3.21" height="5.31" fill="#0a0acc"/><rect x="146.26" y="434.93" width="3.21" height="6.73" fill="#fdbf6f"/><rect x="146.26" y="441.65" width="3.21" height="3.54" fill="#ff7f00"/><rect x="146.26" y="445.19" width="3.21" height="4.25" fill="#cab2d6"/><rect x="146.26" y="449.44" width="3.21" height="14.16" fill="#6a3d9a"/><rect x="149.46" y="350.30" width="3.21" height="17.95" fill="#a6cee3"/><rect x="149.46" y="368.25" width="3.21" height="17.95" fill="#3570a8"/><rect x="149.46" y="389.60" width="3.21" height="35.40" fill="#a6cee3"/><rect x="149.46" y="398.80" width="3.21" height="9.56" fill="#1f78b4"/><rect x="149.46" y="408.36" width="3.21" height="16.64" fill="#b2df8a"/><rect x="149.46" y="428.20" width="3.21" height="4.60" fill="#fdbf6f"/><rect x="149.46" y="432.80" width="3.21" height="13.81" fill="#cab2d6"/><rect x="149.46" y="446.61" width="3.21" height="12.74" fill="#6a3d9a"/><rect x="149.46" y="459.35" width="3.21" height="4.25" fill="#b15928"/><rect x="152.67" y="350.30" width="3.21" height="17.95" fill="#a6cee3"/><rect x="152.67" y="368.25" width="3.21" height="17.95" fill="#3570a8"/><rect x="152.67" y="389.60" width="3.21" height="35.40" fill="#a6cee3"/><rect x="152.67" y="398.80" width="3.21" height="9.56" fill="#1f78b4"/><rect x="152.67" y="408.36" width="3.21" height="16.64" fill="#b2df8a"/><rect x="152.67" y="428.20" width="3.21" height="4.60" fill="#fdbf6f"/><rect x="152.67" y="432.80" width="3.21" height="13.81" fill="#cab2d6"/><rect x="152.67" y="446.61" width="3.21" height="12.74" fill="#6a3d9a"/><rect x="152.67" y="459.35" width="3.21" height="4.25" fill="#b15928"/><rect x="155.88" y="350.30" width="3.21" height="17.95" fill="#a6cee3"/><rect x="155.88" y="368.25" width="3.21" height="17.95" fill="#3570a8"/><rect x="155.88" y="389.60" width="3.21" height="35.40" fill="#a6cee3"/><rect x="155.88" y="398.80" width="3.21" height="9.56" fill="#1f78b4"/><rect x="155.88" y="408.36" width="3.21" height="16.64" fill="#b2df8a"/><rect x="155.88" y="428.20" width="3.21" height="4.60" fill="#fdbf6f"/><rect x="155.88" y="432.80" width="3.21" height="13.81" fill="#cab2d6"/><rect x="155.88" y="446.61" width="3.21" height="12.74" fill="#6a3d9a"/><rect x="155.88" y="459.35" width="3.21" height="4.25" fill="#b15928"/><rect x="159.08" y="350.30" width="3.21" height="21.54" fill="#a6cee3"/><rect x="159.08" y="371.84" width="3.21" height="14.36" fill="#3570a8"/><rect x="159.08" y="389.60" width="3.21" height="35.40" fill="#a6cee3"/><rect x="159.08" y="401.28" width="3.21" height="9.56" fill="#1f78b4"/><rect x="159.08" y="410.84" width="3.21" height="14.16" fill="#b2df8a"/><rect x="159.08" y="428.20" width="3.21" height="6.73" fill="#33a02c"/><rect x="159.08" y="434.93" width="3.21" height="18.41" fill="#fdbf6f"/><rect x="159.08" y="453.33" width="3.21" height="10.27" fill="#cab2d6"/><rect x="162.29" y="350.30" width="3.21" height="17.95" fill="#a6cee3"/><rect x="162.29" y="368.25" width="3.21" height="17.95" fill="#3570a8"/><rect x="162.29" y="389.60" width="3.21" height="35.40" fill="#a6cee3"/><rect x="162.29" y="395.97" width="3.21" height="12.39" fill="#1f78b4"/><rect x="162.29" y="408.36" width="3.21" height="16.64" fill="#b2df8a"/><rect x="162.29" y="428.20" width="3.21" height="7.08" fill="#33a02c"/><rect x="162.29" y="435.28" width="3.21" height="28.32" fill="#fdbf6f"/><rect x="165.50" y="350.30" width="3.21" height="17.95" fill="#a6cee3"/><rect x="165.50" y="368.25" width="3.21" height="17.95" fill="#3570a8"/><rect x="165.50" y="389.60" width="3.21" height="35.40" fill="#a6cee3"/><rect x="165.50" y="397.03" width="3.21" height="11.33" fill="#1f78b4"/><rect x="165.50" y="408.36" width="3.21" height="16.64" fill="#b2df8a"/><rect x="165.50" y="428.20" width="3.21" height="7.79" fill="#33a02c"/><rect x="165.50" y="435.99" width="3.21" height="27.61" fill="#fdbf6f"/><rect x="168.70" y="350.30" width="3.21" height="25.49" fill="#a6cee3"/><rect x="168.70" y="375.79" width="3.21" height="10.41" fill="#3570a8"/><rect x="168.70" y="389.60" width="3.21" height="35.40" fill="#a6cee3"/><rect x="168.70" y="400.57" width="3.21" height="15.22" fill="#1f78b4"/><rect x="168.70" y="415.80" width="3.21" height="9.20" fill="#b2df8a"/><rect x="168.70" y="428.20" width="3.21" height="1.77" fill="#fdbf6f"/><rect x="168.70" y="429.97" width="3.21" height="1.77" fill="#33a02c"/><rect x="168.70" y="431.74" width="3.21" height="17.70" fill="#fdbf6f"/><rect x="168.70" y="449.44" width="3.21" height="7.79" fill="#cab2d6"/><rect x="168.70" y="457.23" width="3.21" height="6.37" fill="#ffff99"/><rect x="171.91" y="350.30" width="3.21" height="26.57" fill="#a6cee3"/><rect x="171.91" y="376.87" width="3.21" height="9.33" fill="#3570a8"/><rect x="171.91" y="389.60" width="3.21" height="35.40" fill="#a6cee3"/><rect x="171.91" y="401.28" width="3.21" height="15.58" fill="#1f78b4"/><rect x="171.91" y="416.86" width="3.21" height="8.14" fill="#b2df8a"/><rect x="171.91" y="428.20" width="3.21" height="35.40" fill="#fdbf6f"/><rect x="175.12" y="350.30" width="3.21" height="26.57" fill="#a6cee3"/><rect x="175.12" y="376.87" width="3.21" height="9.33" fill="#3570a8"/><rect x="175.12" y="389.60" width="3.21" height="35.40" fill="#a6cee3"/><rect x="175.12" y="401.28" width="3.21" height="15.58" fill="#1f78b4"/><rect x="175.12" y="416.86" width="3.21" height="8.14" fill="#b2df8a"/><rect x="175.12" y="428.20" width="3.21" height="35.40" fill="#fdbf6f"/><rect x="178.32" y="350.30" width="3.21" height="26.57" fill="#a6cee3"/><rect x="178.32" y="376.87" width="3.21" height="9.33" fill="#3570a8"/><rect x="178.32" y="389.60" width="3.21" height="35.40" fill="#a6cee3"/><rect x="178.32" y="401.28" width="3.21" height="15.58" fill="#1f78b4"/><rect x="178.32" y="416.86" width="3.21" height="8.14" fill="#b2df8a"/><rect x="178.32" y="428.20" width="3.21" height="35.40" fill="#fdbf6f"/><rect x="181.53" y="350.30" width="3.21" height="26.57" fill="#a6cee3"/><rect x="181.53" y="376.87" width="3.21" height="9.33" fill="#3570a8"/><rect x="181.53" y="389.60" width="3.21" height="35.40" fill="#a6cee3"/><rect x="181.53" y="401.28" width="3.21" height="15.58" fill="#1f78b4"/><rect x="181.53" y="416.86" width="3.21" height="8.14" fill="#b2df8a"/><rect x="181.53" y="428.20" width="3.21" height="35.40" fill="#fdbf6f"/><rect x="184.73" y="350.30" width="3.21" height="26.57" fill="#a6cee3"/><rect x="184.73" y="376.87" width="3.21" height="9.33" fill="#3570a8"/><rect x="184.73" y="389.60" width="3.21" height="35.40" fill="#a6cee3"/><rect x="184.73" y="401.28" width="3.21" height="15.58" fill="#1f78b4"/><rect x="184.73" y="416.86" width="3.21" height="8.14" fill="#b2df8a"/><rect x="184.73" y="428.20" width="3.21" height="35.40" fill="#fdbf6f"/><rect x="187.94" y="350.30" width="3.21" height="32.67" fill="#a6cee3"/><rect x="187.94" y="382.97" width="3.21" height="3.23" fill="#3570a8"/><rect x="187.94" y="389.60" width="3.21" height="35.40" fill="#a6cee3"/><rect x="187.94" y="406.24" width="3.21" height="15.93" fill="#1f78b4"/><rect x="187.94" y="422.17" width="3.21" height="2.83" fill="#b2df8a"/><rect x="187.94" y="428.20" width="3.21" height="35.40" fill="#ff7f00"/><rect x="191.15" y="350.30" width="3.21" height="32.67" fill="#a6cee3"/><rect x="191.15" y="382.97" width="3.21" height="3.23" fill="#3570a8"/><rect x="191.15" y="389.60" width="3.21" height="35.40" fill="#a6cee3"/><rect x="191.15" y="406.24" width="3.21" height="15.93" fill="#1f78b4"/><rect x="191.15" y="422.17" width="3.21" height="2.83" fill="#b2df8a"/><rect x="191.15" y="428.20" width="3.21" height="35.40" fill="#ff7f00"/><rect x="194.35" y="350.30" width="3.21" height="32.67" fill="#a6cee3"/><rect x="194.35" y="382.97" width="3.21" height="3.23" fill="#3570a8"/><rect x="194.35" y="389.60" width="3.21" height="35.40" fill="#a6cee3"/><rect x="194.35" y="406.24" width="3.21" height="15.93" fill="#1f78b4"/><rect x="194.35" y="422.17" width="3.21" height="2.83" fill="#b2df8a"/><rect x="194.35" y="428.20" width="3.21" height="35.40" fill="#ff7f00"/><rect x="197.56" y="350.30" width="3.21" height="32.67" fill="#a6cee3"/><rect x="197.56" y="382.97" width="3.21" height="3.23" fill="#3570a8"/><rect x="197.56" y="389.60" width="3.21" height="35.40" fill="#a6cee3"/><rect x="197.56" y="406.24" width="3.21" height="15.93" fill="#1f78b4"/><rect x="197.56" y="422.17" width="3.21" height="2.83" fill="#b2df8a"/><rect x="197.56" y="428.20" width="3.21" height="35.40" fill="#ff7f00"/><rect x="200.77" y="350.30" width="3.21" height="32.67" fill="#a6cee3"/><rect x="200.77" y="382.97" width="3.21" height="3.23" fill="#3570a8"/><rect x="200.77" y="389.60" width="3.21" height="35.40" fill="#a6cee3"/><rect x="200.77" y="406.24" width="3.21" height="15.93" fill="#1f78b4"/><rect x="200.77" y="422.17" width="3.21" height="2.83" fill="#b2df8a"/><rect x="200.77" y="428.20" width="3.21" height="35.40" fill="#ff7f00"/><rect x="203.97" y="350.30" width="3.21" height="29.80" fill="#a6cee3"/><rect x="203.97" y="380.10" width="3.21" height="6.10" fill="#3570a8"/><rect x="203.97" y="389.60" width="3.21" height="35.40" fill="#a6cee3"/><rect x="203.97" y="404.11" width="3.21" height="15.58" fill="#1f78b4"/><rect x="203.97" y="419.69" width="3.21" height="5.31" fill="#b2df8a"/><rect x="203.97" y="428.20" width="3.21" height="35.40" fill="#0a0acc"/><rect x="207.18" y="350.30" width="3.21" height="29.80" fill="#a6cee3"/><rect x="207.18" y="380.10" width="3.21" height="6.10" fill="#3570a8"/><rect x="207.18" y="389.60" width="3.21" height="35.40" fill="#a6cee3"/><rect x="207.18" y="404.11" width="3.21" height="15.58" fill="#1f78b4"/><rect x="207.18" y="419.69" width="3.21" height="5.31" fill="#b2df8a"/><rect x="207.18" y="428.20" width="3.21" height="35.40" fill="#0a0acc"/><rect x="210.38" y="350.30" width="3.21" height="29.80" fill="#a6cee3"/><rect x="210.38" y="380.10" width="3.21" height="6.10" fill="#3570a8"/><rect x="210.38" y="389.60" width="3.21" height="35.40" fill="#a6cee3"/><rect x="210.38" y="401.28" width="3.21" height="18.41" fill="#1f78b4"/><rect x="210.38" y="419.69" width="3.21" height="5.31" fill="#b2df8a"/><rect x="210.38" y="428.20" width="3.21" height="35.40" fill="#0a0acc"/><rect x="213.59" y="350.30" width="3.21" height="29.80" fill="#a6cee3"/><rect x="213.59" y="380.10" width="3.21" height="6.10" fill="#3570a8"/><rect x="213.59" y="389.60" width="3.21" height="35.40" fill="#a6cee3"/><rect x="213.59" y="401.28" width="3.21" height="18.41" fill="#1f78b4"/><rect x="213.59" y="419.69" width="3.21" height="5.31" fill="#b2df8a"/><rect x="213.59" y="428.20" width="3.21" height="35.40" fill="#0a0acc"/><rect x="216.80" y="350.30" width="3.21" height="32.67" fill="#a6cee3"/><rect x="216.80" y="382.97" width="3.21" height="3.23" fill="#3570a8"/><rect x="216.80" y="389.60" width="3.21" height="35.40" fill="#a6cee3"/><rect x="216.80" y="393.85" width="3.21" height="29.03" fill="#1f78b4"/><rect x="216.80" y="422.88" width="3.21" height="2.12" fill="#b2df8a"/><rect x="216.80" y="428.20" width="3.21" height="14.87" fill="#0a0acc"/><rect x="216.80" y="443.07" width="3.21" height="20.53" fill="#ffff99"/><rect x="220.00" y="350.30" width="3.21" height="29.44" fill="#a6cee3"/><rect x="220.00" y="379.74" width="3.21" height="6.46" fill="#3570a8"/><rect x="220.00" y="389.60" width="3.21" height="35.40" fill="#a6cee3"/><rect x="220.00" y="394.91" width="3.21" height="24.78" fill="#1f78b4"/><rect x="220.00" y="419.69" width="3.21" height="5.31" fill="#b2df8a"/><rect x="220.00" y="428.20" width="3.21" height="8.50" fill="#1f78b4"/><rect x="220.00" y="436.70" width="3.21" height="2.83" fill="#cab2d6"/><rect x="220.00" y="439.53" width="3.21" height="5.31" fill="#0a0acc"/><rect x="220.00" y="444.84" width="3.21" height="2.48" fill="#fdbf6f"/><rect x="220.00" y="447.32" width="3.21" height="2.83" fill="#ff7f00"/><rect x="220.00" y="450.15" width="3.21" height="13.45" fill="#ffff99"/><rect x="223.21" y="350.30" width="3.21" height="26.57" fill="#a6cee3"/><rect x="223.21" y="376.87" width="3.21" height="9.33" fill="#3570a8"/><rect x="223.21" y="389.60" width="3.21" height="35.40" fill="#a6cee3"/><rect x="223.21" y="389.60" width="3.21" height="30.44" fill="#1f78b4"/><rect x="223.21" y="420.04" width="3.21" height="4.96" fill="#b2df8a"/><rect x="223.21" y="428.20" width="3.21" height="35.40" fill="#1f78b4"/><rect x="226.42" y="350.30" width="3.21" height="26.57" fill="#a6cee3"/><rect x="226.42" y="376.87" width="3.21" height="9.33" fill="#3570a8"/><rect x="226.42" y="389.60" width="3.21" height="35.40" fill="#a6cee3"/><rect x="226.42" y="389.60" width="3.21" height="30.44" fill="#1f78b4"/><rect x="226.42" y="420.04" width="3.21" height="4.96" fill="#b2df8a"/><rect x="226.42" y="428.20" width="3.21" height="35.40" fill="#1f78b4"/><rect x="229.62" y="350.30" width="3.21" height="26.57" fill="#a6cee3"/><rect x="229.62" y="376.87" width="3.21" height="9.33" fill="#3570a8"/><rect x="229.62" y="389.60" width="3.21" height="35.40" fill="#a6cee3"/><rect x="229.62" y="389.60" width="3.21" height="30.44" fill="#1f78b4"/><rect x="229.62" y="420.04" width="3.21" height="4.96" fill="#b2df8a"/><rect x="229.62" y="428.20" width="3.21" height="35.40" fill="#1f78b4"/><rect x="232.83" y="350.30" width="3.21" height="26.57" fill="#a6cee3"/><rect x="232.83" y="376.87" width="3.21" height="9.33" fill="#3570a8"/><rect x="232.83" y="389.60" width="3.21" height="35.40" fill="#a6cee3"/><rect x="232.83" y="389.60" width="3.21" height="30.44" fill="#1f78b4"/><rect x="232.83" y="420.04" width="3.21" height="4.96" fill="#b2df8a"/><rect x="232.83" y="428.20" width="3.21" height="35.40" fill="#1f78b4"/><rect x="236.03" y="350.30" width="3.21" height="26.57" fill="#a6cee3"/><rect x="236.03" y="376.87" width="3.21" height="9.33" fill="#3570a8"/><rect x="236.03" y="389.60" width="3.21" height="35.40" fill="#a6cee3"/><rect x="236.03" y="389.60" width="3.21" height="30.44" fill="#1f78b4"/><rect x="236.03" y="420.04" width="3.21" height="4.96" fill="#b2df8a"/><rect x="236.03" y="428.20" width="3.21" height="35.40" fill="#1f78b4"/><rect x="239.24" y="350.30" width="3.21" height="26.57" fill="#a6cee3"/><rect x="239.24" y="376.87" width="3.21" height="9.33" fill="#3570a8"/><rect x="239.24" y="389.60" width="3.21" height="35.40" fill="#a6cee3"/><rect x="239.24" y="389.60" width="3.21" height="30.44" fill="#1f78b4"/><rect x="239.24" y="420.04" width="3.21" height="4.96" fill="#b2df8a"/><rect x="239.24" y="428.20" width="3.21" height="35.40" fill="#1f78b4"/><rect x="242.45" y="350.30" width="3.21" height="26.57" fill="#a6cee3"/><rect x="242.45" y="376.87" width="3.21" height="9.33" fill="#3570a8"/><rect x="242.45" y="389.60" width="3.21" height="35.40" fill="#a6cee3"/><rect x="242.45" y="389.60" width="3.21" height="30.44" fill="#1f78b4"/><rect x="242.45" y="420.04" width="3.21" height="4.96" fill="#b2df8a"/><rect x="242.45" y="428.20" width="3.21" height="35.40" fill="#1f78b4"/><rect x="245.65" y="350.30" width="3.21" height="26.57" fill="#a6cee3"/><rect x="245.65" y="376.87" width="3.21" height="9.33" fill="#3570a8"/><rect x="245.65" y="389.60" width="3.21" height="35.40" fill="#a6cee3"/><rect x="245.65" y="389.60" width="3.21" height="30.44" fill="#1f78b4"/><rect x="245.65" y="420.04" width="3.21" height="4.96" fill="#b2df8a"/><rect x="245.65" y="428.20" width="3.21" height="35.40" fill="#1f78b4"/><rect x="248.86" y="350.30" width="3.21" height="26.57" fill="#a6cee3"/><rect x="248.86" y="376.87" width="3.21" height="9.33" fill="#3570a8"/><rect x="248.86" y="389.60" width="3.21" height="35.40" fill="#a6cee3"/><rect x="248.86" y="389.60" width="3.21" height="30.44" fill="#1f78b4"/><rect x="248.86" y="420.04" width="3.21" height="4.96" fill="#b2df8a"/><rect x="248.86" y="428.20" width="3.21" height="35.40" fill="#1f78b4"/><rect x="252.07" y="350.30" width="3.21" height="26.57" fill="#a6cee3"/><rect x="252.07" y="376.87" width="3.21" height="9.33" fill="#3570a8"/><rect x="252.07" y="389.60" width="3.21" height="35.40" fill="#a6cee3"/><rect x="252.07" y="389.60" width="3.21" height="30.44" fill="#1f78b4"/><rect x="252.07" y="420.04" width="3.21" height="4.96" fill="#b2df8a"/><rect x="252.07" y="428.20" width="3.21" height="35.40" fill="#1f78b4"/><rect x="255.27" y="350.30" width="3.21" height="26.57" fill="#a6cee3"/><rect x="255.27" y="376.87" width="3.21" height="9.33" fill="#3570a8"/><rect x="255.27" y="389.60" width="3.21" height="35.40" fill="#a6cee3"/><rect x="255.27" y="389.60" width="3.21" height="30.44" fill="#1f78b4"/><rect x="255.27" y="420.04" width="3.21" height="4.96" fill="#b2df8a"/><rect x="255.27" y="428.20" width="3.21" height="35.40" fill="#1f78b4"/><rect x="258.48" y="350.30" width="3.21" height="26.57" fill="#a6cee3"/><rect x="258.48" y="376.87" width="3.21" height="9.33" fill="#3570a8"/><rect x="258.48" y="389.60" width="3.21" height="35.40" fill="#a6cee3"/><rect x="258.48" y="389.60" width="3.21" height="30.44" fill="#1f78b4"/><rect x="258.48" y="420.04" width="3.21" height="4.96" fill="#b2df8a"/><rect x="258.48" y="428.20" width="3.21" height="35.40" fill="#1f78b4"/><rect x="261.69" y="350.30" width="3.21" height="26.57" fill="#a6cee3"/><rect x="261.69" y="376.87" width="3.21" height="9.33" fill="#3570a8"/><rect x="261.69" y="389.60" width="3.21" height="35.40" fill="#a6cee3"/><rect x="261.69" y="389.60" width="3.21" height="30.44" fill="#1f78b4"/><rect x="261.69" y="420.04" width="3.21" height="4.96" fill="#b2df8a"/><rect x="261.69" y="428.20" width="3.21" height="35.40" fill="#1f78b4"/><rect x="264.89" y="350.30" width="3.21" height="31.59" fill="#a6cee3"/><rect x="264.89" y="381.89" width="3.21" height="4.31" fill="#3570a8"/><rect x="264.89" y="389.60" width="3.21" height="35.40" fill="#a6cee3"/><rect x="264.89" y="395.62" width="3.21" height="27.26" fill="#1f78b4"/><rect x="264.89" y="422.88" width="3.21" height="2.12" fill="#b2df8a"/><rect x="264.89" y="428.20" width="3.21" height="16.64" fill="#0a0acc"/><rect x="264.89" y="444.84" width="3.21" height="18.76" fill="#ffff99"/><rect x="268.10" y="350.30" width="3.21" height="31.59" fill="#a6cee3"/><rect x="268.10" y="381.89" width="3.21" height="4.31" fill="#3570a8"/><rect x="268.10" y="389.60" width="3.21" height="35.40" fill="#a6cee3"/><rect x="268.10" y="395.62" width="3.21" height="27.26" fill="#1f78b4"/><rect x="268.10" y="422.88" width="3.21" height="2.12" fill="#b2df8a"/><rect x="268.10" y="428.20" width="3.21" height="16.64" fill="#0a0acc"/><rect x="268.10" y="444.84" width="3.21" height="18.76" fill="#ffff99"/><rect x="271.30" y="350.30" width="3.21" height="31.59" fill="#a6cee3"/><rect x="271.30" y="381.89" width="3.21" height="4.31" fill="#3570a8"/><rect x="271.30" y="389.60" width="3.21" height="35.40" fill="#a6cee3"/><rect x="271.30" y="395.62" width="3.21" height="27.26" fill="#1f78b4"/><rect x="271.30" y="422.88" width="3.21" height="2.12" fill="#b2df8a"/><rect x="271.30" y="428.20" width="3.21" height="16.64" fill="#0a0acc"/><rect x="271.30" y="444.84" width="3.21" height="18.76" fill="#ffff99"/><rect x="274.51" y="350.30" width="3.21" height="34.46" fill="#a6cee3"/><rect x="274.51" y="384.76" width="3.21" height="1.44" fill="#3570a8"/><rect x="274.51" y="389.60" width="3.21" height="35.40" fill="#a6cee3"/><rect x="274.51" y="389.60" width="3.21" height="35.40" fill="#1f78b4"/><rect x="274.51" y="428.20" width="3.21" height="35.40" fill="#ffff99"/><rect x="277.72" y="350.30" width="3.21" height="34.46" fill="#a6cee3"/><rect x="277.72" y="384.76" width="3.21" height="1.44" fill="#3570a8"/><rect x="277.72" y="389.60" width="3.21" height="35.40" fill="#a6cee3"/><rect x="277.72" y="389.60" width="3.21" height="35.40" fill="#1f78b4"/><rect x="277.72" y="428.20" width="3.21" height="35.40" fill="#ffff99"/><rect x="280.92" y="350.30" width="3.21" height="34.46" fill="#a6cee3"/><rect x="280.92" y="384.76" width="3.21" height="1.44" fill="#3570a8"/><rect x="280.92" y="389.60" width="3.21" height="35.40" fill="#a6cee3"/><rect x="280.92" y="389.60" width="3.21" height="35.40" fill="#1f78b4"/><rect x="280.92" y="428.20" width="3.21" height="35.40" fill="#ffff99"/><rect x="284.13" y="350.30" width="3.21" height="34.46" fill="#a6cee3"/><rect x="284.13" y="384.76" width="3.21" height="1.44" fill="#3570a8"/><rect x="284.13" y="389.60" width="3.21" height="35.40" fill="#a6cee3"/><rect x="284.13" y="389.60" width="3.21" height="35.40" fill="#1f78b4"/><rect x="284.13" y="428.20" width="3.21" height="35.40" fill="#ffff99"/><rect x="287.34" y="350.30" width="3.21" height="34.46" fill="#a6cee3"/><rect x="287.34" y="384.76" width="3.21" height="1.44" fill="#3570a8"/><rect x="287.34" y="389.60" width="3.21" height="35.40" fill="#a6cee3"/><rect x="287.34" y="389.60" width="3.21" height="35.40" fill="#1f78b4"/><rect x="287.34" y="428.20" width="3.21" height="35.40" fill="#ffff99"/><rect x="290.54" y="350.30" width="3.21" height="34.46" fill="#a6cee3"/><rect x="290.54" y="384.76" width="3.21" height="1.44" fill="#3570a8"/><rect x="290.54" y="389.60" width="3.21" height="35.40" fill="#a6cee3"/><rect x="290.54" y="389.60" width="3.21" height="35.40" fill="#1f78b4"/><rect x="290.54" y="428.20" width="3.21" height="35.40" fill="#ffff99"/><rect x="293.75" y="350.30" width="3.21" height="32.31" fill="#a6cee3"/><rect x="293.75" y="382.61" width="3.21" height="3.59" fill="#3570a8"/><rect x="293.75" y="389.60" width="3.21" height="35.40" fill="#a6cee3"/><rect x="293.75" y="393.14" width="3.21" height="29.74" fill="#1f78b4"/><rect x="293.75" y="422.88" width="3.21" height="2.12" fill="#b2df8a"/><rect x="293.75" y="428.20" width="3.21" height="8.85" fill="#0a0acc"/><rect x="293.75" y="437.05" width="3.21" height="26.55" fill="#ffff99"/><rect x="296.95" y="350.30" width="3.21" height="34.46" fill="#a6cee3"/><rect x="296.95" y="384.76" width="3.21" height="1.44" fill="#3570a8"/><rect x="296.95" y="389.60" width="3.21" height="35.40" fill="#a6cee3"/><rect x="296.95" y="389.60" width="3.21" height="35.40" fill="#1f78b4"/><rect x="296.95" y="428.20" width="3.21" height="35.40" fill="#ffff99"/><rect x="300.16" y="350.30" width="3.21" height="34.46" fill="#a6cee3"/><rect x="300.16" y="384.76" width="3.21" height="1.44" fill="#3570a8"/><rect x="300.16" y="389.60" width="3.21" height="35.40" fill="#a6cee3"/><rect x="300.16" y="389.60" width="3.21" height="35.40" fill="#1f78b4"/><rect x="300.16" y="428.20" width="3.21" height="35.40" fill="#ffff99"/><rect x="303.37" y="350.30" width="3.21" height="34.46" fill="#a6cee3"/><rect x="303.37" y="384.76" width="3.21" height="1.44" fill="#3570a8"/><rect x="303.37" y="389.60" width="3.21" height="35.40" fill="#a6cee3"/><rect x="303.37" y="389.60" width="3.21" height="35.40" fill="#1f78b4"/><rect x="303.37" y="428.20" width="3.21" height="35.40" fill="#ffff99"/><rect x="306.57" y="350.30" width="3.21" height="34.46" fill="#a6cee3"/><rect x="306.57" y="384.76" width="3.21" height="1.44" fill="#3570a8"/><rect x="306.57" y="389.60" width="3.21" height="35.40" fill="#a6cee3"/><rect x="306.57" y="389.60" width="3.21" height="35.40" fill="#1f78b4"/><rect x="306.57" y="428.20" width="3.21" height="35.40" fill="#ffff99"/><rect x="309.78" y="350.30" width="3.21" height="34.46" fill="#a6cee3"/><rect x="309.78" y="384.76" width="3.21" height="1.44" fill="#3570a8"/><rect x="309.78" y="389.60" width="3.21" height="35.40" fill="#a6cee3"/><rect x="309.78" y="389.60" width="3.21" height="35.40" fill="#1f78b4"/><rect x="309.78" y="428.20" width="3.21" height="35.40" fill="#ffff99"/><rect x="312.99" y="350.30" width="3.21" height="34.46" fill="#a6cee3"/><rect x="312.99" y="384.76" width="3.21" height="1.44" fill="#3570a8"/><rect x="312.99" y="389.60" width="3.21" height="35.40" fill="#a6cee3"/><rect x="312.99" y="389.60" width="3.21" height="35.40" fill="#1f78b4"/><rect x="312.99" y="428.20" width="3.21" height="35.40" fill="#ffff99"/><rect x="316.19" y="350.30" width="3.21" height="34.46" fill="#a6cee3"/><rect x="316.19" y="384.76" width="3.21" height="1.44" fill="#3570a8"/><rect x="316.19" y="389.60" width="3.21" height="35.40" fill="#a6cee3"/><rect x="316.19" y="389.60" width="3.21" height="35.40" fill="#1f78b4"/><rect x="316.19" y="428.20" width="3.21" height="35.40" fill="#ffff99"/><rect x="319.40" y="350.30" width="3.21" height="34.46" fill="#a6cee3"/><rect x="319.40" y="384.76" width="3.21" height="1.44" fill="#3570a8"/><rect x="319.40" y="389.60" width="3.21" height="35.40" fill="#a6cee3"/><rect x="319.40" y="389.60" width="3.21" height="35.40" fill="#1f78b4"/><rect x="319.40" y="428.20" width="3.21" height="35.40" fill="#ffff99"/><rect x="322.60" y="350.30" width="3.21" height="34.46" fill="#a6cee3"/><rect x="322.60" y="384.76" width="3.21" height="1.44" fill="#3570a8"/><rect x="322.60" y="389.60" width="3.21" height="35.40" fill="#a6cee3"/><rect x="322.60" y="389.60" width="3.21" height="35.40" fill="#1f78b4"/><rect x="322.60" y="428.20" width="3.21" height="35.40" fill="#ffff99"/><rect x="325.81" y="350.30" width="3.21" height="34.46" fill="#a6cee3"/><rect x="325.81" y="384.76" width="3.21" height="1.44" fill="#3570a8"/><rect x="325.81" y="389.60" width="3.21" height="35.40" fill="#a6cee3"/><rect x="325.81" y="389.60" width="3.21" height="35.40" fill="#1f78b4"/><rect x="325.81" y="428.20" width="3.21" height="35.40" fill="#ffff99"/><rect x="329.02" y="350.30" width="3.21" height="34.46" fill="#a6cee3"/><rect x="329.02" y="384.76" width="3.21" height="1.44" fill="#3570a8"/><rect x="329.02" y="389.60" width="3.21" height="35.40" fill="#a6cee3"/><rect x="329.02" y="389.60" width="3.21" height="35.40" fill="#1f78b4"/><rect x="329.02" y="428.20" width="3.21" height="35.40" fill="#ffff99"/><rect x="332.22" y="350.30" width="3.21" height="34.46" fill="#a6cee3"/><rect x="332.22" y="384.76" width="3.21" height="1.44" fill="#3570a8"/><rect x="332.22" y="389.60" width="3.21" height="35.40" fill="#a6cee3"/><rect x="332.22" y="389.60" width="3.21" height="35.40" fill="#1f78b4"/><rect x="332.22" y="428.20" width="3.21" height="35.40" fill="#ffff99"/><rect x="335.43" y="350.30" width="3.21" height="34.46" fill="#a6cee3"/><rect x="335.43" y="384.76" width="3.21" height="1.44" fill="#3570a8"/><rect x="335.43" y="389.60" width="3.21" height="35.40" fill="#a6cee3"/><rect x="335.43" y="389.60" width="3.21" height="35.40" fill="#1f78b4"/><rect x="335.43" y="428.20" width="3.21" height="35.40" fill="#ffff99"/><rect x="338.64" y="350.30" width="3.21" height="25.49" fill="#a6cee3"/><rect x="338.64" y="375.79" width="3.21" height="10.41" fill="#3570a8"/><rect x="338.64" y="389.60" width="3.21" height="35.40" fill="#a6cee3"/><rect x="338.64" y="405.88" width="3.21" height="8.85" fill="#1f78b4"/><rect x="338.64" y="414.73" width="3.21" height="10.27" fill="#b2df8a"/><rect x="338.64" y="428.20" width="3.21" height="3.54" fill="#1f78b4"/><rect x="338.64" y="431.74" width="3.21" height="1.77" fill="#a6cee3"/><rect x="338.64" y="433.51" width="3.21" height="2.12" fill="#b2df8a"/><rect x="338.64" y="435.63" width="3.21" height="3.54" fill="#ffff99"/><rect x="338.64" y="439.17" width="3.21" height="4.25" fill="#0a0acc"/><rect x="338.64" y="443.42" width="3.21" height="15.93" fill="#cab2d6"/><rect x="338.64" y="459.35" width="3.21" height="4.25" fill="#6a3d9a"/><rect x="341.84" y="350.30" width="3.21" height="30.51" fill="#a6cee3"/><rect x="341.84" y="380.81" width="3.21" height="5.38" fill="#3570a8"/><rect x="341.84" y="389.60" width="3.21" height="35.40" fill="#a6cee3"/><rect x="341.84" y="409.42" width="3.21" height="8.85" fill="#1f78b4"/><rect x="341.84" y="418.27" width="3.21" height="6.73" fill="#b2df8a"/><rect x="341.84" y="428.20" width="3.21" height="4.25" fill="#1f78b4"/><rect x="341.84" y="432.45" width="3.21" height="1.42" fill="#cab2d6"/><rect x="341.84" y="433.86" width="3.21" height="5.66" fill="#b2df8a"/><rect x="341.84" y="439.53" width="3.21" height="1.77" fill="#0a0acc"/><rect x="341.84" y="441.30" width="3.21" height="1.42" fill="#ff7f00"/><rect x="341.84" y="442.71" width="3.21" height="19.47" fill="#cab2d6"/><rect x="341.84" y="462.18" width="3.21" height="1.42" fill="#6a3d9a"/><rect x="345.05" y="350.30" width="3.21" height="33.03" fill="#a6cee3"/><rect x="345.05" y="383.33" width="3.21" height="2.87" fill="#3570a8"/><rect x="345.05" y="389.60" width="3.21" height="35.40" fill="#a6cee3"/><rect x="345.05" y="408.72" width="3.21" height="13.10" fill="#1f78b4"/><rect x="345.05" y="421.81" width="3.21" height="3.19" fill="#b2df8a"/><rect x="345.05" y="428.20" width="3.21" height="2.83" fill="#a6cee3"/><rect x="345.05" y="431.03" width="3.21" height="9.20" fill="#fdbf6f"/><rect x="345.05" y="440.24" width="3.21" height="2.12" fill="#ffff99"/><rect x="345.05" y="442.36" width="3.21" height="17.70" fill="#cab2d6"/><rect x="345.05" y="460.06" width="3.21" height="3.54" fill="#ffff99"/><rect x="348.26" y="350.30" width="3.21" height="32.31" fill="#a6cee3"/><rect x="348.26" y="382.61" width="3.21" height="3.59" fill="#3570a8"/><rect x="348.26" y="389.60" width="3.21" height="35.40" fill="#a6cee3"/><rect x="348.26" y="411.19" width="3.21" height="9.91" fill="#1f78b4"/><rect x="348.26" y="421.11" width="3.21" height="3.89" fill="#b2df8a"/><rect x="348.26" y="428.20" width="3.21" height="0.71" fill="#ffff99"/><rect x="348.26" y="428.91" width="3.21" height="4.60" fill="#b2df8a"/><rect x="348.26" y="433.51" width="3.21" height="3.54" fill="#fdbf6f"/><rect x="348.26" y="437.05" width="3.21" height="23.01" fill="#cab2d6"/><rect x="348.26" y="460.06" width="3.21" height="3.54" fill="#ffff99"/><rect x="351.46" y="350.30" width="3.21" height="35.18" fill="#a6cee3"/><rect x="351.46" y="385.48" width="3.21" height="0.72" fill="#3570a8"/><rect x="351.46" y="389.60" width="3.21" height="35.40" fill="#a6cee3"/><rect x="351.46" y="411.55" width="3.21" height="12.74" fill="#1f78b4"/><rect x="351.46" y="424.29" width="3.21" height="0.71" fill="#b2df8a"/><rect x="351.46" y="428.20" width="3.21" height="1.77" fill="#a6cee3"/><rect x="351.46" y="429.97" width="3.21" height="2.12" fill="#ffff99"/><rect x="351.46" y="432.09" width="3.21" height="4.96" fill="#ff7f00"/><rect x="351.46" y="437.05" width="3.21" height="23.01" fill="#cab2d6"/><rect x="351.46" y="460.06" width="3.21" height="3.54" fill="#ffff99"/><rect x="354.67" y="350.30" width="3.21" height="33.39" fill="#a6cee3"/><rect x="354.67" y="383.69" width="3.21" height="2.51" fill="#3570a8"/><rect x="354.67" y="389.60" width="3.21" height="35.40" fill="#a6cee3"/><rect x="354.67" y="412.61" width="3.21" height="10.27" fill="#1f78b4"/><rect x="354.67" y="422.88" width="3.21" height="2.12" fill="#b2df8a"/><rect x="354.67" y="428.20" width="3.21" height="35.40" fill="#cab2d6"/><rect x="357.87" y="350.30" width="3.21" height="33.39" fill="#a6cee3"/><rect x="357.87" y="383.69" width="3.21" height="2.51" fill="#3570a8"/><rect x="357.87" y="389.60" width="3.21" height="35.40" fill="#a6cee3"/><rect x="357.87" y="412.61" width="3.21" height="10.27" fill="#1f78b4"/><rect x="357.87" y="422.88" width="3.21" height="2.12" fill="#b2df8a"/><rect x="357.87" y="428.20" width="3.21" height="35.40" fill="#cab2d6"/><rect x="361.08" y="350.30" width="3.21" height="35.90" fill="#a6cee3"/><rect x="361.08" y="389.60" width="3.21" height="35.40" fill="#a6cee3"/><rect x="361.08" y="414.03" width="3.21" height="10.97" fill="#1f78b4"/><rect x="361.08" y="428.20" width="3.21" height="35.40" fill="#cab2d6"/><rect x="364.29" y="350.30" width="3.21" height="35.90" fill="#a6cee3"/><rect x="364.29" y="389.60" width="3.21" height="35.40" fill="#a6cee3"/><rect x="364.29" y="414.03" width="3.21" height="10.97" fill="#1f78b4"/><rect x="364.29" y="428.20" width="3.21" height="35.40" fill="#cab2d6"/><rect x="367.49" y="350.30" width="3.21" height="34.46" fill="#a6cee3"/><rect x="367.49" y="384.76" width="3.21" height="1.44" fill="#3570a8"/><rect x="367.49" y="389.60" width="3.21" height="35.40" fill="#a6cee3"/><rect x="367.49" y="414.03" width="3.21" height="10.97" fill="#1f78b4"/><rect x="367.49" y="428.20" width="3.21" height="4.25" fill="#a6cee3"/><rect x="367.49" y="432.45" width="3.21" height="1.77" fill="#b2df8a"/><rect x="367.49" y="434.22" width="3.21" height="29.38" fill="#cab2d6"/><rect x="370.70" y="350.30" width="3.21" height="35.90" fill="#a6cee3"/><rect x="370.70" y="389.60" width="3.21" height="35.40" fill="#a6cee3"/><rect x="370.70" y="414.03" width="3.21" height="9.56" fill="#1f78b4"/><rect x="370.70" y="423.58" width="3.21" height="1.42" fill="#b2df8a"/><rect x="370.70" y="428.20" width="3.21" height="35.40" fill="#cab2d6"/><rect x="373.91" y="350.30" width="3.21" height="35.90" fill="#a6cee3"/><rect x="373.91" y="389.60" width="3.21" height="35.40" fill="#a6cee3"/><rect x="373.91" y="421.46" width="3.21" height="1.77" fill="#1f78b4"/><rect x="373.91" y="423.23" width="3.21" height="1.77" fill="#b2df8a"/><rect x="373.91" y="428.20" width="3.21" height="16.99" fill="#b2df8a"/><rect x="373.91" y="445.19" width="3.21" height="18.41" fill="#cab2d6"/><rect x="377.11" y="350.30" width="3.21" height="35.90" fill="#a6cee3"/><rect x="377.11" y="389.60" width="3.21" height="35.40" fill="#a6cee3"/><rect x="377.11" y="414.73" width="3.21" height="8.50" fill="#1f78b4"/><rect x="377.11" y="423.23" width="3.21" height="1.77" fill="#b2df8a"/><rect x="377.11" y="428.20" width="3.21" height="35.40" fill="#cab2d6"/><rect x="380.32" y="350.30" width="3.21" height="30.51" fill="#a6cee3"/><rect x="380.32" y="380.81" width="3.21" height="5.38" fill="#3570a8"/><rect x="380.32" y="389.60" width="3.21" height="35.40" fill="#a6cee3"/><rect x="380.32" y="410.84" width="3.21" height="9.20" fill="#1f78b4"/><rect x="380.32" y="420.04" width="3.21" height="4.96" fill="#b2df8a"/><rect x="380.32" y="428.20" width="3.21" height="6.37" fill="#0a0acc"/><rect x="380.32" y="434.57" width="3.21" height="26.20" fill="#cab2d6"/><rect x="380.32" y="460.77" width="3.21" height="2.83" fill="#6a3d9a"/><rect x="383.52" y="350.30" width="3.21" height="30.51" fill="#a6cee3"/><rect x="383.52" y="380.81" width="3.21" height="5.38" fill="#3570a8"/><rect x="383.52" y="389.60" width="3.21" height="35.40" fill="#a6cee3"/><rect x="383.52" y="410.84" width="3.21" height="9.20" fill="#1f78b4"/><rect x="383.52" y="420.04" width="3.21" height="4.96" fill="#b2df8a"/><rect x="383.52" y="428.20" width="3.21" height="6.37" fill="#0a0acc"/><rect x="383.52" y="434.57" width="3.21" height="26.20" fill="#cab2d6"/><rect x="383.52" y="460.77" width="3.21" height="2.83" fill="#6a3d9a"/><rect x="386.73" y="350.30" width="3.21" height="30.51" fill="#a6cee3"/><rect x="386.73" y="380.81" width="3.21" height="5.38" fill="#3570a8"/><rect x="386.73" y="389.60" width="3.21" height="35.40" fill="#a6cee3"/><rect x="386.73" y="417.92" width="3.21" height="1.06" fill="#1f78b4"/><rect x="386.73" y="418.98" width="3.21" height="6.02" fill="#b2df8a"/><rect x="386.73" y="428.20" width="3.21" height="14.87" fill="#fb9a99"/><rect x="386.73" y="443.07" width="3.21" height="20.53" fill="#cab2d6"/><rect x="389.94" y="350.30" width="3.21" height="30.51" fill="#a6cee3"/><rect x="389.94" y="380.81" width="3.21" height="5.38" fill="#3570a8"/><rect x="389.94" y="389.60" width="3.21" height="35.40" fill="#a6cee3"/><rect x="389.94" y="417.92" width="3.21" height="1.06" fill="#1f78b4"/><rect x="389.94" y="418.98" width="3.21" height="6.02" fill="#b2df8a"/><rect x="389.94" y="428.20" width="3.21" height="16.64" fill="#fb9a99"/><rect x="389.94" y="444.84" width="3.21" height="18.76" fill="#cab2d6"/><rect x="393.14" y="350.30" width="3.21" height="35.90" fill="#a6cee3"/><rect x="393.14" y="389.60" width="3.21" height="35.40" fill="#a6cee3"/><rect x="393.14" y="418.63" width="3.21" height="6.37" fill="#1f78b4"/><rect x="393.14" y="428.20" width="3.21" height="19.47" fill="#a6cee3"/><rect x="393.14" y="447.67" width="3.21" height="1.77" fill="#ff7f00"/><rect x="393.14" y="449.44" width="3.21" height="14.16" fill="#cab2d6"/><rect x="396.35" y="350.30" width="3.21" height="35.90" fill="#a6cee3"/><rect x="396.35" y="389.60" width="3.21" height="35.40" fill="#a6cee3"/><rect x="396.35" y="423.23" width="3.21" height="1.77" fill="#1f78b4"/><rect x="396.35" y="428.20" width="3.21" height="23.01" fill="#a6cee3"/><rect x="396.35" y="451.21" width="3.21" height="2.12" fill="#b2df8a"/><rect x="396.35" y="453.33" width="3.21" height="10.27" fill="#cab2d6"/><rect x="399.56" y="350.30" width="3.21" height="35.90" fill="#a6cee3"/><rect x="399.56" y="389.60" width="3.21" height="35.40" fill="#a6cee3"/><rect x="399.56" y="421.46" width="3.21" height="3.54" fill="#1f78b4"/><rect x="399.56" y="428.20" width="3.21" height="21.24" fill="#a6cee3"/><rect x="399.56" y="449.44" width="3.21" height="3.54" fill="#b2df8a"/><rect x="399.56" y="452.98" width="3.21" height="8.85" fill="#cab2d6"/><rect x="399.56" y="461.83" width="3.21" height="1.77" fill="#ffff99"/><rect x="402.76" y="350.30" width="3.21" height="35.18" fill="#a6cee3"/><rect x="402.76" y="385.48" width="3.21" height="0.72" fill="#3570a8"/><rect x="402.76" y="389.60" width="3.21" height="35.40" fill="#a6cee3"/><rect x="402.76" y="421.46" width="3.21" height="3.54" fill="#1f78b4"/><rect x="402.76" y="428.20" width="3.21" height="21.24" fill="#a6cee3"/><rect x="402.76" y="449.44" width="3.21" height="3.54" fill="#b2df8a"/><rect x="402.76" y="452.98" width="3.21" height="8.85" fill="#cab2d6"/><rect x="402.76" y="461.83" width="3.21" height="1.77" fill="#ffff99"/><rect x="405.97" y="350.30" width="3.21" height="35.90" fill="#a6cee3"/><rect x="405.97" y="389.60" width="3.21" height="35.40" fill="#a6cee3"/><rect x="405.97" y="423.94" width="3.21" height="1.06" fill="#b2df8a"/><rect x="405.97" y="428.20" width="3.21" height="35.40" fill="#a6cee3"/><rect x="409.17" y="350.30" width="3.21" height="35.18" fill="#a6cee3"/><rect x="409.17" y="385.48" width="3.21" height="0.72" fill="#3570a8"/><rect x="409.17" y="389.60" width="3.21" height="35.40" fill="#a6cee3"/><rect x="409.17" y="423.94" width="3.21" height="1.06" fill="#b2df8a"/><rect x="409.17" y="428.20" width="3.21" height="35.40" fill="#a6cee3"/><rect x="412.38" y="350.30" width="3.21" height="35.90" fill="#a6cee3"/><rect x="412.38" y="389.60" width="3.21" height="35.40" fill="#a6cee3"/><rect x="412.38" y="423.94" width="3.21" height="1.06" fill="#b2df8a"/><rect x="412.38" y="428.20" width="3.21" height="35.40" fill="#a6cee3"/><rect x="415.59" y="350.30" width="3.21" height="35.90" fill="#a6cee3"/><rect x="415.59" y="389.60" width="3.21" height="35.40" fill="#a6cee3"/><rect x="415.59" y="423.94" width="3.21" height="1.06" fill="#b2df8a"/><rect x="415.59" y="428.20" width="3.21" height="35.40" fill="#a6cee3"/><rect x="418.79" y="350.30" width="3.21" height="35.90" fill="#a6cee3"/><rect x="418.79" y="389.60" width="3.21" height="35.40" fill="#a6cee3"/><rect x="418.79" y="423.94" width="3.21" height="1.06" fill="#b2df8a"/><rect x="418.79" y="428.20" width="3.21" height="35.40" fill="#a6cee3"/><rect x="422.00" y="350.30" width="3.21" height="34.82" fill="#a6cee3"/><rect x="422.00" y="385.12" width="3.21" height="1.08" fill="#3570a8"/><rect x="422.00" y="389.60" width="3.21" height="35.40" fill="#a6cee3"/><rect x="422.00" y="421.11" width="3.21" height="2.12" fill="#1f78b4"/><rect x="422.00" y="423.23" width="3.21" height="1.77" fill="#b2df8a"/><rect x="422.00" y="428.20" width="3.21" height="21.24" fill="#a6cee3"/><rect x="422.00" y="449.44" width="3.21" height="1.06" fill="#1f78b4"/><rect x="422.00" y="450.50" width="3.21" height="2.83" fill="#b2df8a"/><rect x="422.00" y="453.33" width="3.21" height="1.06" fill="#a6cee3"/><rect x="422.00" y="454.40" width="3.21" height="4.25" fill="#fb9a99"/><rect x="422.00" y="458.64" width="3.21" height="0.71" fill="#a6cee3"/><rect x="422.00" y="459.35" width="3.21" height="4.25" fill="#ff7f00"/><rect x="425.21" y="350.30" width="3.21" height="35.90" fill="#a6cee3"/><rect x="425.21" y="389.60" width="3.21" height="35.40" fill="#a6cee3"/><rect x="425.21" y="428.20" width="3.21" height="35.40" fill="#a6cee3"/><rect x="428.41" y="350.30" width="3.21" height="35.90" fill="#a6cee3"/><rect x="428.41" y="389.60" width="3.21" height="35.40" fill="#a6cee3"/><rect x="428.41" y="428.20" width="3.21" height="35.40" fill="#a6cee3"/><rect x="431.62" y="350.30" width="3.21" height="35.90" fill="#a6cee3"/><rect x="431.62" y="389.60" width="3.21" height="35.40" fill="#a6cee3"/><rect x="431.62" y="428.20" width="3.21" height="35.40" fill="#a6cee3"/><rect x="434.83" y="350.30" width="3.21" height="35.90" fill="#a6cee3"/><rect x="434.83" y="389.60" width="3.21" height="35.40" fill="#a6cee3"/><rect x="434.83" y="428.20" width="3.21" height="35.40" fill="#a6cee3"/><rect x="438.03" y="350.30" width="3.21" height="35.90" fill="#a6cee3"/><rect x="438.03" y="389.60" width="3.21" height="35.40" fill="#a6cee3"/><rect x="438.03" y="428.20" width="3.21" height="35.40" fill="#a6cee3"/><rect x="441.24" y="350.30" width="3.21" height="35.90" fill="#a6cee3"/><rect x="441.24" y="389.60" width="3.21" height="35.40" fill="#a6cee3"/><rect x="441.24" y="428.20" width="3.21" height="35.40" fill="#a6cee3"/><rect x="444.44" y="350.30" width="3.21" height="35.90" fill="#a6cee3"/><rect x="444.44" y="389.60" width="3.21" height="35.40" fill="#a6cee3"/><rect x="444.44" y="428.20" width="3.21" height="35.40" fill="#a6cee3"/><rect x="447.65" y="350.30" width="3.21" height="35.90" fill="#a6cee3"/><rect x="447.65" y="389.60" width="3.21" height="35.40" fill="#a6cee3"/><rect x="447.65" y="428.20" width="3.21" height="35.40" fill="#a6cee3"/><rect x="450.86" y="350.30" width="3.21" height="35.90" fill="#a6cee3"/><rect x="450.86" y="389.60" width="3.21" height="35.40" fill="#a6cee3"/><rect x="450.86" y="428.20" width="3.21" height="35.40" fill="#a6cee3"/><rect x="454.06" y="350.30" width="3.21" height="35.90" fill="#a6cee3"/><rect x="454.06" y="389.60" width="3.21" height="35.40" fill="#a6cee3"/><rect x="454.06" y="428.20" width="3.21" height="35.40" fill="#a6cee3"/><rect x="457.27" y="350.30" width="3.21" height="28.72" fill="#a6cee3"/><rect x="457.27" y="379.02" width="3.21" height="7.18" fill="#3570a8"/><rect x="457.27" y="389.60" width="3.21" height="35.40" fill="#a6cee3"/><rect x="457.27" y="414.38" width="3.21" height="1.06" fill="#1f78b4"/><rect x="457.27" y="415.44" width="3.21" height="9.56" fill="#b2df8a"/><rect x="457.27" y="428.20" width="3.21" height="1.42" fill="#1f78b4"/><rect x="457.27" y="429.62" width="3.21" height="8.85" fill="#b2df8a"/><rect x="457.27" y="438.47" width="3.21" height="1.06" fill="#fcfcf0"/><rect x="457.27" y="439.53" width="3.21" height="13.45" fill="#fb9a99"/><rect x="457.27" y="452.98" width="3.21" height="3.54" fill="#fcfcf0"/><rect x="457.27" y="456.52" width="3.21" height="5.66" fill="#cab2d6"/><rect x="457.27" y="462.18" width="3.21" height="1.42" fill="#fcfcf0"/><rect x="460.48" y="350.30" width="3.21" height="28.72" fill="#a6cee3"/><rect x="460.48" y="379.02" width="3.21" height="7.18" fill="#3570a8"/><rect x="460.48" y="389.60" width="3.21" height="35.40" fill="#a6cee3"/><rect x="460.48" y="414.38" width="3.21" height="1.06" fill="#1f78b4"/><rect x="460.48" y="415.44" width="3.21" height="9.56" fill="#b2df8a"/><rect x="460.48" y="428.20" width="3.21" height="1.42" fill="#1f78b4"/><rect x="460.48" y="429.62" width="3.21" height="8.85" fill="#b2df8a"/><rect x="460.48" y="438.47" width="3.21" height="1.06" fill="#fcfcf0"/><rect x="460.48" y="439.53" width="3.21" height="13.45" fill="#fb9a99"/><rect x="460.48" y="452.98" width="3.21" height="3.54" fill="#fcfcf0"/><rect x="460.48" y="456.52" width="3.21" height="5.66" fill="#cab2d6"/><rect x="460.48" y="462.18" width="3.21" height="1.42" fill="#fcfcf0"/><rect x="463.68" y="350.30" width="3.21" height="24.77" fill="#a6cee3"/><rect x="463.68" y="375.07" width="3.21" height="11.13" fill="#3570a8"/><rect x="463.68" y="389.60" width="3.21" height="35.40" fill="#a6cee3"/><rect x="463.68" y="412.61" width="3.21" height="12.39" fill="#b2df8a"/><rect x="463.68" y="428.20" width="3.21" height="35.40" fill="#fb9a99"/><rect x="466.89" y="350.30" width="3.21" height="24.77" fill="#a6cee3"/><rect x="466.89" y="375.07" width="3.21" height="11.13" fill="#3570a8"/><rect x="466.89" y="389.60" width="3.21" height="35.40" fill="#a6cee3"/><rect x="466.89" y="412.61" width="3.21" height="12.39" fill="#b2df8a"/><rect x="466.89" y="428.20" width="3.21" height="35.40" fill="#fb9a99"/><rect x="470.09" y="350.30" width="3.21" height="24.77" fill="#a6cee3"/><rect x="470.09" y="375.07" width="3.21" height="11.13" fill="#3570a8"/><rect x="470.09" y="389.60" width="3.21" height="35.40" fill="#a6cee3"/><rect x="470.09" y="412.61" width="3.21" height="12.39" fill="#b2df8a"/><rect x="470.09" y="428.20" width="3.21" height="35.40" fill="#fb9a99"/><rect x="473.30" y="350.30" width="3.21" height="24.77" fill="#a6cee3"/><rect x="473.30" y="375.07" width="3.21" height="11.13" fill="#3570a8"/><rect x="473.30" y="389.60" width="3.21" height="35.40" fill="#a6cee3"/><rect x="473.30" y="412.61" width="3.21" height="12.39" fill="#b2df8a"/><rect x="473.30" y="428.20" width="3.21" height="35.40" fill="#fb9a99"/><rect x="476.51" y="350.30" width="3.21" height="24.77" fill="#a6cee3"/><rect x="476.51" y="375.07" width="3.21" height="11.13" fill="#3570a8"/><rect x="476.51" y="389.60" width="3.21" height="35.40" fill="#a6cee3"/><rect x="476.51" y="412.61" width="3.21" height="12.39" fill="#b2df8a"/><rect x="476.51" y="428.20" width="3.21" height="35.40" fill="#fb9a99"/><rect x="479.71" y="350.30" width="3.21" height="24.77" fill="#a6cee3"/><rect x="479.71" y="375.07" width="3.21" height="11.13" fill="#3570a8"/><rect x="479.71" y="389.60" width="3.21" height="35.40" fill="#a6cee3"/><rect x="479.71" y="412.61" width="3.21" height="12.39" fill="#b2df8a"/><rect x="479.71" y="428.20" width="3.21" height="35.40" fill="#fb9a99"/><rect x="482.92" y="350.30" width="3.21" height="24.77" fill="#a6cee3"/><rect x="482.92" y="375.07" width="3.21" height="11.13" fill="#3570a8"/><rect x="482.92" y="389.60" width="3.21" height="35.40" fill="#a6cee3"/><rect x="482.92" y="412.61" width="3.21" height="12.39" fill="#b2df8a"/><rect x="482.92" y="428.20" width="3.21" height="35.40" fill="#fb9a99"/><rect x="486.13" y="350.30" width="3.21" height="24.77" fill="#a6cee3"/><rect x="486.13" y="375.07" width="3.21" height="11.13" fill="#3570a8"/><rect x="486.13" y="389.60" width="3.21" height="35.40" fill="#a6cee3"/><rect x="486.13" y="412.61" width="3.21" height="12.39" fill="#b2df8a"/><rect x="486.13" y="428.20" width="3.21" height="35.40" fill="#fb9a99"/><rect x="489.33" y="350.30" width="3.21" height="24.77" fill="#a6cee3"/><rect x="489.33" y="375.07" width="3.21" height="11.13" fill="#3570a8"/><rect x="489.33" y="389.60" width="3.21" height="35.40" fill="#a6cee3"/><rect x="489.33" y="412.61" width="3.21" height="12.39" fill="#b2df8a"/><rect x="489.33" y="428.20" width="3.21" height="35.40" fill="#fb9a99"/><rect x="492.54" y="350.30" width="3.21" height="24.77" fill="#a6cee3"/><rect x="492.54" y="375.07" width="3.21" height="11.13" fill="#3570a8"/><rect x="492.54" y="389.60" width="3.21" height="35.40" fill="#a6cee3"/><rect x="492.54" y="412.61" width="3.21" height="12.39" fill="#b2df8a"/><rect x="492.54" y="428.20" width="3.21" height="35.40" fill="#fb9a99"/><rect x="495.75" y="350.30" width="3.21" height="24.77" fill="#a6cee3"/><rect x="495.75" y="375.07" width="3.21" height="11.13" fill="#3570a8"/><rect x="495.75" y="389.60" width="3.21" height="35.40" fill="#a6cee3"/><rect x="495.75" y="412.61" width="3.21" height="12.39" fill="#b2df8a"/><rect x="495.75" y="428.20" width="3.21" height="35.40" fill="#fb9a99"/><rect x="498.95" y="350.30" width="3.21" height="24.77" fill="#a6cee3"/><rect x="498.95" y="375.07" width="3.21" height="11.13" fill="#3570a8"/><rect x="498.95" y="389.60" width="3.21" height="35.40" fill="#a6cee3"/><rect x="498.95" y="412.61" width="3.21" height="12.39" fill="#b2df8a"/><rect x="498.95" y="428.20" width="3.21" height="35.40" fill="#fb9a99"/><rect x="502.16" y="350.30" width="3.21" height="24.77" fill="#a6cee3"/><rect x="502.16" y="375.07" width="3.21" height="11.13" fill="#3570a8"/><rect x="502.16" y="389.60" width="3.21" height="35.40" fill="#a6cee3"/><rect x="502.16" y="412.61" width="3.21" height="12.39" fill="#b2df8a"/><rect x="502.16" y="428.20" width="3.21" height="35.40" fill="#fb9a99"/><rect x="505.36" y="350.30" width="3.21" height="24.77" fill="#a6cee3"/><rect x="505.36" y="375.07" width="3.21" height="11.13" fill="#3570a8"/><rect x="505.36" y="389.60" width="3.21" height="35.40" fill="#a6cee3"/><rect x="505.36" y="412.61" width="3.21" height="12.39" fill="#b2df8a"/><rect x="505.36" y="428.20" width="3.21" height="35.40" fill="#fb9a99"/><rect x="508.57" y="350.30" width="3.21" height="24.77" fill="#a6cee3"/><rect x="508.57" y="375.07" width="3.21" height="11.13" fill="#3570a8"/><rect x="508.57" y="389.60" width="3.21" height="35.40" fill="#a6cee3"/><rect x="508.57" y="412.61" width="3.21" height="12.39" fill="#b2df8a"/><rect x="508.57" y="428.20" width="3.21" height="35.40" fill="#fb9a99"/><rect x="511.78" y="350.30" width="3.21" height="24.77" fill="#a6cee3"/><rect x="511.78" y="375.07" width="3.21" height="11.13" fill="#3570a8"/><rect x="511.78" y="389.60" width="3.21" height="35.40" fill="#a6cee3"/><rect x="511.78" y="412.61" width="3.21" height="12.39" fill="#b2df8a"/><rect x="511.78" y="428.20" width="3.21" height="35.40" fill="#fb9a99"/><rect x="514.98" y="350.30" width="3.21" height="24.77" fill="#a6cee3"/><rect x="514.98" y="375.07" width="3.21" height="11.13" fill="#3570a8"/><rect x="514.98" y="389.60" width="3.21" height="35.40" fill="#a6cee3"/><rect x="514.98" y="412.61" width="3.21" height="12.39" fill="#b2df8a"/><rect x="514.98" y="428.20" width="3.21" height="35.40" fill="#fb9a99"/><rect x="518.19" y="350.30" width="3.21" height="24.77" fill="#a6cee3"/><rect x="518.19" y="375.07" width="3.21" height="11.13" fill="#3570a8"/><rect x="518.19" y="389.60" width="3.21" height="35.40" fill="#a6cee3"/><rect x="518.19" y="412.61" width="3.21" height="12.39" fill="#b2df8a"/><rect x="518.19" y="428.20" width="3.21" height="35.40" fill="#fb9a99"/><rect x="521.40" y="350.30" width="3.21" height="24.77" fill="#a6cee3"/><rect x="521.40" y="375.07" width="3.21" height="11.13" fill="#3570a8"/><rect x="521.40" y="389.60" width="3.21" height="35.40" fill="#a6cee3"/><rect x="521.40" y="412.61" width="3.21" height="12.39" fill="#b2df8a"/><rect x="521.40" y="428.20" width="3.21" height="35.40" fill="#fb9a99"/><rect x="524.60" y="350.30" width="3.21" height="24.77" fill="#a6cee3"/><rect x="524.60" y="375.07" width="3.21" height="11.13" fill="#3570a8"/><rect x="524.60" y="389.60" width="3.21" height="35.40" fill="#a6cee3"/><rect x="524.60" y="412.61" width="3.21" height="12.39" fill="#b2df8a"/><rect x="524.60" y="428.20" width="3.21" height="35.40" fill="#fb9a99"/><rect x="527.81" y="350.30" width="3.21" height="24.77" fill="#a6cee3"/><rect x="527.81" y="375.07" width="3.21" height="11.13" fill="#3570a8"/><rect x="527.81" y="389.60" width="3.21" height="35.40" fill="#a6cee3"/><rect x="527.81" y="412.61" width="3.21" height="12.39" fill="#b2df8a"/><rect x="527.81" y="428.20" width="3.21" height="35.40" fill="#fb9a99"/><rect x="531.01" y="350.30" width="3.21" height="24.77" fill="#a6cee3"/><rect x="531.01" y="375.07" width="3.21" height="11.13" fill="#3570a8"/><rect x="531.01" y="389.60" width="3.21" height="35.40" fill="#a6cee3"/><rect x="531.01" y="412.61" width="3.21" height="12.39" fill="#b2df8a"/><rect x="531.01" y="428.20" width="3.21" height="35.40" fill="#fb9a99"/><rect x="534.22" y="350.30" width="3.21" height="24.77" fill="#a6cee3"/><rect x="534.22" y="375.07" width="3.21" height="11.13" fill="#3570a8"/><rect x="534.22" y="389.60" width="3.21" height="35.40" fill="#a6cee3"/><rect x="534.22" y="412.61" width="3.21" height="12.39" fill="#b2df8a"/><rect x="534.22" y="428.20" width="3.21" height="35.40" fill="#fb9a99"/><rect x="537.43" y="350.30" width="3.21" height="24.77" fill="#a6cee3"/><rect x="537.43" y="375.07" width="3.21" height="11.13" fill="#3570a8"/><rect x="537.43" y="389.60" width="3.21" height="35.40" fill="#a6cee3"/><rect x="537.43" y="412.61" width="3.21" height="12.39" fill="#b2df8a"/><rect x="537.43" y="428.20" width="3.21" height="35.40" fill="#fb9a99"/><rect x="540.63" y="350.30" width="3.21" height="35.90" fill="#a6cee3"/><rect x="540.63" y="389.60" width="3.21" height="35.40" fill="#a6cee3"/><rect x="540.63" y="420.75" width="3.21" height="4.25" fill="#1f78b4"/><rect x="540.63" y="428.20" width="3.21" height="21.24" fill="#b2df8a"/><rect x="540.63" y="449.44" width="3.21" height="14.16" fill="#cab2d6"/><rect x="543.84" y="350.30" width="3.21" height="35.90" fill="#a6cee3"/><rect x="543.84" y="389.60" width="3.21" height="35.40" fill="#a6cee3"/><rect x="543.84" y="428.20" width="3.21" height="35.40" fill="#b2df8a"/><rect x="547.05" y="350.30" width="3.21" height="35.90" fill="#a6cee3"/><rect x="547.05" y="389.60" width="3.21" height="35.40" fill="#a6cee3"/><rect x="547.05" y="428.20" width="3.21" height="35.40" fill="#b2df8a"/><rect x="550.25" y="350.30" width="3.21" height="35.90" fill="#a6cee3"/><rect x="550.25" y="389.60" width="3.21" height="35.40" fill="#a6cee3"/><rect x="550.25" y="428.20" width="3.21" height="35.40" fill="#b2df8a"/><rect x="553.46" y="350.30" width="3.21" height="35.90" fill="#a6cee3"/><rect x="553.46" y="389.60" width="3.21" height="35.40" fill="#a6cee3"/><rect x="553.46" y="428.20" width="3.21" height="35.40" fill="#b2df8a"/><rect x="556.66" y="350.30" width="3.21" height="35.90" fill="#a6cee3"/><rect x="556.66" y="389.60" width="3.21" height="35.40" fill="#a6cee3"/><rect x="556.66" y="428.20" width="3.21" height="35.40" fill="#b2df8a"/><rect x="559.87" y="350.30" width="3.21" height="35.90" fill="#a6cee3"/><rect x="559.87" y="389.60" width="3.21" height="35.40" fill="#a6cee3"/><rect x="559.87" y="428.20" width="3.21" height="35.40" fill="#b2df8a"/><rect x="563.08" y="350.30" width="3.21" height="32.31" fill="#a6cee3"/><rect x="563.08" y="382.61" width="3.21" height="3.59" fill="#3570a8"/><rect x="563.08" y="389.60" width="3.21" height="35.40" fill="#a6cee3"/><rect x="563.08" y="420.75" width="3.21" height="4.25" fill="#b2df8a"/><rect x="563.08" y="428.20" width="3.21" height="27.97" fill="#b2df8a"/><rect x="563.08" y="456.17" width="3.21" height="7.43" fill="#fb9a99"/><rect x="566.28" y="350.30" width="3.21" height="35.90" fill="#a6cee3"/><rect x="566.28" y="389.60" width="3.21" height="35.40" fill="#a6cee3"/><rect x="566.28" y="428.20" width="3.21" height="35.40" fill="#b2df8a"/><rect x="569.49" y="350.30" width="3.21" height="35.90" fill="#a6cee3"/><rect x="569.49" y="389.60" width="3.21" height="35.40" fill="#a6cee3"/><rect x="569.49" y="428.20" width="3.21" height="35.40" fill="#b2df8a"/><rect x="572.70" y="350.30" width="3.21" height="35.90" fill="#a6cee3"/><rect x="572.70" y="389.60" width="3.21" height="35.40" fill="#a6cee3"/><rect x="572.70" y="428.20" width="3.21" height="35.40" fill="#b2df8a"/><rect x="575.90" y="350.30" width="3.21" height="35.90" fill="#a6cee3"/><rect x="575.90" y="389.60" width="3.21" height="35.40" fill="#a6cee3"/><rect x="575.90" y="428.20" width="3.21" height="35.40" fill="#b2df8a"/><rect x="579.11" y="350.30" width="3.21" height="35.90" fill="#a6cee3"/><rect x="579.11" y="389.60" width="3.21" height="35.40" fill="#a6cee3"/><rect x="579.11" y="428.20" width="3.21" height="35.40" fill="#b2df8a"/><rect x="582.32" y="350.30" width="3.21" height="35.90" fill="#a6cee3"/><rect x="582.32" y="389.60" width="3.21" height="35.40" fill="#a6cee3"/><rect x="582.32" y="428.20" width="3.21" height="35.40" fill="#b2df8a"/><rect x="585.52" y="350.30" width="3.21" height="35.90" fill="#a6cee3"/><rect x="585.52" y="389.60" width="3.21" height="35.40" fill="#a6cee3"/><rect x="585.52" y="428.20" width="3.21" height="35.40" fill="#b2df8a"/><rect x="588.73" y="350.30" width="3.21" height="35.90" fill="#a6cee3"/><rect x="588.73" y="389.60" width="3.21" height="35.40" fill="#a6cee3"/><rect x="588.73" y="428.20" width="3.21" height="35.40" fill="#b2df8a"/><rect x="591.93" y="350.30" width="3.21" height="35.90" fill="#a6cee3"/><rect x="591.93" y="389.60" width="3.21" height="35.40" fill="#a6cee3"/><rect x="591.93" y="428.20" width="3.21" height="35.40" fill="#b2df8a"/><rect x="595.14" y="350.30" width="3.21" height="35.90" fill="#a6cee3"/><rect x="595.14" y="389.60" width="3.21" height="35.40" fill="#a6cee3"/><rect x="595.14" y="428.20" width="3.21" height="35.40" fill="#b2df8a"/><rect x="598.35" y="350.30" width="3.21" height="35.90" fill="#a6cee3"/><rect x="598.35" y="389.60" width="3.21" height="35.40" fill="#a6cee3"/><rect x="598.35" y="428.20" width="3.21" height="35.40" fill="#b2df8a"/><rect x="601.55" y="350.30" width="3.21" height="35.90" fill="#a6cee3"/><rect x="601.55" y="389.60" width="3.21" height="35.40" fill="#a6cee3"/><rect x="601.55" y="428.20" width="3.21" height="35.40" fill="#b2df8a"/><rect x="604.76" y="350.30" width="3.21" height="35.90" fill="#a6cee3"/><rect x="604.76" y="389.60" width="3.21" height="35.40" fill="#a6cee3"/><rect x="604.76" y="428.20" width="3.21" height="35.40" fill="#b2df8a"/><rect x="607.97" y="350.30" width="3.21" height="35.90" fill="#a6cee3"/><rect x="607.97" y="389.60" width="3.21" height="35.40" fill="#a6cee3"/><rect x="607.97" y="428.20" width="3.21" height="35.40" fill="#b2df8a"/><rect x="611.17" y="350.30" width="3.21" height="35.90" fill="#a6cee3"/><rect x="611.17" y="389.60" width="3.21" height="35.40" fill="#a6cee3"/><rect x="611.17" y="428.20" width="3.21" height="35.40" fill="#b2df8a"/><rect x="614.38" y="350.30" width="3.21" height="35.90" fill="#a6cee3"/><rect x="614.38" y="389.60" width="3.21" height="35.40" fill="#a6cee3"/><rect x="614.38" y="428.20" width="3.21" height="35.40" fill="#b2df8a"/><rect x="617.58" y="350.30" width="3.21" height="35.90" fill="#a6cee3"/><rect x="617.58" y="389.60" width="3.21" height="35.40" fill="#a6cee3"/><rect x="617.58" y="428.20" width="3.21" height="35.40" fill="#b2df8a"/><rect x="620.79" y="350.30" width="3.21" height="35.90" fill="#a6cee3"/><rect x="620.79" y="389.60" width="3.21" height="35.40" fill="#a6cee3"/><rect x="620.79" y="428.20" width="3.21" height="35.40" fill="#b2df8a"/><rect x="624.00" y="350.30" width="3.21" height="35.90" fill="#a6cee3"/><rect x="624.00" y="389.60" width="3.21" height="35.40" fill="#a6cee3"/><rect x="624.00" y="428.20" width="3.21" height="35.40" fill="#b2df8a"/><path d="M139.85 370.76h3.21 M139.85 410.84h3.21 M139.85 393.14h3.21 M139.85 429.62h3.21 M139.85 436.70h3.21 M139.85 449.09h3.21 M143.05 368.25h3.21 M143.05 407.65h3.21 M143.05 400.57h3.21 M143.05 429.62h3.21 M143.05 434.93h3.21 M143.05 441.65h3.21 M143.05 445.19h3.21 M143.05 449.44h3.21 M146.26 368.25h3.21 M146.26 407.65h3.21 M146.26 400.57h3.21 M146.26 429.62h3.21 M146.26 434.93h3.21 M146.26 441.65h3.21 M146.26 445.19h3.21 M146.26 449.44h3.21 M149.46 368.25h3.21 M149.46 408.36h3.21 M149.46 398.80h3.21 M149.46 432.80h3.21 M149.46 446.61h3.21 M149.46 459.35h3.21 M152.67 368.25h3.21 M152.67 408.36h3.21 M152.67 398.80h3.21 M152.67 432.80h3.21 M152.67 446.61h3.21 M152.67 459.35h3.21 M155.88 368.25h3.21 M155.88 408.36h3.21 M155.88 398.80h3.21 M155.88 432.80h3.21 M155.88 446.61h3.21 M155.88 459.35h3.21 M159.08 371.84h3.21 M159.08 410.84h3.21 M159.08 401.28h3.21 M159.08 434.93h3.21 M159.08 453.33h3.21 M162.29 368.25h3.21 M162.29 408.36h3.21 M162.29 395.97h3.21 M162.29 435.28h3.21 M165.50 368.25h3.21 M165.50 408.36h3.21 M165.50 397.03h3.21 M165.50 435.99h3.21 M168.70 375.79h3.21 M168.70 415.80h3.21 M168.70 400.57h3.21 M168.70 429.97h3.21 M168.70 431.74h3.21 M168.70 449.44h3.21 M168.70 457.23h3.21 M171.91 376.87h3.21 M171.91 416.86h3.21 M171.91 401.28h3.21 M175.12 376.87h3.21 M175.12 416.86h3.21 M175.12 401.28h3.21 M178.32 376.87h3.21 M178.32 416.86h3.21 M178.32 401.28h3.21 M181.53 376.87h3.21 M181.53 416.86h3.21 M181.53 401.28h3.21 M184.73 376.87h3.21 M184.73 416.86h3.21 M184.73 401.28h3.21 M187.94 382.97h3.21 M187.94 422.17h3.21 M187.94 406.24h3.21 M191.15 382.97h3.21 M191.15 422.17h3.21 M191.15 406.24h3.21 M194.35 382.97h3.21 M194.35 422.17h3.21 M194.35 406.24h3.21 M197.56 382.97h3.21 M197.56 422.17h3.21 M197.56 406.24h3.21 M200.77 382.97h3.21 M200.77 422.17h3.21 M200.77 406.24h3.21 M203.97 380.10h3.21 M203.97 419.69h3.21 M203.97 404.11h3.21 M207.18 380.10h3.21 M207.18 419.69h3.21 M207.18 404.11h3.21 M210.38 380.10h3.21 M210.38 419.69h3.21 M210.38 401.28h3.21 M213.59 380.10h3.21 M213.59 419.69h3.21 M213.59 401.28h3.21 M216.80 382.97h3.21 M216.80 422.88h3.21 M216.80 393.85h3.21 M216.80 443.07h3.21 M220.00 379.74h3.21 M220.00 419.69h3.21 M220.00 394.91h3.21 M220.00 436.70h3.21 M220.00 439.53h3.21 M220.00 444.84h3.21 M220.00 447.32h3.21 M220.00 450.15h3.21 M223.21 376.87h3.21 M223.21 420.04h3.21 M226.42 376.87h3.21 M226.42 420.04h3.21 M229.62 376.87h3.21 M229.62 420.04h3.21 M232.83 376.87h3.21 M232.83 420.04h3.21 M236.03 376.87h3.21 M236.03 420.04h3.21 M239.24 376.87h3.21 M239.24 420.04h3.21 M242.45 376.87h3.21 M242.45 420.04h3.21 M245.65 376.87h3.21 M245.65 420.04h3.21 M248.86 376.87h3.21 M248.86 420.04h3.21 M252.07 376.87h3.21 M252.07 420.04h3.21 M255.27 376.87h3.21 M255.27 420.04h3.21 M258.48 376.87h3.21 M258.48 420.04h3.21 M261.69 376.87h3.21 M261.69 420.04h3.21 M264.89 381.89h3.21 M264.89 422.88h3.21 M264.89 395.62h3.21 M264.89 444.84h3.21 M268.10 381.89h3.21 M268.10 422.88h3.21 M268.10 395.62h3.21 M268.10 444.84h3.21 M271.30 381.89h3.21 M271.30 422.88h3.21 M271.30 395.62h3.21 M271.30 444.84h3.21 M274.51 384.76h3.21 M277.72 384.76h3.21 M280.92 384.76h3.21 M284.13 384.76h3.21 M287.34 384.76h3.21 M290.54 384.76h3.21 M293.75 382.61h3.21 M293.75 422.88h3.21 M293.75 393.14h3.21 M293.75 437.05h3.21 M296.95 384.76h3.21 M300.16 384.76h3.21 M303.37 384.76h3.21 M306.57 384.76h3.21 M309.78 384.76h3.21 M312.99 384.76h3.21 M316.19 384.76h3.21 M319.40 384.76h3.21 M322.60 384.76h3.21 M325.81 384.76h3.21 M329.02 384.76h3.21 M332.22 384.76h3.21 M335.43 384.76h3.21 M338.64 375.79h3.21 M338.64 414.73h3.21 M338.64 405.88h3.21 M338.64 431.74h3.21 M338.64 433.51h3.21 M338.64 435.63h3.21 M338.64 439.17h3.21 M338.64 443.42h3.21 M338.64 459.35h3.21 M341.84 380.81h3.21 M341.84 418.27h3.21 M341.84 409.42h3.21 M341.84 432.45h3.21 M341.84 433.86h3.21 M341.84 439.53h3.21 M341.84 441.30h3.21 M341.84 442.71h3.21 M341.84 462.18h3.21 M345.05 383.33h3.21 M345.05 421.81h3.21 M345.05 408.72h3.21 M345.05 431.03h3.21 M345.05 440.24h3.21 M345.05 442.36h3.21 M345.05 460.06h3.21 M348.26 382.61h3.21 M348.26 421.11h3.21 M348.26 411.19h3.21 M348.26 428.91h3.21 M348.26 433.51h3.21 M348.26 437.05h3.21 M348.26 460.06h3.21 M351.46 385.48h3.21 M351.46 424.29h3.21 M351.46 411.55h3.21 M351.46 429.97h3.21 M351.46 432.09h3.21 M351.46 437.05h3.21 M351.46 460.06h3.21 M354.67 383.69h3.21 M354.67 422.88h3.21 M354.67 412.61h3.21 M357.87 383.69h3.21 M357.87 422.88h3.21 M357.87 412.61h3.21 M361.08 414.03h3.21 M364.29 414.03h3.21 M367.49 384.76h3.21 M367.49 414.03h3.21 M367.49 432.45h3.21 M367.49 434.22h3.21 M370.70 423.58h3.21 M370.70 414.03h3.21 M373.91 423.23h3.21 M373.91 421.46h3.21 M373.91 445.19h3.21 M377.11 423.23h3.21 M377.11 414.73h3.21 M380.32 380.81h3.21 M380.32 420.04h3.21 M380.32 410.84h3.21 M380.32 434.57h3.21 M380.32 460.77h3.21 M383.52 380.81h3.21 M383.52 420.04h3.21 M383.52 410.84h3.21 M383.52 434.57h3.21 M383.52 460.77h3.21 M386.73 380.81h3.21 M386.73 418.98h3.21 M386.73 417.92h3.21 M386.73 443.07h3.21 M389.94 380.81h3.21 M389.94 418.98h3.21 M389.94 417.92h3.21 M389.94 444.84h3.21 M393.14 418.63h3.21 M393.14 447.67h3.21 M393.14 449.44h3.21 M396.35 423.23h3.21 M396.35 451.21h3.21 M396.35 453.33h3.21 M399.56 421.46h3.21 M399.56 449.44h3.21 M399.56 452.98h3.21 M399.56 461.83h3.21 M402.76 385.48h3.21 M402.76 421.46h3.21 M402.76 449.44h3.21 M402.76 452.98h3.21 M402.76 461.83h3.21 M405.97 423.94h3.21 M409.17 385.48h3.21 M409.17 423.94h3.21 M412.38 423.94h3.21 M415.59 423.94h3.21 M418.79 423.94h3.21 M422.00 385.12h3.21 M422.00 423.23h3.21 M422.00 421.11h3.21 M422.00 449.44h3.21 M422.00 450.50h3.21 M422.00 453.33h3.21 M422.00 454.40h3.21 M422.00 458.64h3.21 M422.00 459.35h3.21 M457.27 379.02h3.21 M457.27 415.44h3.21 M457.27 414.38h3.21 M457.27 429.62h3.21 M457.27 438.47h3.21 M457.27 439.53h3.21 M457.27 452.98h3.21 M457.27 456.52h3.21 M457.27 462.18h3.21 M460.48 379.02h3.21 M460.48 415.44h3.21 M460.48 414.38h3.21 M460.48 429.62h3.21 M460.48 438.47h3.21 M460.48 439.53h3.21 M460.48 452.98h3.21 M460.48 456.52h3.21 M460.48 462.18h3.21 M463.68 375.07h3.21 M463.68 412.61h3.21 M466.89 375.07h3.21 M466.89 412.61h3.21 M470.09 375.07h3.21 M470.09 412.61h3.21 M473.30 375.07h3.21 M473.30 412.61h3.21 M476.51 375.07h3.21 M476.51 412.61h3.21 M479.71 375.07h3.21 M479.71 412.61h3.21 M482.92 375.07h3.21 M482.92 412.61h3.21 M486.13 375.07h3.21 M486.13 412.61h3.21 M489.33 375.07h3.21 M489.33 412.61h3.21 M492.54 375.07h3.21 M492.54 412.61h3.21 M495.75 375.07h3.21 M495.75 412.61h3.21 M498.95 375.07h3.21 M498.95 412.61h3.21 M502.16 375.07h3.21 M502.16 412.61h3.21 M505.36 375.07h3.21 M505.36 412.61h3.21 M508.57 375.07h3.21 M508.57 412.61h3.21 M511.78 375.07h3.21 M511.78 412.61h3.21 M514.98 375.07h3.21 M514.98 412.61h3.21 M518.19 375.07h3.21 M518.19 412.61h3.21 M521.40 375.07h3.21 M521.40 412.61h3.21 M524.60 375.07h3.21 M524.60 412.61h3.21 M527.81 375.07h3.21 M527.81 412.61h3.21 M531.01 375.07h3.21 M531.01 412.61h3.21 M534.22 375.07h3.21 M534.22 412.61h3.21 M537.43 375.07h3.21 M537.43 412.61h3.21 M540.63 420.75h3.21 M540.63 449.44h3.21 M563.08 382.61h3.21 M563.08 420.75h3.21 M563.08 456.17h3.21" stroke="#fff" stroke-width="0.6" stroke-opacity="0.8"/><path d="M14.80 349V465 M18.01 349V465 M21.21 349V465 M24.42 349V465 M27.63 349V465 M30.83 349V465 M34.04 349V465 M37.24 349V465 M40.45 349V465 M43.66 349V465 M46.86 349V465 M50.07 349V465 M53.28 349V465 M56.48 349V465 M59.69 349V465 M62.89 349V465 M66.10 349V465 M69.31 349V465 M72.51 349V465 M75.72 349V465 M78.93 349V465 M82.13 349V465 M85.34 349V465 M88.54 349V465 M91.75 349V465 M94.96 349V465 M98.16 349V465 M101.37 349V465 M104.58 349V465 M107.78 349V465 M110.99 349V465 M114.20 349V465 M117.40 349V465 M120.61 349V465 M123.81 349V465 M127.02 349V465 M130.23 349V465 M133.43 349V465 M136.64 349V465 M139.85 349V465 M143.05 349V465 M146.26 349V465 M149.46 349V465 M152.67 349V465 M155.88 349V465 M159.08 349V465 M162.29 349V465 M165.50 349V465 M168.70 349V465 M171.91 349V465 M175.12 349V465 M178.32 349V465 M181.53 349V465 M184.73 349V465 M187.94 349V465 M191.15 349V465 M194.35 349V465 M197.56 349V465 M200.77 349V465 M203.97 349V465 M207.18 349V465 M210.38 349V465 M213.59 349V465 M216.80 349V465 M220.00 349V465 M223.21 349V465 M226.42 349V465 M229.62 349V465 M232.83 349V465 M236.03 349V465 M239.24 349V465 M242.45 349V465 M245.65 349V465 M248.86 349V465 M252.07 349V465 M255.27 349V465 M258.48 349V465 M261.69 349V465 M264.89 349V465 M268.10 349V465 M271.30 349V465 M274.51 349V465 M277.72 349V465 M280.92 349V465 M284.13 349V465 M287.34 349V465 M290.54 349V465 M293.75 349V465 M296.95 349V465 M300.16 349V465 M303.37 349V465 M306.57 349V465 M309.78 349V465 M312.99 349V465 M316.19 349V465 M319.40 349V465 M322.60 349V465 M325.81 349V465 M329.02 349V465 M332.22 349V465 M335.43 349V465 M338.64 349V465 M341.84 349V465 M345.05 349V465 M348.26 349V465 M351.46 349V465 M354.67 349V465 M357.87 349V465 M361.08 349V465 M364.29 349V465 M367.49 349V465 M370.70 349V465 M373.91 349V465 M377.11 349V465 M380.32 349V465 M383.52 349V465 M386.73 349V465 M389.94 349V465 M393.14 349V465 M396.35 349V465 M399.56 349V465 M402.76 349V465 M405.97 349V465 M409.17 349V465 M412.38 349V465 M415.59 349V465 M418.79 349V465 M422.00 349V465 M425.21 349V465 M428.41 349V465 M431.62 349V465 M434.83 349V465 M438.03 349V465 M441.24 349V465 M444.44 349V465 M447.65 349V465 M450.86 349V465 M454.06 349V465 M457.27 349V465 M460.48 349V465 M463.68 349V465 M466.89 349V465 M470.09 349V465 M473.30 349V465 M476.51 349V465 M479.71 349V465 M482.92 349V465 M486.13 349V465 M489.33 349V465 M492.54 349V465 M495.75 349V465 M498.95 349V465 M502.16 349V465 M505.36 349V465 M508.57 349V465 M511.78 349V465 M514.98 349V465 M518.19 349V465 M521.40 349V465 M524.60 349V465 M527.81 349V465 M531.01 349V465 M534.22 349V465 M537.43 349V465 M540.63 349V465 M543.84 349V465 M547.05 349V465 M550.25 349V465 M553.46 349V465 M556.66 349V465 M559.87 349V465 M563.08 349V465 M566.28 349V465 M569.49 349V465 M572.70 349V465 M575.90 349V465 M579.11 349V465 M582.32 349V465 M585.52 349V465 M588.73 349V465 M591.93 349V465 M595.14 349V465 M598.35 349V465 M601.55 349V465 M604.76 349V465 M607.97 349V465 M611.17 349V465 M614.38 349V465 M617.58 349V465 M620.79 349V465 M624.00 349V465 M627.20 349V465" stroke="#fff" stroke-width="1.3" stroke-opacity="0.72"/></g>
<g><rect x="14.1" y="465.6" width="33.9" height="5.2" fill="url(#g0)"/><rect x="49.6" y="465.6" width="25.3" height="5.2" fill="url(#g1)"/><rect x="76.1" y="465.6" width="62.1" height="5.2" fill="url(#g2)"/><rect x="139.1" y="465.6" width="19.0" height="5.2" fill="url(#g3)"/><rect x="161.2" y="465.6" width="7.0" height="5.2" fill="url(#g4)"/><rect x="171.3" y="465.6" width="15.7" height="5.2" fill="url(#g5)"/><rect x="187.8" y="465.6" width="14.2" height="5.2" fill="url(#g6)"/><rect x="203.8" y="465.6" width="12.1" height="5.2" fill="url(#g7)"/><rect x="223.2" y="465.6" width="40.7" height="5.2" fill="url(#g8)"/><rect x="265.1" y="465.6" width="8.8" height="5.2" fill="url(#g9)"/><rect x="274.9" y="465.6" width="18.2" height="5.2" fill="url(#g10)"/><rect x="297.0" y="465.6" width="40.3" height="5.2" fill="url(#g11)"/><rect x="355.2" y="465.6" width="11.8" height="5.2" fill="url(#g12)"/><rect x="370.9" y="465.6" width="3.6" height="5.2" fill="url(#g13)"/><rect x="377.0" y="465.6" width="3.8" height="5.2" fill="url(#g14)"/><rect x="396.9" y="465.6" width="8.6" height="5.2" fill="url(#g15)"/><rect x="406.8" y="465.6" width="15.2" height="5.2" fill="url(#g16)"/><rect x="425.4" y="465.6" width="30.8" height="5.2" fill="url(#g17)"/><rect x="457.3" y="465.6" width="5.1" height="5.2" fill="url(#g18)"/><rect x="464.0" y="465.6" width="75.6" height="5.2" fill="url(#g19)"/><rect x="543.0" y="465.6" width="19.4" height="5.2" fill="url(#g20)"/><rect x="566.8" y="465.6" width="61.2" height="5.2" fill="url(#g21)"/></g>
<g font-size="7.6" fill="#111" stroke="#111" stroke-width="0.28"><text transform="translate(31.2,477.7) rotate(-45)" x="0" y="2.6" text-anchor="middle">IC</text><text transform="translate(64.9,478.0) rotate(-45)" x="0" y="2.6" text-anchor="middle">CI</text><text transform="translate(108.2,478.5) rotate(-45)" x="0" y="2.6" text-anchor="middle">PU</text><text transform="translate(142.9,481.2) rotate(-45)" x="0" y="2.6" text-anchor="middle">SOO</text><text transform="translate(159.4,483.2) rotate(-45)" x="0" y="2.6" text-anchor="middle">WM-1</text><text transform="translate(174.0,482.6) rotate(-45)" x="0" y="2.6" text-anchor="middle">WM-2</text><text transform="translate(193.5,478.2) rotate(-45)" x="0" y="2.6" text-anchor="middle">HJ</text><text transform="translate(205.3,482.3) rotate(-45)" x="0" y="2.6" text-anchor="middle">MU-1</text><text transform="translate(234.5,478.5) rotate(-45)" x="0" y="2.6" text-anchor="middle">SM</text><text transform="translate(264.8,480.7) rotate(-45)" x="0" y="2.6" text-anchor="middle">NF-1</text><text transform="translate(294.9,481.3) rotate(-45)" x="0" y="2.6" text-anchor="middle">NF-2</text><text transform="translate(365.0,481.9) rotate(-45)" x="0" y="2.6" text-anchor="middle">MU-2</text><text transform="translate(396.5,481.5) rotate(-45)" x="0" y="2.6" text-anchor="middle">ST-1</text><text transform="translate(424.0,482.1) rotate(-45)" x="0" y="2.6" text-anchor="middle">ST-2</text><text transform="translate(459.1,479.1) rotate(-45)" x="0" y="2.6" text-anchor="middle">JG</text><text transform="translate(489.5,481.5) rotate(-45)" x="0" y="2.6" text-anchor="middle">SWO</text><text transform="translate(570.1,479.6) rotate(-45)" x="0" y="2.6" text-anchor="middle">PK</text></g>
<g font-size="7" fill="#111" stroke="#111" stroke-width="0.25"><text x="630.7" y="370.9"><tspan font-style="italic">K</tspan> = 2</text><text x="630.7" y="410.5"><tspan font-style="italic">K</tspan> = 3</text><text x="630.7" y="447.3"><tspan font-style="italic">K</tspan> = 12</text></g>
<g font-size="7" fill="#111" stroke-width="0.2"><path d="M209 470.8V497.2H224.4V502.2" stroke="#d06a2c" stroke-width="1.0" fill="none"/><path d="M222.9 500.6L224.4 503.8L225.9 500.6Z" fill="#d06a2c"/><path d="M217.8 465V539.3H234.2" stroke="#eea478" stroke-width="1.1" fill="none"/><path d="M233.4 537.8L236.4 539.3L233.4 540.8Z" fill="#d06a2c"/><path d="M284.7 471.5V497.2H262.4V502.2" stroke="#d06a2c" stroke-width="1.0" fill="none"/><path d="M260.9 500.6L262.4 503.8L263.9 500.6Z" fill="#d06a2c"/><path d="M269.2 471.5V539.3H254.0" stroke="#eea478" stroke-width="1.1" fill="none"/><path d="M255.0 537.8L252.0 539.3L255.0 540.8Z" fill="#d06a2c"/><rect x="223.9" y="505.5" width="1.7" height="17.1" fill="#1010c8"/><rect x="262.3" y="505.5" width="1.7" height="17.1" fill="#ffff80"/><rect x="238.1" y="533.1" width="1.7" height="6.9" fill="#1010c8"/><rect x="238.1" y="540.0" width="1.7" height="10.5" fill="#ffff80"/><rect x="247.3" y="533.1" width="1.7" height="6.9" fill="#1010c8"/><rect x="247.3" y="540.0" width="1.7" height="10.5" fill="#ffff80"/><path d="M227.6 521.5L237.8 529.4M250.6 529.4L261.1 521.5" stroke="#1a1a1a" stroke-width="0.9"/><text stroke="#111" x="219.8" y="516.9" text-anchor="end">CM24</text><text stroke="#111" x="266.8" y="516.9">NF-2</text><text stroke="#111" x="233.6" y="551.6" text-anchor="end">CM30</text><text stroke="#111" x="252.0" y="551.6">NF-1</text></g>
<g><circle cx="439.3" cy="24.9" r="2.4" fill="#b2df8a" fill-opacity="0.55"/><circle cx="431.4" cy="35.4" r="2.4" fill="#b2df8a" fill-opacity="0.45"/><circle cx="449.2" cy="37.8" r="2.4" fill="#b2df8a" fill-opacity="0.6"/><circle cx="459.4" cy="47.3" r="2.4" fill="#b2df8a" fill-opacity="0.65"/><circle cx="418.3" cy="40.9" r="2.4" fill="#b2df8a" fill-opacity="0.5"/><circle cx="423.9" cy="32.5" r="2.4" fill="#b2df8a" fill-opacity="0.45"/><circle cx="413.2" cy="35.6" r="2.4" fill="#b2df8a" fill-opacity="0.4"/><circle cx="422.9" cy="36.1" r="2.4" fill="#b2df8a" fill-opacity="0.45"/><circle cx="415.3" cy="62.6" r="2.4" fill="#b2df8a" fill-opacity="0.5"/><circle cx="429.6" cy="66.1" r="2.4" fill="#b2df8a" fill-opacity="0.5"/><circle cx="427.5" cy="69.0" r="2.4" fill="#b2df8a" fill-opacity="0.5"/><circle cx="424.0" cy="74.9" r="2.4" fill="#b2df8a" fill-opacity="0.5"/><circle cx="432.5" cy="75.2" r="2.4" fill="#b2df8a" fill-opacity="0.75"/><circle cx="438.0" cy="79.5" r="2.4" fill="#b2df8a" fill-opacity="0.5"/><circle cx="450.9" cy="77.8" r="2.4" fill="#b2df8a" fill-opacity="0.75"/><circle cx="474.0" cy="83.6" r="2.4" fill="#b2df8a" fill-opacity="0.5"/><circle cx="423.8" cy="93.3" r="2.4" fill="#b2df8a" fill-opacity="0.5"/><circle cx="452.4" cy="104.6" r="2.4" fill="#b2df8a" fill-opacity="0.65"/><circle cx="452.6" cy="106.0" r="2.4" fill="#b2df8a" fill-opacity="0.4"/><circle cx="454.2" cy="122.1" r="2.4" fill="#b2df8a" fill-opacity="0.6"/><circle cx="454.3" cy="161.6" r="2.4" fill="#b2df8a" fill-opacity="0.5"/><circle cx="439.9" cy="169.7" r="2.4" fill="#b2df8a" fill-opacity="0.5"/><circle cx="442.7" cy="175.3" r="2.4" fill="#b2df8a" fill-opacity="0.5"/><circle cx="439.9" cy="105.6" r="2.4" fill="#b2df8a" fill-opacity="0.7"/><circle cx="440.2" cy="104.0" r="2.4" fill="#b2df8a" fill-opacity="0.4"/><circle cx="425.0" cy="72.3" r="2.4" fill="#b8860b" fill-opacity="0.8"/><circle cx="435.7" cy="94.1" r="2.4" fill="#b8860b" fill-opacity="0.7"/><circle cx="439.8" cy="107.8" r="2.4" fill="#b8860b" fill-opacity="0.7"/><circle cx="465.5" cy="112.8" r="2.4" fill="#b8860b" fill-opacity="0.9"/><circle cx="469.6" cy="112.2" r="2.4" fill="#b8860b" fill-opacity="0.7"/><circle cx="464.8" cy="111.5" r="2.4" fill="#b8860b" fill-opacity="0.6"/><circle cx="489.4" cy="94.6" r="2.4" fill="#b8860b" fill-opacity="0.7"/><circle cx="504.4" cy="109.6" r="2.4" fill="#b8860b" fill-opacity="0.7"/><circle cx="505.7" cy="113.5" r="2.4" fill="#b8860b" fill-opacity="0.7"/><circle cx="507.2" cy="82.2" r="2.4" fill="#cab2d6" fill-opacity="0.75"/><circle cx="505.6" cy="92.4" r="2.4" fill="#cab2d6" fill-opacity="0.75"/><circle cx="498.6" cy="125.4" r="2.4" fill="#cab2d6" fill-opacity="0.6"/><circle cx="425.3" cy="20.1" r="2.4" fill="#ff7f00" fill-opacity="0.5"/><circle cx="424.7" cy="16.0" r="2.4" fill="#ff7f00" fill-opacity="1.0"/><circle cx="424.7" cy="15.0" r="2.4" fill="#ff7f00" fill-opacity="0.6"/><circle cx="412.4" cy="33.5" r="2.4" fill="#1b9e77" fill-opacity="0.95"/><circle cx="421.9" cy="33.5" r="2.4" fill="#1b9e77" fill-opacity="0.9"/><circle cx="420.9" cy="42.2" r="2.4" fill="#1b9e77" fill-opacity="0.7"/><circle cx="422.9" cy="46.6" r="2.4" fill="#1b9e77" fill-opacity="0.9"/><circle cx="430.6" cy="48.4" r="2.4" fill="#1b9e77" fill-opacity="0.7"/><circle cx="466.8" cy="199.9" r="2.4" fill="#4d0a26" fill-opacity="0.55"/><circle cx="468.6" cy="200.6" r="2.4" fill="#4d0a26" fill-opacity="1.0"/><circle cx="469.2" cy="201.9" r="2.4" fill="#4d0a26" fill-opacity="1.0"/><circle cx="588.1" cy="81.1" r="2.4" fill="#a6cee3" fill-opacity="0.9"/><circle cx="432.2" cy="188.0" r="2.4" fill="#b2df8a" fill-opacity="0.6"/><ellipse cx="592.2" cy="70.4" rx="2.7" ry="3.5" fill="#666666" fill-opacity="0.95"/><ellipse cx="584.0" cy="85.8" rx="2.6" ry="3.4" fill="#1a6fb0" fill-opacity="0.95"/><ellipse cx="482.0" cy="36.8" rx="2.6" ry="3.4" transform="rotate(40 482 36.8)" fill="#b44dff" fill-opacity="0.9"/><path d="M444.5 155.8L448.0 161.9L441.0 161.9Z" fill="#2b2aa6" fill-opacity="0.97"/><path d="M431.8 183.20000000000002L435.3 189.3L428.3 189.3Z" fill="#2b2aa6" fill-opacity="0.97"/></g>
<g><rect x="402.8" y="6.1" width="199.2" height="205.3" fill="none" stroke="#222" stroke-width="1.35"/><line x1="400.6" y1="43.6" x2="402.8" y2="43.6" stroke="#2a2a2a" stroke-width="0.8"/><line x1="400.6" y1="84.4" x2="402.8" y2="84.4" stroke="#2a2a2a" stroke-width="0.8"/><line x1="400.6" y1="125.2" x2="402.8" y2="125.2" stroke="#2a2a2a" stroke-width="0.8"/><line x1="400.6" y1="166.0" x2="402.8" y2="166.0" stroke="#2a2a2a" stroke-width="0.8"/><line x1="400.6" y1="206.8" x2="402.8" y2="206.8" stroke="#2a2a2a" stroke-width="0.8"/><line x1="432.7" y1="211.4" x2="432.7" y2="213.6" stroke="#2a2a2a" stroke-width="0.8"/><line x1="475.0" y1="211.4" x2="475.0" y2="213.6" stroke="#2a2a2a" stroke-width="0.8"/><line x1="517.3" y1="211.4" x2="517.3" y2="213.6" stroke="#2a2a2a" stroke-width="0.8"/><line x1="559.6" y1="211.4" x2="559.6" y2="213.6" stroke="#2a2a2a" stroke-width="0.8"/></g>
<g font-size="7.7" fill="#1a1a1a" stroke="#1a1a1a" stroke-width="0.3"><text x="399.6" y="46.4" text-anchor="end">0.05</text><text x="399.6" y="87.2" text-anchor="end">0.00</text><text x="399.6" y="128.0" text-anchor="end">−0.05</text><text x="399.6" y="168.8" text-anchor="end">−0.10</text><text x="399.6" y="209.6" text-anchor="end">−0.15</text><text x="432.7" y="221.0" text-anchor="middle">−0.05</text><text x="475.0" y="221.0" text-anchor="middle">0.00</text><text x="517.3" y="221.0" text-anchor="middle">0.05</text><text x="559.6" y="221.0" text-anchor="middle">0.10</text><text x="499.2" y="229.3" text-anchor="middle">PC1 (39.6%)</text><text transform="translate(375.6,110.5) rotate(-90)" text-anchor="middle">PC2 (15.2%)</text></g>
<g font-size="6.6" fill="#111" stroke="#111" stroke-width="0.25"><text x="605" y="11.7">Catalog</text><circle cx="609.4" cy="19.5" r="2.0" fill="#a6cee3" stroke="none"/><text x="617.1" y="21.6">Citron</text><circle cx="609.4" cy="28.9" r="2.0" fill="#1f78b4" stroke="none"/><text x="617.1" y="31.0">Ichang Papeda</text><circle cx="609.4" cy="38.2" r="2.0" fill="#b2df8a" stroke="none"/><text x="617.1" y="40.3">Mandarin Unclassified</text><path d="M609.4 45.0L612.1 49.5L606.7 49.5Z" fill="#7b6fd0" stroke="none"/><text x="617.1" y="49.7">Nanfengmiju Tangerine</text><circle cx="609.4" cy="56.9" r="2.0" fill="#ff7f00" stroke="none"/><text x="617.1" y="59.0">Ponkan Tangerine</text><circle cx="609.4" cy="66.3" r="2.0" fill="#666666" stroke="none"/><text x="617.1" y="68.4">Pummelo</text><circle cx="609.4" cy="75.7" r="2.0" fill="#4d0a26" stroke="none"/><text x="617.1" y="77.8">Satsuma Mandarin</text><circle cx="609.4" cy="85.0" r="2.0" fill="#1b9e77" stroke="none"/><text x="617.1" y="87.1">Shatangju Tangerine</text><circle cx="609.4" cy="94.4" r="2.0" fill="#cab2d6" stroke="none"/><text x="617.1" y="96.5">Sour Orange</text><circle cx="609.4" cy="103.7" r="2.0" fill="#b44dff" stroke="none"/><text x="617.1" y="105.8">Sweet Orange</text><circle cx="609.4" cy="113.1" r="2.0" fill="#b8860b" stroke="none"/><text x="617.1" y="115.2">Wild Mandarin</text></g>
<g fill="#000"><path transform="translate(-0.6,9.7) scale(0.006836,-0.006836)" d="M393 -20Q236 -20 148.0 65.5Q60 151 60 306Q60 474 169.5 562.0Q279 650 487 652L720 656V711Q720 817 683.0 868.5Q646 920 562 920Q484 920 447.5 884.5Q411 849 402 767L109 781Q136 939 253.5 1020.5Q371 1102 574 1102Q779 1102 890.0 1001.0Q1001 900 1001 714V320Q1001 229 1021.5 194.5Q1042 160 1090 160Q1122 160 1152 166V14Q1127 8 1107.0 3.0Q1087 -2 1067.0 -5.0Q1047 -8 1024.5 -10.0Q1002 -12 972 -12Q866 -12 815.5 40.0Q765 92 755 193H749Q631 -20 393 -20ZM720 501 576 499Q478 495 437.0 477.5Q396 460 374.5 424.0Q353 388 353 328Q353 251 388.5 213.5Q424 176 483 176Q549 176 603.5 212.0Q658 248 689.0 311.5Q720 375 720 446Z"/><path transform="translate(370.8,9.6) scale(0.006836,-0.006836)" d="M1167 545Q1167 277 1059.5 128.5Q952 -20 752 -20Q637 -20 553.0 30.0Q469 80 424 174H422Q422 139 417.5 78.0Q413 17 408 0H135Q143 93 143 247V1484H424V1070L420 894H424Q519 1102 770 1102Q962 1102 1064.5 956.5Q1167 811 1167 545ZM874 545Q874 729 820.0 818.0Q766 907 653 907Q539 907 479.5 811.5Q420 716 420 536Q420 364 478.5 268.0Q537 172 651 172Q874 172 874 545Z"/><path transform="translate(-0.3,346.4) scale(0.006836,-0.006836)" d="M594 -20Q348 -20 214.0 126.5Q80 273 80 535Q80 803 215.0 952.5Q350 1102 598 1102Q789 1102 914.0 1006.0Q1039 910 1071 741L788 727Q776 810 728.0 859.5Q680 909 592 909Q375 909 375 546Q375 172 596 172Q676 172 730.0 222.5Q784 273 797 373L1079 360Q1064 249 999.5 162.0Q935 75 830.0 27.5Q725 -20 594 -20Z"/></g>
</svg>
</body></html>
